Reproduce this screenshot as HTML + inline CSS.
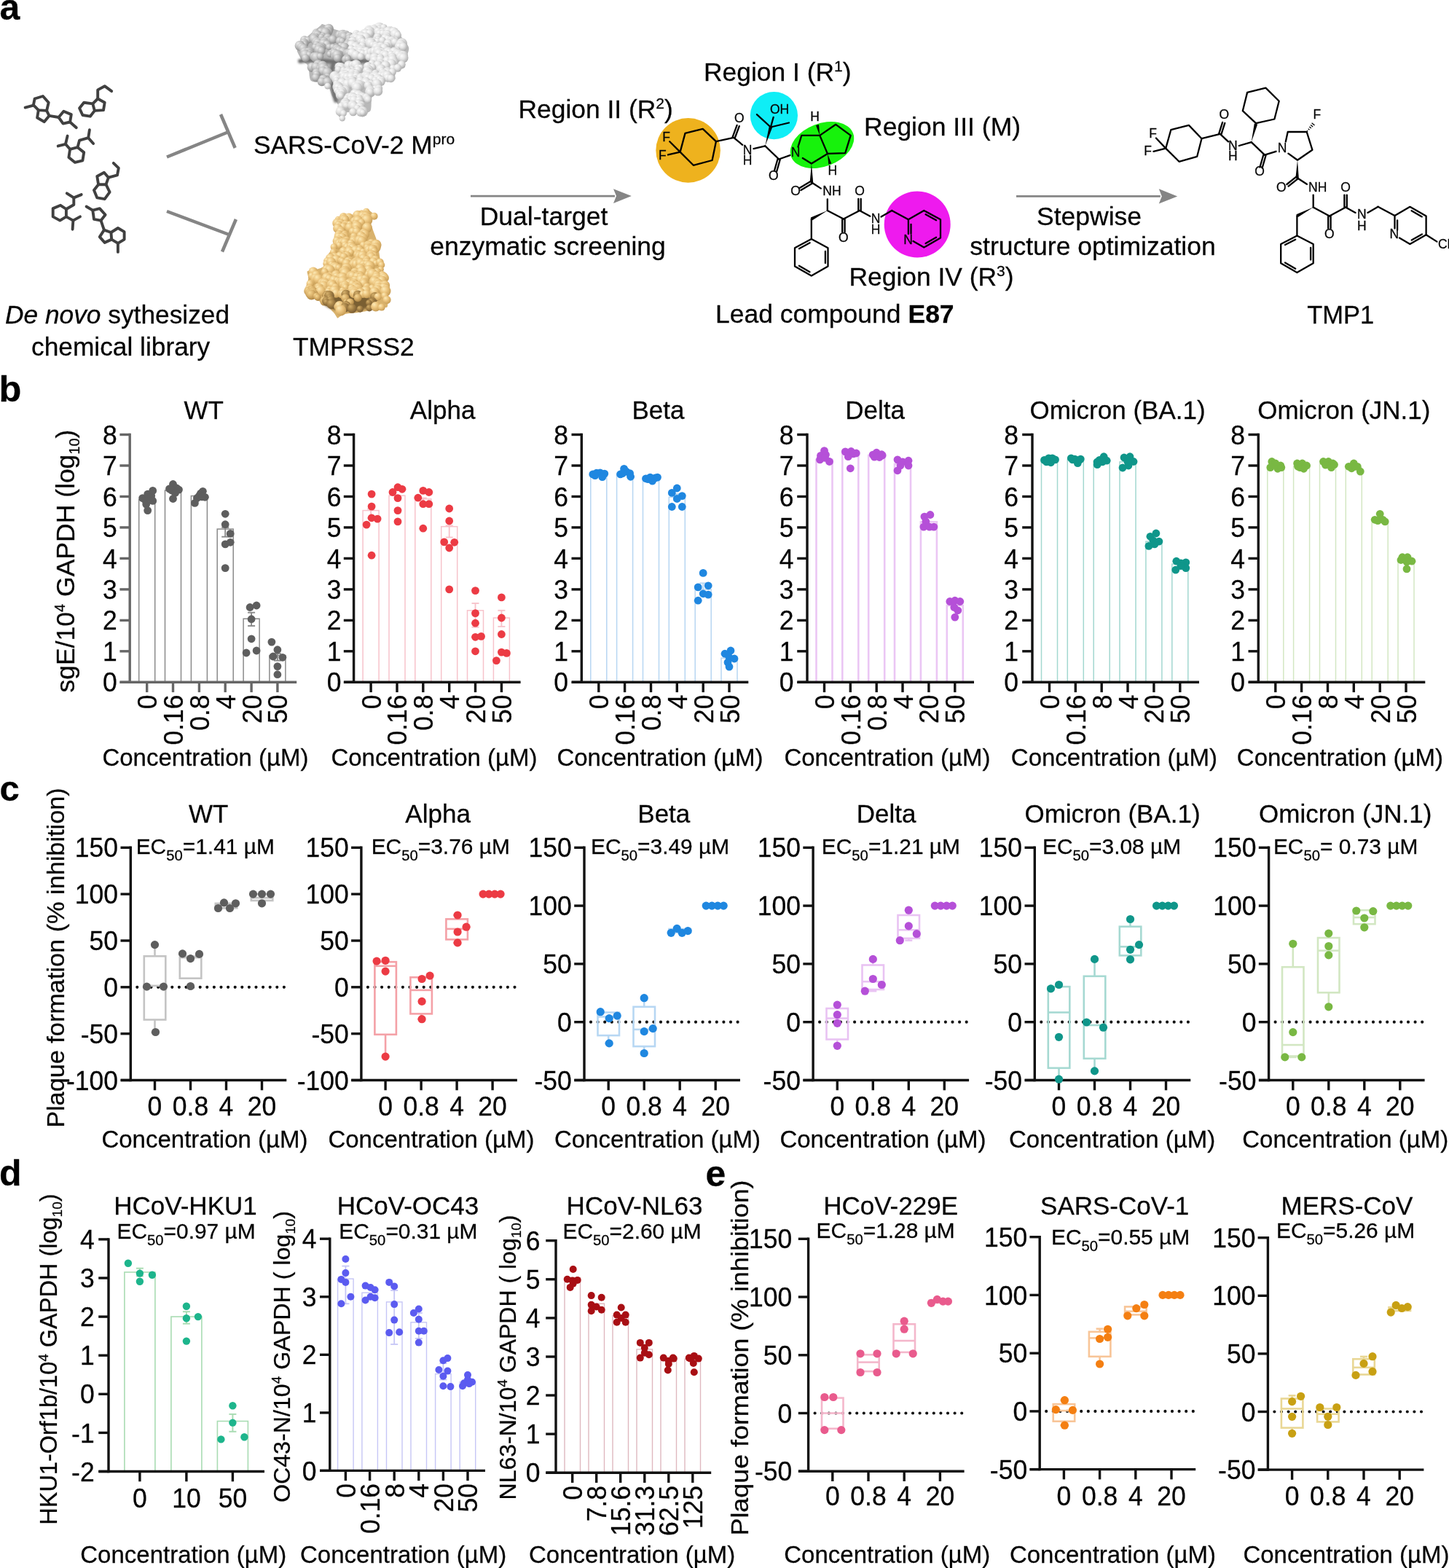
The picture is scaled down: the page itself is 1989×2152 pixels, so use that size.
<!DOCTYPE html>
<html><head><meta charset="utf-8"><title>Figure</title>
<style>html,body{margin:0;padding:0;background:#fff;}svg{display:block;}text{font-family:'Liberation Sans', Arial, Helvetica, sans-serif;stroke:#1a1a1a;stroke-width:0.3px;}</style>
</head><body>
<svg width="1989" height="2152" viewBox="0 0 1989 2152">
<rect width="1989" height="2152" fill="#fff"/>
<rect x="190.7" y="685.7" width="22.0" height="250.6" fill="none" stroke="#8a8a8a" stroke-width="1.5"/>
<rect x="226.5" y="673.0" width="22.0" height="263.3" fill="none" stroke="#8a8a8a" stroke-width="1.5"/>
<rect x="262.4" y="680.6" width="22.0" height="255.7" fill="none" stroke="#8a8a8a" stroke-width="1.5"/>
<rect x="298.2" y="726.1" width="22.0" height="210.2" fill="none" stroke="#8a8a8a" stroke-width="1.5"/>
<rect x="334.1" y="849.2" width="22.0" height="87.1" fill="none" stroke="#8a8a8a" stroke-width="1.5"/>
<rect x="369.9" y="899.8" width="22.0" height="36.5" fill="none" stroke="#8a8a8a" stroke-width="1.5"/>
<line x1="201.7" y1="690.8" x2="201.7" y2="680.6" stroke="#8a8a8a" stroke-width="1.9" stroke-linecap="butt"/>
<line x1="196.7" y1="690.8" x2="206.7" y2="690.8" stroke="#8a8a8a" stroke-width="1.9" stroke-linecap="butt"/>
<line x1="196.7" y1="680.6" x2="206.7" y2="680.6" stroke="#8a8a8a" stroke-width="1.9" stroke-linecap="butt"/>
<line x1="309.2" y1="736.7" x2="309.2" y2="723.9" stroke="#8a8a8a" stroke-width="1.9" stroke-linecap="butt"/>
<line x1="304.2" y1="736.7" x2="314.2" y2="736.7" stroke="#8a8a8a" stroke-width="1.9" stroke-linecap="butt"/>
<line x1="304.2" y1="723.9" x2="314.2" y2="723.9" stroke="#8a8a8a" stroke-width="1.9" stroke-linecap="butt"/>
<line x1="345.1" y1="859.0" x2="345.1" y2="840.7" stroke="#8a8a8a" stroke-width="1.9" stroke-linecap="butt"/>
<line x1="340.1" y1="859.0" x2="350.1" y2="859.0" stroke="#8a8a8a" stroke-width="1.9" stroke-linecap="butt"/>
<line x1="340.1" y1="840.7" x2="350.1" y2="840.7" stroke="#8a8a8a" stroke-width="1.9" stroke-linecap="butt"/>
<line x1="380.9" y1="906.6" x2="380.9" y2="897.2" stroke="#8a8a8a" stroke-width="1.9" stroke-linecap="butt"/>
<line x1="375.9" y1="906.6" x2="385.9" y2="906.6" stroke="#8a8a8a" stroke-width="1.9" stroke-linecap="butt"/>
<line x1="375.9" y1="897.2" x2="385.9" y2="897.2" stroke="#8a8a8a" stroke-width="1.9" stroke-linecap="butt"/>
<line x1="178.2" y1="594.8" x2="178.2" y2="938.0" stroke="#666666" stroke-width="3.4" stroke-linecap="butt"/>
<line x1="164.4" y1="936.3" x2="178.2" y2="936.3" stroke="#666666" stroke-width="3.4" stroke-linecap="butt"/>
<text x="160.8" y="949.5" font-size="35.5" text-anchor="end" transform="matrix(1 0 0 1.06 0 -56.97)">0</text>
<line x1="164.4" y1="893.8" x2="178.2" y2="893.8" stroke="#666666" stroke-width="3.4" stroke-linecap="butt"/>
<text x="160.8" y="907.0" font-size="35.5" text-anchor="end" transform="matrix(1 0 0 1.06 0 -54.42)">1</text>
<line x1="164.4" y1="851.4" x2="178.2" y2="851.4" stroke="#666666" stroke-width="3.4" stroke-linecap="butt"/>
<text x="160.8" y="864.5" font-size="35.5" text-anchor="end" transform="matrix(1 0 0 1.06 0 -51.87)">2</text>
<line x1="164.4" y1="808.9" x2="178.2" y2="808.9" stroke="#666666" stroke-width="3.4" stroke-linecap="butt"/>
<text x="160.8" y="822.1" font-size="35.5" text-anchor="end" transform="matrix(1 0 0 1.06 0 -49.32)">3</text>
<line x1="164.4" y1="766.4" x2="178.2" y2="766.4" stroke="#666666" stroke-width="3.4" stroke-linecap="butt"/>
<text x="160.8" y="779.6" font-size="35.5" text-anchor="end" transform="matrix(1 0 0 1.06 0 -46.78)">4</text>
<line x1="164.4" y1="723.9" x2="178.2" y2="723.9" stroke="#666666" stroke-width="3.4" stroke-linecap="butt"/>
<text x="160.8" y="737.1" font-size="35.5" text-anchor="end" transform="matrix(1 0 0 1.06 0 -44.23)">5</text>
<line x1="164.4" y1="681.5" x2="178.2" y2="681.5" stroke="#666666" stroke-width="3.4" stroke-linecap="butt"/>
<text x="160.8" y="694.7" font-size="35.5" text-anchor="end" transform="matrix(1 0 0 1.06 0 -41.68)">6</text>
<line x1="164.4" y1="639.0" x2="178.2" y2="639.0" stroke="#666666" stroke-width="3.4" stroke-linecap="butt"/>
<text x="160.8" y="652.2" font-size="35.5" text-anchor="end" transform="matrix(1 0 0 1.06 0 -39.13)">7</text>
<line x1="164.4" y1="596.5" x2="178.2" y2="596.5" stroke="#666666" stroke-width="3.4" stroke-linecap="butt"/>
<text x="160.8" y="609.7" font-size="35.5" text-anchor="end" transform="matrix(1 0 0 1.06 0 -36.58)">8</text>
<line x1="164.7" y1="936.3" x2="407.2" y2="936.3" stroke="#666666" stroke-width="3.4" stroke-linecap="butt"/>
<line x1="201.7" y1="936.3" x2="201.7" y2="950.1" stroke="#666666" stroke-width="3.4" stroke-linecap="butt"/>
<line x1="237.5" y1="936.3" x2="237.5" y2="950.1" stroke="#666666" stroke-width="3.4" stroke-linecap="butt"/>
<line x1="273.4" y1="936.3" x2="273.4" y2="950.1" stroke="#666666" stroke-width="3.4" stroke-linecap="butt"/>
<line x1="309.2" y1="936.3" x2="309.2" y2="950.1" stroke="#666666" stroke-width="3.4" stroke-linecap="butt"/>
<line x1="345.1" y1="936.3" x2="345.1" y2="950.1" stroke="#666666" stroke-width="3.4" stroke-linecap="butt"/>
<line x1="380.9" y1="936.3" x2="380.9" y2="950.1" stroke="#666666" stroke-width="3.4" stroke-linecap="butt"/>
<text x="215.2" y="953.5" font-size="35.5" text-anchor="end" transform="matrix(1.06 0 0 1 -12.91 0) rotate(-90 215.2 953.5)">0</text>
<text x="251.1" y="953.5" font-size="35.5" text-anchor="end" transform="matrix(1.06 0 0 1 -15.07 0) rotate(-90 251.1 953.5)">0.16</text>
<text x="286.9" y="953.5" font-size="35.5" text-anchor="end" transform="matrix(1.06 0 0 1 -17.22 0) rotate(-90 286.9 953.5)">0.8</text>
<text x="322.8" y="953.5" font-size="35.5" text-anchor="end" transform="matrix(1.06 0 0 1 -19.37 0) rotate(-90 322.8 953.5)">4</text>
<text x="358.6" y="953.5" font-size="35.5" text-anchor="end" transform="matrix(1.06 0 0 1 -21.52 0) rotate(-90 358.6 953.5)">20</text>
<text x="394.5" y="953.5" font-size="35.5" text-anchor="end" transform="matrix(1.06 0 0 1 -23.67 0) rotate(-90 394.5 953.5)">50</text>
<text x="279.6" y="575.0" font-size="35" text-anchor="middle">WT</text>
<text x="282.0" y="1051.0" font-size="33" text-anchor="middle">Concentration (µM)</text>
<rect x="498.1" y="700.6" width="22.0" height="235.7" fill="none" stroke="#f7c3cb" stroke-width="1.5"/>
<rect x="534.0" y="680.2" width="22.0" height="256.1" fill="none" stroke="#f7c3cb" stroke-width="1.5"/>
<rect x="569.8" y="684.9" width="22.0" height="251.4" fill="none" stroke="#f7c3cb" stroke-width="1.5"/>
<rect x="605.7" y="722.7" width="22.0" height="213.6" fill="none" stroke="#f7c3cb" stroke-width="1.5"/>
<rect x="641.5" y="837.8" width="22.0" height="98.5" fill="none" stroke="#f7c3cb" stroke-width="1.5"/>
<rect x="677.4" y="848.0" width="22.0" height="88.3" fill="none" stroke="#f7c3cb" stroke-width="1.5"/>
<line x1="509.1" y1="711.2" x2="509.1" y2="698.5" stroke="#f7c3cb" stroke-width="1.9" stroke-linecap="butt"/>
<line x1="504.1" y1="711.2" x2="514.1" y2="711.2" stroke="#f7c3cb" stroke-width="1.9" stroke-linecap="butt"/>
<line x1="504.1" y1="698.5" x2="514.1" y2="698.5" stroke="#f7c3cb" stroke-width="1.9" stroke-linecap="butt"/>
<line x1="580.8" y1="690.8" x2="580.8" y2="683.6" stroke="#f7c3cb" stroke-width="1.9" stroke-linecap="butt"/>
<line x1="575.8" y1="690.8" x2="585.8" y2="690.8" stroke="#f7c3cb" stroke-width="1.9" stroke-linecap="butt"/>
<line x1="575.8" y1="683.6" x2="585.8" y2="683.6" stroke="#f7c3cb" stroke-width="1.9" stroke-linecap="butt"/>
<line x1="616.7" y1="737.5" x2="616.7" y2="721.4" stroke="#f7c3cb" stroke-width="1.9" stroke-linecap="butt"/>
<line x1="611.7" y1="737.5" x2="621.7" y2="737.5" stroke="#f7c3cb" stroke-width="1.9" stroke-linecap="butt"/>
<line x1="611.7" y1="721.4" x2="621.7" y2="721.4" stroke="#f7c3cb" stroke-width="1.9" stroke-linecap="butt"/>
<line x1="652.5" y1="860.7" x2="652.5" y2="828.0" stroke="#f7c3cb" stroke-width="1.9" stroke-linecap="butt"/>
<line x1="647.5" y1="860.7" x2="657.5" y2="860.7" stroke="#f7c3cb" stroke-width="1.9" stroke-linecap="butt"/>
<line x1="647.5" y1="828.0" x2="657.5" y2="828.0" stroke="#f7c3cb" stroke-width="1.9" stroke-linecap="butt"/>
<line x1="688.4" y1="859.9" x2="688.4" y2="837.8" stroke="#f7c3cb" stroke-width="1.9" stroke-linecap="butt"/>
<line x1="683.4" y1="859.9" x2="693.4" y2="859.9" stroke="#f7c3cb" stroke-width="1.9" stroke-linecap="butt"/>
<line x1="683.4" y1="837.8" x2="693.4" y2="837.8" stroke="#f7c3cb" stroke-width="1.9" stroke-linecap="butt"/>
<line x1="485.6" y1="594.8" x2="485.6" y2="938.0" stroke="#111" stroke-width="3.4" stroke-linecap="butt"/>
<line x1="471.8" y1="936.3" x2="485.6" y2="936.3" stroke="#111" stroke-width="3.4" stroke-linecap="butt"/>
<text x="468.6" y="949.5" font-size="35.5" text-anchor="end" transform="matrix(1 0 0 1.06 0 -56.97)">0</text>
<line x1="471.8" y1="893.8" x2="485.6" y2="893.8" stroke="#111" stroke-width="3.4" stroke-linecap="butt"/>
<text x="468.6" y="907.0" font-size="35.5" text-anchor="end" transform="matrix(1 0 0 1.06 0 -54.42)">1</text>
<line x1="471.8" y1="851.4" x2="485.6" y2="851.4" stroke="#111" stroke-width="3.4" stroke-linecap="butt"/>
<text x="468.6" y="864.5" font-size="35.5" text-anchor="end" transform="matrix(1 0 0 1.06 0 -51.87)">2</text>
<line x1="471.8" y1="808.9" x2="485.6" y2="808.9" stroke="#111" stroke-width="3.4" stroke-linecap="butt"/>
<text x="468.6" y="822.1" font-size="35.5" text-anchor="end" transform="matrix(1 0 0 1.06 0 -49.32)">3</text>
<line x1="471.8" y1="766.4" x2="485.6" y2="766.4" stroke="#111" stroke-width="3.4" stroke-linecap="butt"/>
<text x="468.6" y="779.6" font-size="35.5" text-anchor="end" transform="matrix(1 0 0 1.06 0 -46.78)">4</text>
<line x1="471.8" y1="723.9" x2="485.6" y2="723.9" stroke="#111" stroke-width="3.4" stroke-linecap="butt"/>
<text x="468.6" y="737.1" font-size="35.5" text-anchor="end" transform="matrix(1 0 0 1.06 0 -44.23)">5</text>
<line x1="471.8" y1="681.5" x2="485.6" y2="681.5" stroke="#111" stroke-width="3.4" stroke-linecap="butt"/>
<text x="468.6" y="694.7" font-size="35.5" text-anchor="end" transform="matrix(1 0 0 1.06 0 -41.68)">6</text>
<line x1="471.8" y1="639.0" x2="485.6" y2="639.0" stroke="#111" stroke-width="3.4" stroke-linecap="butt"/>
<text x="468.6" y="652.2" font-size="35.5" text-anchor="end" transform="matrix(1 0 0 1.06 0 -39.13)">7</text>
<line x1="471.8" y1="596.5" x2="485.6" y2="596.5" stroke="#111" stroke-width="3.4" stroke-linecap="butt"/>
<text x="468.6" y="609.7" font-size="35.5" text-anchor="end" transform="matrix(1 0 0 1.06 0 -36.58)">8</text>
<line x1="472.1" y1="936.3" x2="714.6" y2="936.3" stroke="#111" stroke-width="3.4" stroke-linecap="butt"/>
<line x1="509.1" y1="936.3" x2="509.1" y2="950.1" stroke="#111" stroke-width="3.4" stroke-linecap="butt"/>
<line x1="545.0" y1="936.3" x2="545.0" y2="950.1" stroke="#111" stroke-width="3.4" stroke-linecap="butt"/>
<line x1="580.8" y1="936.3" x2="580.8" y2="950.1" stroke="#111" stroke-width="3.4" stroke-linecap="butt"/>
<line x1="616.7" y1="936.3" x2="616.7" y2="950.1" stroke="#111" stroke-width="3.4" stroke-linecap="butt"/>
<line x1="652.5" y1="936.3" x2="652.5" y2="950.1" stroke="#111" stroke-width="3.4" stroke-linecap="butt"/>
<line x1="688.4" y1="936.3" x2="688.4" y2="950.1" stroke="#111" stroke-width="3.4" stroke-linecap="butt"/>
<text x="522.6" y="953.5" font-size="35.5" text-anchor="end" transform="matrix(1.06 0 0 1 -31.36 0) rotate(-90 522.6 953.5)">0</text>
<text x="558.5" y="953.5" font-size="35.5" text-anchor="end" transform="matrix(1.06 0 0 1 -33.51 0) rotate(-90 558.5 953.5)">0.16</text>
<text x="594.3" y="953.5" font-size="35.5" text-anchor="end" transform="matrix(1.06 0 0 1 -35.66 0) rotate(-90 594.3 953.5)">0.8</text>
<text x="630.2" y="953.5" font-size="35.5" text-anchor="end" transform="matrix(1.06 0 0 1 -37.81 0) rotate(-90 630.2 953.5)">4</text>
<text x="666.0" y="953.5" font-size="35.5" text-anchor="end" transform="matrix(1.06 0 0 1 -39.96 0) rotate(-90 666.0 953.5)">20</text>
<text x="701.9" y="953.5" font-size="35.5" text-anchor="end" transform="matrix(1.06 0 0 1 -42.11 0) rotate(-90 701.9 953.5)">50</text>
<text x="607.6" y="575.0" font-size="35" text-anchor="middle">Alpha</text>
<text x="596.0" y="1051.0" font-size="33" text-anchor="middle">Concentration (µM)</text>
<rect x="810.8" y="652.6" width="22.0" height="283.7" fill="none" stroke="#b7d6f2" stroke-width="1.5"/>
<rect x="846.6" y="650.1" width="22.0" height="286.2" fill="none" stroke="#b7d6f2" stroke-width="1.5"/>
<rect x="882.5" y="657.3" width="22.0" height="279.0" fill="none" stroke="#b7d6f2" stroke-width="1.5"/>
<rect x="918.3" y="682.3" width="22.0" height="254.0" fill="none" stroke="#b7d6f2" stroke-width="1.5"/>
<rect x="954.2" y="808.9" width="22.0" height="127.4" fill="none" stroke="#b7d6f2" stroke-width="1.5"/>
<rect x="990.0" y="903.2" width="22.0" height="33.1" fill="none" stroke="#b7d6f2" stroke-width="1.5"/>
<line x1="929.3" y1="686.6" x2="929.3" y2="678.1" stroke="#b7d6f2" stroke-width="1.9" stroke-linecap="butt"/>
<line x1="924.3" y1="686.6" x2="934.3" y2="686.6" stroke="#b7d6f2" stroke-width="1.9" stroke-linecap="butt"/>
<line x1="924.3" y1="678.1" x2="934.3" y2="678.1" stroke="#b7d6f2" stroke-width="1.9" stroke-linecap="butt"/>
<line x1="965.2" y1="815.3" x2="965.2" y2="800.4" stroke="#b7d6f2" stroke-width="1.9" stroke-linecap="butt"/>
<line x1="960.2" y1="815.3" x2="970.2" y2="815.3" stroke="#b7d6f2" stroke-width="1.9" stroke-linecap="butt"/>
<line x1="960.2" y1="800.4" x2="970.2" y2="800.4" stroke="#b7d6f2" stroke-width="1.9" stroke-linecap="butt"/>
<line x1="1001.0" y1="905.7" x2="1001.0" y2="900.6" stroke="#b7d6f2" stroke-width="1.9" stroke-linecap="butt"/>
<line x1="996.0" y1="905.7" x2="1006.0" y2="905.7" stroke="#b7d6f2" stroke-width="1.9" stroke-linecap="butt"/>
<line x1="996.0" y1="900.6" x2="1006.0" y2="900.6" stroke="#b7d6f2" stroke-width="1.9" stroke-linecap="butt"/>
<line x1="798.3" y1="594.8" x2="798.3" y2="938.0" stroke="#111" stroke-width="3.4" stroke-linecap="butt"/>
<line x1="784.5" y1="936.3" x2="798.3" y2="936.3" stroke="#111" stroke-width="3.4" stroke-linecap="butt"/>
<text x="779.9" y="949.5" font-size="35.5" text-anchor="end" transform="matrix(1 0 0 1.06 0 -56.97)">0</text>
<line x1="784.5" y1="893.8" x2="798.3" y2="893.8" stroke="#111" stroke-width="3.4" stroke-linecap="butt"/>
<text x="779.9" y="907.0" font-size="35.5" text-anchor="end" transform="matrix(1 0 0 1.06 0 -54.42)">1</text>
<line x1="784.5" y1="851.4" x2="798.3" y2="851.4" stroke="#111" stroke-width="3.4" stroke-linecap="butt"/>
<text x="779.9" y="864.5" font-size="35.5" text-anchor="end" transform="matrix(1 0 0 1.06 0 -51.87)">2</text>
<line x1="784.5" y1="808.9" x2="798.3" y2="808.9" stroke="#111" stroke-width="3.4" stroke-linecap="butt"/>
<text x="779.9" y="822.1" font-size="35.5" text-anchor="end" transform="matrix(1 0 0 1.06 0 -49.32)">3</text>
<line x1="784.5" y1="766.4" x2="798.3" y2="766.4" stroke="#111" stroke-width="3.4" stroke-linecap="butt"/>
<text x="779.9" y="779.6" font-size="35.5" text-anchor="end" transform="matrix(1 0 0 1.06 0 -46.78)">4</text>
<line x1="784.5" y1="723.9" x2="798.3" y2="723.9" stroke="#111" stroke-width="3.4" stroke-linecap="butt"/>
<text x="779.9" y="737.1" font-size="35.5" text-anchor="end" transform="matrix(1 0 0 1.06 0 -44.23)">5</text>
<line x1="784.5" y1="681.5" x2="798.3" y2="681.5" stroke="#111" stroke-width="3.4" stroke-linecap="butt"/>
<text x="779.9" y="694.7" font-size="35.5" text-anchor="end" transform="matrix(1 0 0 1.06 0 -41.68)">6</text>
<line x1="784.5" y1="639.0" x2="798.3" y2="639.0" stroke="#111" stroke-width="3.4" stroke-linecap="butt"/>
<text x="779.9" y="652.2" font-size="35.5" text-anchor="end" transform="matrix(1 0 0 1.06 0 -39.13)">7</text>
<line x1="784.5" y1="596.5" x2="798.3" y2="596.5" stroke="#111" stroke-width="3.4" stroke-linecap="butt"/>
<text x="779.9" y="609.7" font-size="35.5" text-anchor="end" transform="matrix(1 0 0 1.06 0 -36.58)">8</text>
<line x1="784.8" y1="936.3" x2="1027.3" y2="936.3" stroke="#111" stroke-width="3.4" stroke-linecap="butt"/>
<line x1="821.8" y1="936.3" x2="821.8" y2="950.1" stroke="#111" stroke-width="3.4" stroke-linecap="butt"/>
<line x1="857.6" y1="936.3" x2="857.6" y2="950.1" stroke="#111" stroke-width="3.4" stroke-linecap="butt"/>
<line x1="893.5" y1="936.3" x2="893.5" y2="950.1" stroke="#111" stroke-width="3.4" stroke-linecap="butt"/>
<line x1="929.3" y1="936.3" x2="929.3" y2="950.1" stroke="#111" stroke-width="3.4" stroke-linecap="butt"/>
<line x1="965.2" y1="936.3" x2="965.2" y2="950.1" stroke="#111" stroke-width="3.4" stroke-linecap="butt"/>
<line x1="1001.0" y1="936.3" x2="1001.0" y2="950.1" stroke="#111" stroke-width="3.4" stroke-linecap="butt"/>
<text x="835.3" y="953.5" font-size="35.5" text-anchor="end" transform="matrix(1.06 0 0 1 -50.12 0) rotate(-90 835.3 953.5)">0</text>
<text x="871.2" y="953.5" font-size="35.5" text-anchor="end" transform="matrix(1.06 0 0 1 -52.27 0) rotate(-90 871.2 953.5)">0.16</text>
<text x="907.0" y="953.5" font-size="35.5" text-anchor="end" transform="matrix(1.06 0 0 1 -54.42 0) rotate(-90 907.0 953.5)">0.8</text>
<text x="942.9" y="953.5" font-size="35.5" text-anchor="end" transform="matrix(1.06 0 0 1 -56.57 0) rotate(-90 942.9 953.5)">4</text>
<text x="978.7" y="953.5" font-size="35.5" text-anchor="end" transform="matrix(1.06 0 0 1 -58.72 0) rotate(-90 978.7 953.5)">20</text>
<text x="1014.6" y="953.5" font-size="35.5" text-anchor="end" transform="matrix(1.06 0 0 1 -60.88 0) rotate(-90 1014.6 953.5)">50</text>
<text x="903.4" y="575.0" font-size="35" text-anchor="middle">Beta</text>
<text x="906.0" y="1051.0" font-size="33" text-anchor="middle">Concentration (µM)</text>
<rect x="1120.5" y="630.9" width="22.0" height="305.4" fill="none" stroke="#ebc6f4" stroke-width="2.6"/>
<rect x="1156.3" y="622.9" width="22.0" height="313.4" fill="none" stroke="#ebc6f4" stroke-width="2.6"/>
<rect x="1192.2" y="625.0" width="22.0" height="311.3" fill="none" stroke="#ebc6f4" stroke-width="2.6"/>
<rect x="1228.0" y="636.9" width="22.0" height="299.4" fill="none" stroke="#ebc6f4" stroke-width="2.6"/>
<rect x="1263.9" y="716.3" width="22.0" height="220.0" fill="none" stroke="#ebc6f4" stroke-width="2.6"/>
<rect x="1299.8" y="831.0" width="22.0" height="105.3" fill="none" stroke="#ebc6f4" stroke-width="2.6"/>
<line x1="1108.0" y1="594.8" x2="1108.0" y2="938.0" stroke="#111" stroke-width="3.4" stroke-linecap="butt"/>
<line x1="1094.2" y1="936.3" x2="1108.0" y2="936.3" stroke="#111" stroke-width="3.4" stroke-linecap="butt"/>
<text x="1089.6" y="949.5" font-size="35.5" text-anchor="end" transform="matrix(1 0 0 1.06 0 -56.97)">0</text>
<line x1="1094.2" y1="893.8" x2="1108.0" y2="893.8" stroke="#111" stroke-width="3.4" stroke-linecap="butt"/>
<text x="1089.6" y="907.0" font-size="35.5" text-anchor="end" transform="matrix(1 0 0 1.06 0 -54.42)">1</text>
<line x1="1094.2" y1="851.4" x2="1108.0" y2="851.4" stroke="#111" stroke-width="3.4" stroke-linecap="butt"/>
<text x="1089.6" y="864.5" font-size="35.5" text-anchor="end" transform="matrix(1 0 0 1.06 0 -51.87)">2</text>
<line x1="1094.2" y1="808.9" x2="1108.0" y2="808.9" stroke="#111" stroke-width="3.4" stroke-linecap="butt"/>
<text x="1089.6" y="822.1" font-size="35.5" text-anchor="end" transform="matrix(1 0 0 1.06 0 -49.32)">3</text>
<line x1="1094.2" y1="766.4" x2="1108.0" y2="766.4" stroke="#111" stroke-width="3.4" stroke-linecap="butt"/>
<text x="1089.6" y="779.6" font-size="35.5" text-anchor="end" transform="matrix(1 0 0 1.06 0 -46.78)">4</text>
<line x1="1094.2" y1="723.9" x2="1108.0" y2="723.9" stroke="#111" stroke-width="3.4" stroke-linecap="butt"/>
<text x="1089.6" y="737.1" font-size="35.5" text-anchor="end" transform="matrix(1 0 0 1.06 0 -44.23)">5</text>
<line x1="1094.2" y1="681.5" x2="1108.0" y2="681.5" stroke="#111" stroke-width="3.4" stroke-linecap="butt"/>
<text x="1089.6" y="694.7" font-size="35.5" text-anchor="end" transform="matrix(1 0 0 1.06 0 -41.68)">6</text>
<line x1="1094.2" y1="639.0" x2="1108.0" y2="639.0" stroke="#111" stroke-width="3.4" stroke-linecap="butt"/>
<text x="1089.6" y="652.2" font-size="35.5" text-anchor="end" transform="matrix(1 0 0 1.06 0 -39.13)">7</text>
<line x1="1094.2" y1="596.5" x2="1108.0" y2="596.5" stroke="#111" stroke-width="3.4" stroke-linecap="butt"/>
<text x="1089.6" y="609.7" font-size="35.5" text-anchor="end" transform="matrix(1 0 0 1.06 0 -36.58)">8</text>
<line x1="1094.5" y1="936.3" x2="1337.0" y2="936.3" stroke="#111" stroke-width="3.4" stroke-linecap="butt"/>
<line x1="1131.5" y1="936.3" x2="1131.5" y2="950.1" stroke="#111" stroke-width="3.4" stroke-linecap="butt"/>
<line x1="1167.3" y1="936.3" x2="1167.3" y2="950.1" stroke="#111" stroke-width="3.4" stroke-linecap="butt"/>
<line x1="1203.2" y1="936.3" x2="1203.2" y2="950.1" stroke="#111" stroke-width="3.4" stroke-linecap="butt"/>
<line x1="1239.0" y1="936.3" x2="1239.0" y2="950.1" stroke="#111" stroke-width="3.4" stroke-linecap="butt"/>
<line x1="1274.9" y1="936.3" x2="1274.9" y2="950.1" stroke="#111" stroke-width="3.4" stroke-linecap="butt"/>
<line x1="1310.8" y1="936.3" x2="1310.8" y2="950.1" stroke="#111" stroke-width="3.4" stroke-linecap="butt"/>
<text x="1145.0" y="953.5" font-size="35.5" text-anchor="end" transform="matrix(1.06 0 0 1 -68.70 0) rotate(-90 1145.0 953.5)">0</text>
<text x="1180.9" y="953.5" font-size="35.5" text-anchor="end" transform="matrix(1.06 0 0 1 -70.85 0) rotate(-90 1180.9 953.5)">0.16</text>
<text x="1216.7" y="953.5" font-size="35.5" text-anchor="end" transform="matrix(1.06 0 0 1 -73.00 0) rotate(-90 1216.7 953.5)">0.8</text>
<text x="1252.6" y="953.5" font-size="35.5" text-anchor="end" transform="matrix(1.06 0 0 1 -75.16 0) rotate(-90 1252.6 953.5)">4</text>
<text x="1288.4" y="953.5" font-size="35.5" text-anchor="end" transform="matrix(1.06 0 0 1 -77.31 0) rotate(-90 1288.4 953.5)">20</text>
<text x="1324.3" y="953.5" font-size="35.5" text-anchor="end" transform="matrix(1.06 0 0 1 -79.46 0) rotate(-90 1324.3 953.5)">50</text>
<text x="1201.0" y="575.0" font-size="35" text-anchor="middle">Delta</text>
<text x="1218.0" y="1051.0" font-size="33" text-anchor="middle">Concentration (µM)</text>
<rect x="1429.5" y="632.6" width="22.0" height="303.7" fill="none" stroke="#a3d8d0" stroke-width="1.5"/>
<rect x="1465.3" y="630.5" width="22.0" height="305.8" fill="none" stroke="#a3d8d0" stroke-width="1.5"/>
<rect x="1501.2" y="632.6" width="22.0" height="303.7" fill="none" stroke="#a3d8d0" stroke-width="1.5"/>
<rect x="1537.0" y="633.9" width="22.0" height="302.4" fill="none" stroke="#a3d8d0" stroke-width="1.5"/>
<rect x="1572.9" y="743.1" width="22.0" height="193.2" fill="none" stroke="#a3d8d0" stroke-width="1.5"/>
<rect x="1608.8" y="774.1" width="22.0" height="162.2" fill="none" stroke="#a3d8d0" stroke-width="1.5"/>
<line x1="1417.0" y1="594.8" x2="1417.0" y2="938.0" stroke="#111" stroke-width="3.4" stroke-linecap="butt"/>
<line x1="1403.2" y1="936.3" x2="1417.0" y2="936.3" stroke="#111" stroke-width="3.4" stroke-linecap="butt"/>
<text x="1398.0" y="949.5" font-size="35.5" text-anchor="end" transform="matrix(1 0 0 1.06 0 -56.97)">0</text>
<line x1="1403.2" y1="893.8" x2="1417.0" y2="893.8" stroke="#111" stroke-width="3.4" stroke-linecap="butt"/>
<text x="1398.0" y="907.0" font-size="35.5" text-anchor="end" transform="matrix(1 0 0 1.06 0 -54.42)">1</text>
<line x1="1403.2" y1="851.4" x2="1417.0" y2="851.4" stroke="#111" stroke-width="3.4" stroke-linecap="butt"/>
<text x="1398.0" y="864.5" font-size="35.5" text-anchor="end" transform="matrix(1 0 0 1.06 0 -51.87)">2</text>
<line x1="1403.2" y1="808.9" x2="1417.0" y2="808.9" stroke="#111" stroke-width="3.4" stroke-linecap="butt"/>
<text x="1398.0" y="822.1" font-size="35.5" text-anchor="end" transform="matrix(1 0 0 1.06 0 -49.32)">3</text>
<line x1="1403.2" y1="766.4" x2="1417.0" y2="766.4" stroke="#111" stroke-width="3.4" stroke-linecap="butt"/>
<text x="1398.0" y="779.6" font-size="35.5" text-anchor="end" transform="matrix(1 0 0 1.06 0 -46.78)">4</text>
<line x1="1403.2" y1="723.9" x2="1417.0" y2="723.9" stroke="#111" stroke-width="3.4" stroke-linecap="butt"/>
<text x="1398.0" y="737.1" font-size="35.5" text-anchor="end" transform="matrix(1 0 0 1.06 0 -44.23)">5</text>
<line x1="1403.2" y1="681.5" x2="1417.0" y2="681.5" stroke="#111" stroke-width="3.4" stroke-linecap="butt"/>
<text x="1398.0" y="694.7" font-size="35.5" text-anchor="end" transform="matrix(1 0 0 1.06 0 -41.68)">6</text>
<line x1="1403.2" y1="639.0" x2="1417.0" y2="639.0" stroke="#111" stroke-width="3.4" stroke-linecap="butt"/>
<text x="1398.0" y="652.2" font-size="35.5" text-anchor="end" transform="matrix(1 0 0 1.06 0 -39.13)">7</text>
<line x1="1403.2" y1="596.5" x2="1417.0" y2="596.5" stroke="#111" stroke-width="3.4" stroke-linecap="butt"/>
<text x="1398.0" y="609.7" font-size="35.5" text-anchor="end" transform="matrix(1 0 0 1.06 0 -36.58)">8</text>
<line x1="1403.5" y1="936.3" x2="1646.0" y2="936.3" stroke="#111" stroke-width="3.4" stroke-linecap="butt"/>
<line x1="1440.5" y1="936.3" x2="1440.5" y2="950.1" stroke="#111" stroke-width="3.4" stroke-linecap="butt"/>
<line x1="1476.3" y1="936.3" x2="1476.3" y2="950.1" stroke="#111" stroke-width="3.4" stroke-linecap="butt"/>
<line x1="1512.2" y1="936.3" x2="1512.2" y2="950.1" stroke="#111" stroke-width="3.4" stroke-linecap="butt"/>
<line x1="1548.0" y1="936.3" x2="1548.0" y2="950.1" stroke="#111" stroke-width="3.4" stroke-linecap="butt"/>
<line x1="1583.9" y1="936.3" x2="1583.9" y2="950.1" stroke="#111" stroke-width="3.4" stroke-linecap="butt"/>
<line x1="1619.8" y1="936.3" x2="1619.8" y2="950.1" stroke="#111" stroke-width="3.4" stroke-linecap="butt"/>
<text x="1454.0" y="953.5" font-size="35.5" text-anchor="end" transform="matrix(1.06 0 0 1 -87.24 0) rotate(-90 1454.0 953.5)">0</text>
<text x="1489.9" y="953.5" font-size="35.5" text-anchor="end" transform="matrix(1.06 0 0 1 -89.39 0) rotate(-90 1489.9 953.5)">0.16</text>
<text x="1525.7" y="953.5" font-size="35.5" text-anchor="end" transform="matrix(1.06 0 0 1 -91.54 0) rotate(-90 1525.7 953.5)">8</text>
<text x="1561.6" y="953.5" font-size="35.5" text-anchor="end" transform="matrix(1.06 0 0 1 -93.70 0) rotate(-90 1561.6 953.5)">4</text>
<text x="1597.4" y="953.5" font-size="35.5" text-anchor="end" transform="matrix(1.06 0 0 1 -95.85 0) rotate(-90 1597.4 953.5)">20</text>
<text x="1633.3" y="953.5" font-size="35.5" text-anchor="end" transform="matrix(1.06 0 0 1 -98.00 0) rotate(-90 1633.3 953.5)">50</text>
<text x="1534.0" y="575.0" font-size="35" text-anchor="middle">Omicron (BA.1)</text>
<text x="1529.4" y="1051.0" font-size="33" text-anchor="middle">Concentration (µM)</text>
<rect x="1739.8" y="639.0" width="22.0" height="297.3" fill="none" stroke="#d3e7c3" stroke-width="1.5"/>
<rect x="1775.6" y="639.9" width="22.0" height="296.4" fill="none" stroke="#d3e7c3" stroke-width="1.5"/>
<rect x="1811.5" y="636.9" width="22.0" height="299.4" fill="none" stroke="#d3e7c3" stroke-width="1.5"/>
<rect x="1847.3" y="642.0" width="22.0" height="294.3" fill="none" stroke="#d3e7c3" stroke-width="1.5"/>
<rect x="1883.2" y="714.6" width="22.0" height="221.7" fill="none" stroke="#d3e7c3" stroke-width="1.5"/>
<rect x="1919.0" y="769.8" width="22.0" height="166.5" fill="none" stroke="#d3e7c3" stroke-width="1.5"/>
<line x1="1727.3" y1="594.8" x2="1727.3" y2="938.0" stroke="#111" stroke-width="3.4" stroke-linecap="butt"/>
<line x1="1713.5" y1="936.3" x2="1727.3" y2="936.3" stroke="#111" stroke-width="3.4" stroke-linecap="butt"/>
<text x="1708.9" y="949.5" font-size="35.5" text-anchor="end" transform="matrix(1 0 0 1.06 0 -56.97)">0</text>
<line x1="1713.5" y1="893.8" x2="1727.3" y2="893.8" stroke="#111" stroke-width="3.4" stroke-linecap="butt"/>
<text x="1708.9" y="907.0" font-size="35.5" text-anchor="end" transform="matrix(1 0 0 1.06 0 -54.42)">1</text>
<line x1="1713.5" y1="851.4" x2="1727.3" y2="851.4" stroke="#111" stroke-width="3.4" stroke-linecap="butt"/>
<text x="1708.9" y="864.5" font-size="35.5" text-anchor="end" transform="matrix(1 0 0 1.06 0 -51.87)">2</text>
<line x1="1713.5" y1="808.9" x2="1727.3" y2="808.9" stroke="#111" stroke-width="3.4" stroke-linecap="butt"/>
<text x="1708.9" y="822.1" font-size="35.5" text-anchor="end" transform="matrix(1 0 0 1.06 0 -49.32)">3</text>
<line x1="1713.5" y1="766.4" x2="1727.3" y2="766.4" stroke="#111" stroke-width="3.4" stroke-linecap="butt"/>
<text x="1708.9" y="779.6" font-size="35.5" text-anchor="end" transform="matrix(1 0 0 1.06 0 -46.78)">4</text>
<line x1="1713.5" y1="723.9" x2="1727.3" y2="723.9" stroke="#111" stroke-width="3.4" stroke-linecap="butt"/>
<text x="1708.9" y="737.1" font-size="35.5" text-anchor="end" transform="matrix(1 0 0 1.06 0 -44.23)">5</text>
<line x1="1713.5" y1="681.5" x2="1727.3" y2="681.5" stroke="#111" stroke-width="3.4" stroke-linecap="butt"/>
<text x="1708.9" y="694.7" font-size="35.5" text-anchor="end" transform="matrix(1 0 0 1.06 0 -41.68)">6</text>
<line x1="1713.5" y1="639.0" x2="1727.3" y2="639.0" stroke="#111" stroke-width="3.4" stroke-linecap="butt"/>
<text x="1708.9" y="652.2" font-size="35.5" text-anchor="end" transform="matrix(1 0 0 1.06 0 -39.13)">7</text>
<line x1="1713.5" y1="596.5" x2="1727.3" y2="596.5" stroke="#111" stroke-width="3.4" stroke-linecap="butt"/>
<text x="1708.9" y="609.7" font-size="35.5" text-anchor="end" transform="matrix(1 0 0 1.06 0 -36.58)">8</text>
<line x1="1713.8" y1="936.3" x2="1956.3" y2="936.3" stroke="#111" stroke-width="3.4" stroke-linecap="butt"/>
<line x1="1750.8" y1="936.3" x2="1750.8" y2="950.1" stroke="#111" stroke-width="3.4" stroke-linecap="butt"/>
<line x1="1786.6" y1="936.3" x2="1786.6" y2="950.1" stroke="#111" stroke-width="3.4" stroke-linecap="butt"/>
<line x1="1822.5" y1="936.3" x2="1822.5" y2="950.1" stroke="#111" stroke-width="3.4" stroke-linecap="butt"/>
<line x1="1858.3" y1="936.3" x2="1858.3" y2="950.1" stroke="#111" stroke-width="3.4" stroke-linecap="butt"/>
<line x1="1894.2" y1="936.3" x2="1894.2" y2="950.1" stroke="#111" stroke-width="3.4" stroke-linecap="butt"/>
<line x1="1930.0" y1="936.3" x2="1930.0" y2="950.1" stroke="#111" stroke-width="3.4" stroke-linecap="butt"/>
<text x="1764.3" y="953.5" font-size="35.5" text-anchor="end" transform="matrix(1.06 0 0 1 -105.86 0) rotate(-90 1764.3 953.5)">0</text>
<text x="1800.2" y="953.5" font-size="35.5" text-anchor="end" transform="matrix(1.06 0 0 1 -108.01 0) rotate(-90 1800.2 953.5)">0.16</text>
<text x="1836.0" y="953.5" font-size="35.5" text-anchor="end" transform="matrix(1.06 0 0 1 -110.16 0) rotate(-90 1836.0 953.5)">8</text>
<text x="1871.9" y="953.5" font-size="35.5" text-anchor="end" transform="matrix(1.06 0 0 1 -112.31 0) rotate(-90 1871.9 953.5)">4</text>
<text x="1907.7" y="953.5" font-size="35.5" text-anchor="end" transform="matrix(1.06 0 0 1 -114.46 0) rotate(-90 1907.7 953.5)">20</text>
<text x="1943.6" y="953.5" font-size="35.5" text-anchor="end" transform="matrix(1.06 0 0 1 -116.62 0) rotate(-90 1943.6 953.5)">50</text>
<text x="1844.8" y="575.0" font-size="35" text-anchor="middle">Omicron (JN.1)</text>
<text x="1839.4" y="1051.0" font-size="33" text-anchor="middle">Concentration (µM)</text>
<text transform="translate(102 770) rotate(-90)" font-size="35.5" text-anchor="middle">sgE/10<tspan font-size="20" dy="-13">4</tspan><tspan dy="13"> GAPDH (log</tspan><tspan font-size="20" dy="7">10</tspan><tspan dy="-7">)</tspan></text>
<line x1="188.3" y1="1354.8" x2="391.3" y2="1354.8" stroke="#111" stroke-width="4.2" stroke-dasharray="0 9.6" stroke-linecap="round"/>
<line x1="212.5" y1="1312.3" x2="212.5" y2="1296.6" stroke="#c4c4c4" stroke-width="2.6" stroke-linecap="butt"/>
<line x1="207.5" y1="1296.6" x2="217.5" y2="1296.6" stroke="#c4c4c4" stroke-width="2.6" stroke-linecap="butt"/>
<line x1="212.5" y1="1399.5" x2="212.5" y2="1417.1" stroke="#c4c4c4" stroke-width="2.6" stroke-linecap="butt"/>
<line x1="207.5" y1="1417.1" x2="217.5" y2="1417.1" stroke="#c4c4c4" stroke-width="2.6" stroke-linecap="butt"/>
<rect x="197.8" y="1312.3" width="29.5" height="87.2" fill="none" stroke="#c4c4c4" stroke-width="2.6"/>
<line x1="197.8" y1="1352.9" x2="227.2" y2="1352.9" stroke="#c4c4c4" stroke-width="2.6" stroke-linecap="butt"/>
<rect x="246.8" y="1314.2" width="29.5" height="28.5" fill="none" stroke="#c4c4c4" stroke-width="2.6"/>
<line x1="246.8" y1="1312.7" x2="276.2" y2="1312.7" stroke="#c4c4c4" stroke-width="2.6" stroke-linecap="butt"/>
<rect x="295.8" y="1239.9" width="29.5" height="6.4" fill="none" stroke="#c4c4c4" stroke-width="2.6"/>
<line x1="295.8" y1="1242.5" x2="325.2" y2="1242.5" stroke="#c4c4c4" stroke-width="2.6" stroke-linecap="butt"/>
<rect x="344.8" y="1227.1" width="29.5" height="8.9" fill="none" stroke="#c4c4c4" stroke-width="2.6"/>
<line x1="344.8" y1="1232.2" x2="374.2" y2="1232.2" stroke="#c4c4c4" stroke-width="2.6" stroke-linecap="butt"/>
<line x1="179.3" y1="1161.6" x2="179.3" y2="1484.2" stroke="#111" stroke-width="3.4" stroke-linecap="butt"/>
<line x1="165.5" y1="1482.5" x2="179.3" y2="1482.5" stroke="#111" stroke-width="3.4" stroke-linecap="butt"/>
<text x="162.1" y="1495.7" font-size="35.5" text-anchor="end" transform="matrix(1 0 0 1.06 0 -89.74)">-100</text>
<line x1="165.5" y1="1418.7" x2="179.3" y2="1418.7" stroke="#111" stroke-width="3.4" stroke-linecap="butt"/>
<text x="162.1" y="1431.8" font-size="35.5" text-anchor="end" transform="matrix(1 0 0 1.06 0 -85.91)">-50</text>
<line x1="165.5" y1="1354.8" x2="179.3" y2="1354.8" stroke="#111" stroke-width="3.4" stroke-linecap="butt"/>
<text x="162.1" y="1368.0" font-size="35.5" text-anchor="end" transform="matrix(1 0 0 1.06 0 -82.08)">0</text>
<line x1="165.5" y1="1291.0" x2="179.3" y2="1291.0" stroke="#111" stroke-width="3.4" stroke-linecap="butt"/>
<text x="162.1" y="1304.2" font-size="35.5" text-anchor="end" transform="matrix(1 0 0 1.06 0 -78.25)">50</text>
<line x1="165.5" y1="1227.1" x2="179.3" y2="1227.1" stroke="#111" stroke-width="3.4" stroke-linecap="butt"/>
<text x="162.1" y="1240.3" font-size="35.5" text-anchor="end" transform="matrix(1 0 0 1.06 0 -74.42)">100</text>
<line x1="165.5" y1="1163.3" x2="179.3" y2="1163.3" stroke="#111" stroke-width="3.4" stroke-linecap="butt"/>
<text x="162.1" y="1176.5" font-size="35.5" text-anchor="end" transform="matrix(1 0 0 1.06 0 -70.59)">150</text>
<line x1="165.8" y1="1482.5" x2="393.3" y2="1482.5" stroke="#111" stroke-width="3.4" stroke-linecap="butt"/>
<line x1="212.5" y1="1482.5" x2="212.5" y2="1496.3" stroke="#111" stroke-width="3.4" stroke-linecap="butt"/>
<line x1="261.5" y1="1482.5" x2="261.5" y2="1496.3" stroke="#111" stroke-width="3.4" stroke-linecap="butt"/>
<line x1="310.5" y1="1482.5" x2="310.5" y2="1496.3" stroke="#111" stroke-width="3.4" stroke-linecap="butt"/>
<line x1="359.5" y1="1482.5" x2="359.5" y2="1496.3" stroke="#111" stroke-width="3.4" stroke-linecap="butt"/>
<text x="212.5" y="1531.5" font-size="35.5" text-anchor="middle" transform="matrix(1 0 0 1.06 0 -91.89)">0</text>
<text x="261.5" y="1531.5" font-size="35.5" text-anchor="middle" transform="matrix(1 0 0 1.06 0 -91.89)">0.8</text>
<text x="310.5" y="1531.5" font-size="35.5" text-anchor="middle" transform="matrix(1 0 0 1.06 0 -91.89)">4</text>
<text x="359.5" y="1531.5" font-size="35.5" text-anchor="middle" transform="matrix(1 0 0 1.06 0 -91.89)">20</text>
<text x="286.3" y="1129.0" font-size="35" text-anchor="middle">WT</text>
<text x="186.7" y="1172.3" font-size="29.9">EC<tspan font-size="20.3" dy="9.0">50</tspan><tspan dy="-9.0">=1.41 µM</tspan></text>
<text x="281.0" y="1574.5" font-size="33" text-anchor="middle">Concentration (µM)</text>
<line x1="504.9" y1="1354.8" x2="707.9" y2="1354.8" stroke="#111" stroke-width="4.2" stroke-dasharray="0 9.6" stroke-linecap="round"/>
<line x1="529.1" y1="1419.8" x2="529.1" y2="1450.1" stroke="#f4a1a7" stroke-width="2.6" stroke-linecap="butt"/>
<line x1="524.1" y1="1450.1" x2="534.1" y2="1450.1" stroke="#f4a1a7" stroke-width="2.6" stroke-linecap="butt"/>
<rect x="514.4" y="1320.2" width="29.5" height="99.6" fill="none" stroke="#f4a1a7" stroke-width="2.6"/>
<line x1="514.4" y1="1325.8" x2="543.9" y2="1325.8" stroke="#f4a1a7" stroke-width="2.6" stroke-linecap="butt"/>
<line x1="578.1" y1="1391.3" x2="578.1" y2="1398.7" stroke="#f4a1a7" stroke-width="2.6" stroke-linecap="butt"/>
<line x1="573.1" y1="1398.7" x2="583.1" y2="1398.7" stroke="#f4a1a7" stroke-width="2.6" stroke-linecap="butt"/>
<rect x="563.4" y="1341.3" width="29.5" height="50.1" fill="none" stroke="#f4a1a7" stroke-width="2.6"/>
<line x1="563.4" y1="1358.9" x2="592.9" y2="1358.9" stroke="#f4a1a7" stroke-width="2.6" stroke-linecap="butt"/>
<line x1="627.1" y1="1261.4" x2="627.1" y2="1256.0" stroke="#f4a1a7" stroke-width="2.6" stroke-linecap="butt"/>
<line x1="622.1" y1="1256.0" x2="632.1" y2="1256.0" stroke="#f4a1a7" stroke-width="2.6" stroke-linecap="butt"/>
<line x1="627.1" y1="1289.3" x2="627.1" y2="1293.9" stroke="#f4a1a7" stroke-width="2.6" stroke-linecap="butt"/>
<line x1="622.1" y1="1293.9" x2="632.1" y2="1293.9" stroke="#f4a1a7" stroke-width="2.6" stroke-linecap="butt"/>
<rect x="612.4" y="1261.4" width="29.5" height="28.0" fill="none" stroke="#f4a1a7" stroke-width="2.6"/>
<line x1="612.4" y1="1274.9" x2="641.9" y2="1274.9" stroke="#f4a1a7" stroke-width="2.6" stroke-linecap="butt"/>
<rect x="661.4" y="1227.1" width="29.5" height="0.0" fill="none" stroke="#f4a1a7" stroke-width="2.6"/>
<line x1="661.4" y1="1227.1" x2="690.9" y2="1227.1" stroke="#f4a1a7" stroke-width="2.6" stroke-linecap="butt"/>
<line x1="495.9" y1="1161.6" x2="495.9" y2="1484.2" stroke="#111" stroke-width="3.4" stroke-linecap="butt"/>
<line x1="482.1" y1="1482.5" x2="495.9" y2="1482.5" stroke="#111" stroke-width="3.4" stroke-linecap="butt"/>
<text x="478.7" y="1495.7" font-size="35.5" text-anchor="end" transform="matrix(1 0 0 1.06 0 -89.74)">-100</text>
<line x1="482.1" y1="1418.7" x2="495.9" y2="1418.7" stroke="#111" stroke-width="3.4" stroke-linecap="butt"/>
<text x="478.7" y="1431.8" font-size="35.5" text-anchor="end" transform="matrix(1 0 0 1.06 0 -85.91)">-50</text>
<line x1="482.1" y1="1354.8" x2="495.9" y2="1354.8" stroke="#111" stroke-width="3.4" stroke-linecap="butt"/>
<text x="478.7" y="1368.0" font-size="35.5" text-anchor="end" transform="matrix(1 0 0 1.06 0 -82.08)">0</text>
<line x1="482.1" y1="1291.0" x2="495.9" y2="1291.0" stroke="#111" stroke-width="3.4" stroke-linecap="butt"/>
<text x="478.7" y="1304.2" font-size="35.5" text-anchor="end" transform="matrix(1 0 0 1.06 0 -78.25)">50</text>
<line x1="482.1" y1="1227.1" x2="495.9" y2="1227.1" stroke="#111" stroke-width="3.4" stroke-linecap="butt"/>
<text x="478.7" y="1240.3" font-size="35.5" text-anchor="end" transform="matrix(1 0 0 1.06 0 -74.42)">100</text>
<line x1="482.1" y1="1163.3" x2="495.9" y2="1163.3" stroke="#111" stroke-width="3.4" stroke-linecap="butt"/>
<text x="478.7" y="1176.5" font-size="35.5" text-anchor="end" transform="matrix(1 0 0 1.06 0 -70.59)">150</text>
<line x1="482.4" y1="1482.5" x2="709.9" y2="1482.5" stroke="#111" stroke-width="3.4" stroke-linecap="butt"/>
<line x1="529.1" y1="1482.5" x2="529.1" y2="1496.3" stroke="#111" stroke-width="3.4" stroke-linecap="butt"/>
<line x1="578.1" y1="1482.5" x2="578.1" y2="1496.3" stroke="#111" stroke-width="3.4" stroke-linecap="butt"/>
<line x1="627.1" y1="1482.5" x2="627.1" y2="1496.3" stroke="#111" stroke-width="3.4" stroke-linecap="butt"/>
<line x1="676.1" y1="1482.5" x2="676.1" y2="1496.3" stroke="#111" stroke-width="3.4" stroke-linecap="butt"/>
<text x="529.1" y="1531.5" font-size="35.5" text-anchor="middle" transform="matrix(1 0 0 1.06 0 -91.89)">0</text>
<text x="578.1" y="1531.5" font-size="35.5" text-anchor="middle" transform="matrix(1 0 0 1.06 0 -91.89)">0.8</text>
<text x="627.1" y="1531.5" font-size="35.5" text-anchor="middle" transform="matrix(1 0 0 1.06 0 -91.89)">4</text>
<text x="676.1" y="1531.5" font-size="35.5" text-anchor="middle" transform="matrix(1 0 0 1.06 0 -91.89)">20</text>
<text x="601.1" y="1129.0" font-size="35" text-anchor="middle">Alpha</text>
<text x="509.7" y="1172.3" font-size="29.9">EC<tspan font-size="20.3" dy="9.0">50</tspan><tspan dy="-9.0">=3.76 µM</tspan></text>
<text x="592.0" y="1574.5" font-size="33" text-anchor="middle">Concentration (µM)</text>
<line x1="811.0" y1="1402.7" x2="1014.0" y2="1402.7" stroke="#111" stroke-width="4.2" stroke-dasharray="0 9.6" stroke-linecap="round"/>
<line x1="835.2" y1="1421.1" x2="835.2" y2="1431.9" stroke="#b7d7f3" stroke-width="2.6" stroke-linecap="butt"/>
<line x1="830.2" y1="1431.9" x2="840.2" y2="1431.9" stroke="#b7d7f3" stroke-width="2.6" stroke-linecap="butt"/>
<rect x="820.5" y="1389.5" width="29.5" height="31.6" fill="none" stroke="#b7d7f3" stroke-width="2.6"/>
<line x1="820.5" y1="1395.4" x2="850.0" y2="1395.4" stroke="#b7d7f3" stroke-width="2.6" stroke-linecap="butt"/>
<line x1="884.2" y1="1381.8" x2="884.2" y2="1369.7" stroke="#b7d7f3" stroke-width="2.6" stroke-linecap="butt"/>
<line x1="879.2" y1="1369.7" x2="889.2" y2="1369.7" stroke="#b7d7f3" stroke-width="2.6" stroke-linecap="butt"/>
<line x1="884.2" y1="1436.1" x2="884.2" y2="1445.5" stroke="#b7d7f3" stroke-width="2.6" stroke-linecap="butt"/>
<line x1="879.2" y1="1445.5" x2="889.2" y2="1445.5" stroke="#b7d7f3" stroke-width="2.6" stroke-linecap="butt"/>
<rect x="869.5" y="1381.8" width="29.5" height="54.3" fill="none" stroke="#b7d7f3" stroke-width="2.6"/>
<line x1="869.5" y1="1412.9" x2="899.0" y2="1412.9" stroke="#b7d7f3" stroke-width="2.6" stroke-linecap="butt"/>
<rect x="918.5" y="1275.0" width="29.5" height="4.8" fill="none" stroke="#b7d7f3" stroke-width="2.6"/>
<line x1="918.5" y1="1278.2" x2="948.0" y2="1278.2" stroke="#b7d7f3" stroke-width="2.6" stroke-linecap="butt"/>
<rect x="967.5" y="1243.1" width="29.5" height="0.0" fill="none" stroke="#b7d7f3" stroke-width="2.6"/>
<line x1="967.5" y1="1243.1" x2="997.0" y2="1243.1" stroke="#b7d7f3" stroke-width="2.6" stroke-linecap="butt"/>
<line x1="802.0" y1="1161.6" x2="802.0" y2="1484.2" stroke="#111" stroke-width="3.4" stroke-linecap="butt"/>
<line x1="788.2" y1="1482.5" x2="802.0" y2="1482.5" stroke="#111" stroke-width="3.4" stroke-linecap="butt"/>
<text x="784.8" y="1495.7" font-size="35.5" text-anchor="end" transform="matrix(1 0 0 1.06 0 -89.74)">-50</text>
<line x1="788.2" y1="1402.7" x2="802.0" y2="1402.7" stroke="#111" stroke-width="3.4" stroke-linecap="butt"/>
<text x="784.8" y="1415.9" font-size="35.5" text-anchor="end" transform="matrix(1 0 0 1.06 0 -84.95)">0</text>
<line x1="788.2" y1="1322.9" x2="802.0" y2="1322.9" stroke="#111" stroke-width="3.4" stroke-linecap="butt"/>
<text x="784.8" y="1336.1" font-size="35.5" text-anchor="end" transform="matrix(1 0 0 1.06 0 -80.16)">50</text>
<line x1="788.2" y1="1243.1" x2="802.0" y2="1243.1" stroke="#111" stroke-width="3.4" stroke-linecap="butt"/>
<text x="784.8" y="1256.3" font-size="35.5" text-anchor="end" transform="matrix(1 0 0 1.06 0 -75.38)">100</text>
<line x1="788.2" y1="1163.3" x2="802.0" y2="1163.3" stroke="#111" stroke-width="3.4" stroke-linecap="butt"/>
<text x="784.8" y="1176.5" font-size="35.5" text-anchor="end" transform="matrix(1 0 0 1.06 0 -70.59)">150</text>
<line x1="788.5" y1="1482.5" x2="1016.0" y2="1482.5" stroke="#111" stroke-width="3.4" stroke-linecap="butt"/>
<line x1="835.2" y1="1482.5" x2="835.2" y2="1496.3" stroke="#111" stroke-width="3.4" stroke-linecap="butt"/>
<line x1="884.2" y1="1482.5" x2="884.2" y2="1496.3" stroke="#111" stroke-width="3.4" stroke-linecap="butt"/>
<line x1="933.2" y1="1482.5" x2="933.2" y2="1496.3" stroke="#111" stroke-width="3.4" stroke-linecap="butt"/>
<line x1="982.2" y1="1482.5" x2="982.2" y2="1496.3" stroke="#111" stroke-width="3.4" stroke-linecap="butt"/>
<text x="835.2" y="1531.5" font-size="35.5" text-anchor="middle" transform="matrix(1 0 0 1.06 0 -91.89)">0</text>
<text x="884.2" y="1531.5" font-size="35.5" text-anchor="middle" transform="matrix(1 0 0 1.06 0 -91.89)">0.8</text>
<text x="933.2" y="1531.5" font-size="35.5" text-anchor="middle" transform="matrix(1 0 0 1.06 0 -91.89)">4</text>
<text x="982.2" y="1531.5" font-size="35.5" text-anchor="middle" transform="matrix(1 0 0 1.06 0 -91.89)">20</text>
<text x="911.3" y="1129.0" font-size="35" text-anchor="middle">Beta</text>
<text x="811.0" y="1172.3" font-size="29.9">EC<tspan font-size="20.3" dy="9.0">50</tspan><tspan dy="-9.0">=3.49 µM</tspan></text>
<text x="902.5" y="1574.5" font-size="33" text-anchor="middle">Concentration (µM)</text>
<line x1="1125.1" y1="1402.7" x2="1328.1" y2="1402.7" stroke="#111" stroke-width="4.2" stroke-dasharray="0 9.6" stroke-linecap="round"/>
<line x1="1149.3" y1="1384.0" x2="1149.3" y2="1379.1" stroke="#e9c3f3" stroke-width="2.6" stroke-linecap="butt"/>
<line x1="1144.3" y1="1379.1" x2="1154.3" y2="1379.1" stroke="#e9c3f3" stroke-width="2.6" stroke-linecap="butt"/>
<line x1="1149.3" y1="1426.5" x2="1149.3" y2="1435.3" stroke="#e9c3f3" stroke-width="2.6" stroke-linecap="butt"/>
<line x1="1144.3" y1="1435.3" x2="1154.3" y2="1435.3" stroke="#e9c3f3" stroke-width="2.6" stroke-linecap="butt"/>
<rect x="1134.5" y="1384.0" width="29.5" height="42.5" fill="none" stroke="#e9c3f3" stroke-width="2.6"/>
<line x1="1134.5" y1="1397.6" x2="1164.0" y2="1397.6" stroke="#e9c3f3" stroke-width="2.6" stroke-linecap="butt"/>
<line x1="1198.3" y1="1324.5" x2="1198.3" y2="1315.6" stroke="#e9c3f3" stroke-width="2.6" stroke-linecap="butt"/>
<line x1="1193.3" y1="1315.6" x2="1203.3" y2="1315.6" stroke="#e9c3f3" stroke-width="2.6" stroke-linecap="butt"/>
<line x1="1198.3" y1="1358.0" x2="1198.3" y2="1360.2" stroke="#e9c3f3" stroke-width="2.6" stroke-linecap="butt"/>
<line x1="1193.3" y1="1360.2" x2="1203.3" y2="1360.2" stroke="#e9c3f3" stroke-width="2.6" stroke-linecap="butt"/>
<rect x="1183.5" y="1324.5" width="29.5" height="33.5" fill="none" stroke="#e9c3f3" stroke-width="2.6"/>
<line x1="1183.5" y1="1347.2" x2="1213.0" y2="1347.2" stroke="#e9c3f3" stroke-width="2.6" stroke-linecap="butt"/>
<line x1="1247.3" y1="1256.0" x2="1247.3" y2="1249.2" stroke="#e9c3f3" stroke-width="2.6" stroke-linecap="butt"/>
<line x1="1242.3" y1="1249.2" x2="1252.3" y2="1249.2" stroke="#e9c3f3" stroke-width="2.6" stroke-linecap="butt"/>
<line x1="1247.3" y1="1287.8" x2="1247.3" y2="1290.7" stroke="#e9c3f3" stroke-width="2.6" stroke-linecap="butt"/>
<line x1="1242.3" y1="1290.7" x2="1252.3" y2="1290.7" stroke="#e9c3f3" stroke-width="2.6" stroke-linecap="butt"/>
<rect x="1232.5" y="1256.0" width="29.5" height="31.8" fill="none" stroke="#e9c3f3" stroke-width="2.6"/>
<line x1="1232.5" y1="1276.3" x2="1262.0" y2="1276.3" stroke="#e9c3f3" stroke-width="2.6" stroke-linecap="butt"/>
<rect x="1281.5" y="1243.1" width="29.5" height="0.0" fill="none" stroke="#e9c3f3" stroke-width="2.6"/>
<line x1="1281.5" y1="1243.1" x2="1311.0" y2="1243.1" stroke="#e9c3f3" stroke-width="2.6" stroke-linecap="butt"/>
<line x1="1116.1" y1="1161.6" x2="1116.1" y2="1484.2" stroke="#111" stroke-width="3.4" stroke-linecap="butt"/>
<line x1="1102.3" y1="1482.5" x2="1116.1" y2="1482.5" stroke="#111" stroke-width="3.4" stroke-linecap="butt"/>
<text x="1098.9" y="1495.7" font-size="35.5" text-anchor="end" transform="matrix(1 0 0 1.06 0 -89.74)">-50</text>
<line x1="1102.3" y1="1402.7" x2="1116.1" y2="1402.7" stroke="#111" stroke-width="3.4" stroke-linecap="butt"/>
<text x="1098.9" y="1415.9" font-size="35.5" text-anchor="end" transform="matrix(1 0 0 1.06 0 -84.95)">0</text>
<line x1="1102.3" y1="1322.9" x2="1116.1" y2="1322.9" stroke="#111" stroke-width="3.4" stroke-linecap="butt"/>
<text x="1098.9" y="1336.1" font-size="35.5" text-anchor="end" transform="matrix(1 0 0 1.06 0 -80.16)">50</text>
<line x1="1102.3" y1="1243.1" x2="1116.1" y2="1243.1" stroke="#111" stroke-width="3.4" stroke-linecap="butt"/>
<text x="1098.9" y="1256.3" font-size="35.5" text-anchor="end" transform="matrix(1 0 0 1.06 0 -75.38)">100</text>
<line x1="1102.3" y1="1163.3" x2="1116.1" y2="1163.3" stroke="#111" stroke-width="3.4" stroke-linecap="butt"/>
<text x="1098.9" y="1176.5" font-size="35.5" text-anchor="end" transform="matrix(1 0 0 1.06 0 -70.59)">150</text>
<line x1="1102.6" y1="1482.5" x2="1330.1" y2="1482.5" stroke="#111" stroke-width="3.4" stroke-linecap="butt"/>
<line x1="1149.3" y1="1482.5" x2="1149.3" y2="1496.3" stroke="#111" stroke-width="3.4" stroke-linecap="butt"/>
<line x1="1198.3" y1="1482.5" x2="1198.3" y2="1496.3" stroke="#111" stroke-width="3.4" stroke-linecap="butt"/>
<line x1="1247.3" y1="1482.5" x2="1247.3" y2="1496.3" stroke="#111" stroke-width="3.4" stroke-linecap="butt"/>
<line x1="1296.3" y1="1482.5" x2="1296.3" y2="1496.3" stroke="#111" stroke-width="3.4" stroke-linecap="butt"/>
<text x="1149.3" y="1531.5" font-size="35.5" text-anchor="middle" transform="matrix(1 0 0 1.06 0 -91.89)">0</text>
<text x="1198.3" y="1531.5" font-size="35.5" text-anchor="middle" transform="matrix(1 0 0 1.06 0 -91.89)">0.8</text>
<text x="1247.3" y="1531.5" font-size="35.5" text-anchor="middle" transform="matrix(1 0 0 1.06 0 -91.89)">4</text>
<text x="1296.3" y="1531.5" font-size="35.5" text-anchor="middle" transform="matrix(1 0 0 1.06 0 -91.89)">20</text>
<text x="1216.6" y="1129.0" font-size="35" text-anchor="middle">Delta</text>
<text x="1127.8" y="1172.3" font-size="29.9">EC<tspan font-size="20.3" dy="9.0">50</tspan><tspan dy="-9.0">=1.21 µM</tspan></text>
<text x="1212.0" y="1574.5" font-size="33" text-anchor="middle">Concentration (µM)</text>
<line x1="1429.3" y1="1402.7" x2="1632.3" y2="1402.7" stroke="#111" stroke-width="4.2" stroke-dasharray="0 9.6" stroke-linecap="round"/>
<line x1="1453.5" y1="1465.7" x2="1453.5" y2="1480.7" stroke="#a6d9d2" stroke-width="2.6" stroke-linecap="butt"/>
<line x1="1448.5" y1="1480.7" x2="1458.5" y2="1480.7" stroke="#a6d9d2" stroke-width="2.6" stroke-linecap="butt"/>
<rect x="1438.8" y="1354.2" width="29.5" height="111.6" fill="none" stroke="#a6d9d2" stroke-width="2.6"/>
<line x1="1438.8" y1="1389.5" x2="1468.2" y2="1389.5" stroke="#a6d9d2" stroke-width="2.6" stroke-linecap="butt"/>
<line x1="1502.5" y1="1339.8" x2="1502.5" y2="1316.4" stroke="#a6d9d2" stroke-width="2.6" stroke-linecap="butt"/>
<line x1="1497.5" y1="1316.4" x2="1507.5" y2="1316.4" stroke="#a6d9d2" stroke-width="2.6" stroke-linecap="butt"/>
<line x1="1502.5" y1="1452.8" x2="1502.5" y2="1469.9" stroke="#a6d9d2" stroke-width="2.6" stroke-linecap="butt"/>
<line x1="1497.5" y1="1469.9" x2="1507.5" y2="1469.9" stroke="#a6d9d2" stroke-width="2.6" stroke-linecap="butt"/>
<rect x="1487.8" y="1339.8" width="29.5" height="113.0" fill="none" stroke="#a6d9d2" stroke-width="2.6"/>
<line x1="1487.8" y1="1407.0" x2="1517.2" y2="1407.0" stroke="#a6d9d2" stroke-width="2.6" stroke-linecap="butt"/>
<line x1="1551.5" y1="1271.7" x2="1551.5" y2="1261.5" stroke="#a6d9d2" stroke-width="2.6" stroke-linecap="butt"/>
<line x1="1546.5" y1="1261.5" x2="1556.5" y2="1261.5" stroke="#a6d9d2" stroke-width="2.6" stroke-linecap="butt"/>
<line x1="1551.5" y1="1311.4" x2="1551.5" y2="1316.8" stroke="#a6d9d2" stroke-width="2.6" stroke-linecap="butt"/>
<line x1="1546.5" y1="1316.8" x2="1556.5" y2="1316.8" stroke="#a6d9d2" stroke-width="2.6" stroke-linecap="butt"/>
<rect x="1536.8" y="1271.7" width="29.5" height="39.7" fill="none" stroke="#a6d9d2" stroke-width="2.6"/>
<line x1="1536.8" y1="1299.3" x2="1566.2" y2="1299.3" stroke="#a6d9d2" stroke-width="2.6" stroke-linecap="butt"/>
<rect x="1585.8" y="1243.1" width="29.5" height="0.0" fill="none" stroke="#a6d9d2" stroke-width="2.6"/>
<line x1="1585.8" y1="1243.1" x2="1615.2" y2="1243.1" stroke="#a6d9d2" stroke-width="2.6" stroke-linecap="butt"/>
<line x1="1420.3" y1="1161.6" x2="1420.3" y2="1484.2" stroke="#111" stroke-width="3.4" stroke-linecap="butt"/>
<line x1="1406.5" y1="1482.5" x2="1420.3" y2="1482.5" stroke="#111" stroke-width="3.4" stroke-linecap="butt"/>
<text x="1403.1" y="1495.7" font-size="35.5" text-anchor="end" transform="matrix(1 0 0 1.06 0 -89.74)">-50</text>
<line x1="1406.5" y1="1402.7" x2="1420.3" y2="1402.7" stroke="#111" stroke-width="3.4" stroke-linecap="butt"/>
<text x="1403.1" y="1415.9" font-size="35.5" text-anchor="end" transform="matrix(1 0 0 1.06 0 -84.95)">0</text>
<line x1="1406.5" y1="1322.9" x2="1420.3" y2="1322.9" stroke="#111" stroke-width="3.4" stroke-linecap="butt"/>
<text x="1403.1" y="1336.1" font-size="35.5" text-anchor="end" transform="matrix(1 0 0 1.06 0 -80.16)">50</text>
<line x1="1406.5" y1="1243.1" x2="1420.3" y2="1243.1" stroke="#111" stroke-width="3.4" stroke-linecap="butt"/>
<text x="1403.1" y="1256.3" font-size="35.5" text-anchor="end" transform="matrix(1 0 0 1.06 0 -75.38)">100</text>
<line x1="1406.5" y1="1163.3" x2="1420.3" y2="1163.3" stroke="#111" stroke-width="3.4" stroke-linecap="butt"/>
<text x="1403.1" y="1176.5" font-size="35.5" text-anchor="end" transform="matrix(1 0 0 1.06 0 -70.59)">150</text>
<line x1="1406.8" y1="1482.5" x2="1634.3" y2="1482.5" stroke="#111" stroke-width="3.4" stroke-linecap="butt"/>
<line x1="1453.5" y1="1482.5" x2="1453.5" y2="1496.3" stroke="#111" stroke-width="3.4" stroke-linecap="butt"/>
<line x1="1502.5" y1="1482.5" x2="1502.5" y2="1496.3" stroke="#111" stroke-width="3.4" stroke-linecap="butt"/>
<line x1="1551.5" y1="1482.5" x2="1551.5" y2="1496.3" stroke="#111" stroke-width="3.4" stroke-linecap="butt"/>
<line x1="1600.5" y1="1482.5" x2="1600.5" y2="1496.3" stroke="#111" stroke-width="3.4" stroke-linecap="butt"/>
<text x="1453.5" y="1531.5" font-size="35.5" text-anchor="middle" transform="matrix(1 0 0 1.06 0 -91.89)">0</text>
<text x="1502.5" y="1531.5" font-size="35.5" text-anchor="middle" transform="matrix(1 0 0 1.06 0 -91.89)">0.8</text>
<text x="1551.5" y="1531.5" font-size="35.5" text-anchor="middle" transform="matrix(1 0 0 1.06 0 -91.89)">4</text>
<text x="1600.5" y="1531.5" font-size="35.5" text-anchor="middle" transform="matrix(1 0 0 1.06 0 -91.89)">20</text>
<text x="1527.0" y="1129.0" font-size="35" text-anchor="middle">Omicron (BA.1)</text>
<text x="1431.0" y="1172.3" font-size="29.9">EC<tspan font-size="20.3" dy="9.0">50</tspan><tspan dy="-9.0">=3.08 µM</tspan></text>
<text x="1526.6" y="1574.5" font-size="33" text-anchor="middle">Concentration (µM)</text>
<line x1="1750.6" y1="1402.7" x2="1953.6" y2="1402.7" stroke="#111" stroke-width="4.2" stroke-dasharray="0 9.6" stroke-linecap="round"/>
<line x1="1774.8" y1="1327.2" x2="1774.8" y2="1295.3" stroke="#d2e7c2" stroke-width="2.6" stroke-linecap="butt"/>
<line x1="1769.8" y1="1295.3" x2="1779.8" y2="1295.3" stroke="#d2e7c2" stroke-width="2.6" stroke-linecap="butt"/>
<line x1="1774.8" y1="1449.5" x2="1774.8" y2="1450.9" stroke="#d2e7c2" stroke-width="2.6" stroke-linecap="butt"/>
<line x1="1769.8" y1="1450.9" x2="1779.8" y2="1450.9" stroke="#d2e7c2" stroke-width="2.6" stroke-linecap="butt"/>
<rect x="1760.0" y="1327.2" width="29.5" height="122.3" fill="none" stroke="#d2e7c2" stroke-width="2.6"/>
<line x1="1760.0" y1="1434.1" x2="1789.5" y2="1434.1" stroke="#d2e7c2" stroke-width="2.6" stroke-linecap="butt"/>
<line x1="1823.8" y1="1287.1" x2="1823.8" y2="1281.1" stroke="#d2e7c2" stroke-width="2.6" stroke-linecap="butt"/>
<line x1="1818.8" y1="1281.1" x2="1828.8" y2="1281.1" stroke="#d2e7c2" stroke-width="2.6" stroke-linecap="butt"/>
<line x1="1823.8" y1="1362.3" x2="1823.8" y2="1381.8" stroke="#d2e7c2" stroke-width="2.6" stroke-linecap="butt"/>
<line x1="1818.8" y1="1381.8" x2="1828.8" y2="1381.8" stroke="#d2e7c2" stroke-width="2.6" stroke-linecap="butt"/>
<rect x="1809.0" y="1287.1" width="29.5" height="75.2" fill="none" stroke="#d2e7c2" stroke-width="2.6"/>
<line x1="1809.0" y1="1304.7" x2="1838.5" y2="1304.7" stroke="#d2e7c2" stroke-width="2.6" stroke-linecap="butt"/>
<line x1="1872.8" y1="1268.2" x2="1872.8" y2="1272.8" stroke="#d2e7c2" stroke-width="2.6" stroke-linecap="butt"/>
<line x1="1867.8" y1="1272.8" x2="1877.8" y2="1272.8" stroke="#d2e7c2" stroke-width="2.6" stroke-linecap="butt"/>
<rect x="1858.0" y="1249.2" width="29.5" height="19.0" fill="none" stroke="#d2e7c2" stroke-width="2.6"/>
<line x1="1858.0" y1="1259.1" x2="1887.5" y2="1259.1" stroke="#d2e7c2" stroke-width="2.6" stroke-linecap="butt"/>
<rect x="1907.0" y="1243.1" width="29.5" height="0.0" fill="none" stroke="#d2e7c2" stroke-width="2.6"/>
<line x1="1907.0" y1="1243.1" x2="1936.5" y2="1243.1" stroke="#d2e7c2" stroke-width="2.6" stroke-linecap="butt"/>
<line x1="1741.6" y1="1161.6" x2="1741.6" y2="1484.2" stroke="#111" stroke-width="3.4" stroke-linecap="butt"/>
<line x1="1727.8" y1="1482.5" x2="1741.6" y2="1482.5" stroke="#111" stroke-width="3.4" stroke-linecap="butt"/>
<text x="1724.4" y="1495.7" font-size="35.5" text-anchor="end" transform="matrix(1 0 0 1.06 0 -89.74)">-50</text>
<line x1="1727.8" y1="1402.7" x2="1741.6" y2="1402.7" stroke="#111" stroke-width="3.4" stroke-linecap="butt"/>
<text x="1724.4" y="1415.9" font-size="35.5" text-anchor="end" transform="matrix(1 0 0 1.06 0 -84.95)">0</text>
<line x1="1727.8" y1="1322.9" x2="1741.6" y2="1322.9" stroke="#111" stroke-width="3.4" stroke-linecap="butt"/>
<text x="1724.4" y="1336.1" font-size="35.5" text-anchor="end" transform="matrix(1 0 0 1.06 0 -80.16)">50</text>
<line x1="1727.8" y1="1243.1" x2="1741.6" y2="1243.1" stroke="#111" stroke-width="3.4" stroke-linecap="butt"/>
<text x="1724.4" y="1256.3" font-size="35.5" text-anchor="end" transform="matrix(1 0 0 1.06 0 -75.38)">100</text>
<line x1="1727.8" y1="1163.3" x2="1741.6" y2="1163.3" stroke="#111" stroke-width="3.4" stroke-linecap="butt"/>
<text x="1724.4" y="1176.5" font-size="35.5" text-anchor="end" transform="matrix(1 0 0 1.06 0 -70.59)">150</text>
<line x1="1728.1" y1="1482.5" x2="1955.6" y2="1482.5" stroke="#111" stroke-width="3.4" stroke-linecap="butt"/>
<line x1="1774.8" y1="1482.5" x2="1774.8" y2="1496.3" stroke="#111" stroke-width="3.4" stroke-linecap="butt"/>
<line x1="1823.8" y1="1482.5" x2="1823.8" y2="1496.3" stroke="#111" stroke-width="3.4" stroke-linecap="butt"/>
<line x1="1872.8" y1="1482.5" x2="1872.8" y2="1496.3" stroke="#111" stroke-width="3.4" stroke-linecap="butt"/>
<line x1="1921.8" y1="1482.5" x2="1921.8" y2="1496.3" stroke="#111" stroke-width="3.4" stroke-linecap="butt"/>
<text x="1774.8" y="1531.5" font-size="35.5" text-anchor="middle" transform="matrix(1 0 0 1.06 0 -91.89)">0</text>
<text x="1823.8" y="1531.5" font-size="35.5" text-anchor="middle" transform="matrix(1 0 0 1.06 0 -91.89)">0.8</text>
<text x="1872.8" y="1531.5" font-size="35.5" text-anchor="middle" transform="matrix(1 0 0 1.06 0 -91.89)">4</text>
<text x="1921.8" y="1531.5" font-size="35.5" text-anchor="middle" transform="matrix(1 0 0 1.06 0 -91.89)">20</text>
<text x="1846.7" y="1129.0" font-size="35" text-anchor="middle">Omicron (JN.1)</text>
<text x="1747.9" y="1172.3" font-size="29.9">EC<tspan font-size="20.3" dy="9.0">50</tspan><tspan dy="-9.0">= 0.73 µM</tspan></text>
<text x="1846.8" y="1574.5" font-size="33" text-anchor="middle">Concentration (µM)</text>
<text transform="translate(87.5 1314.6) rotate(-90)" font-size="33.5" text-anchor="middle" textLength="466.5" lengthAdjust="spacingAndGlyphs">Plaque formation (% inhibition)</text>
<rect x="170.9" y="1746.0" width="42.0" height="273.5" fill="none" stroke="#a9dcb3" stroke-width="1.6"/>
<rect x="234.9" y="1807.1" width="42.0" height="212.4" fill="none" stroke="#a9dcb3" stroke-width="1.6"/>
<rect x="298.4" y="1950.5" width="42.0" height="69.0" fill="none" stroke="#a9dcb3" stroke-width="1.6"/>
<line x1="191.9" y1="1751.3" x2="191.9" y2="1740.7" stroke="#a9dcb3" stroke-width="2.0" stroke-linecap="butt"/>
<line x1="186.9" y1="1751.3" x2="196.9" y2="1751.3" stroke="#a9dcb3" stroke-width="2.0" stroke-linecap="butt"/>
<line x1="186.9" y1="1740.7" x2="196.9" y2="1740.7" stroke="#a9dcb3" stroke-width="2.0" stroke-linecap="butt"/>
<line x1="255.9" y1="1816.7" x2="255.9" y2="1800.2" stroke="#a9dcb3" stroke-width="2.0" stroke-linecap="butt"/>
<line x1="250.9" y1="1816.7" x2="260.9" y2="1816.7" stroke="#a9dcb3" stroke-width="2.0" stroke-linecap="butt"/>
<line x1="250.9" y1="1800.2" x2="260.9" y2="1800.2" stroke="#a9dcb3" stroke-width="2.0" stroke-linecap="butt"/>
<line x1="319.4" y1="1964.8" x2="319.4" y2="1940.9" stroke="#a9dcb3" stroke-width="2.0" stroke-linecap="butt"/>
<line x1="314.4" y1="1964.8" x2="324.4" y2="1964.8" stroke="#a9dcb3" stroke-width="2.0" stroke-linecap="butt"/>
<line x1="314.4" y1="1940.9" x2="324.4" y2="1940.9" stroke="#a9dcb3" stroke-width="2.0" stroke-linecap="butt"/>
<line x1="149.0" y1="1699.2" x2="149.0" y2="2021.2" stroke="#111" stroke-width="3.4" stroke-linecap="butt"/>
<line x1="135.2" y1="2019.5" x2="149.0" y2="2019.5" stroke="#111" stroke-width="3.4" stroke-linecap="butt"/>
<text x="129.7" y="2032.7" font-size="35.5" text-anchor="end" transform="matrix(1 0 0 1.06 0 -121.96)">-2</text>
<line x1="135.2" y1="1966.4" x2="149.0" y2="1966.4" stroke="#111" stroke-width="3.4" stroke-linecap="butt"/>
<text x="129.7" y="1979.6" font-size="35.5" text-anchor="end" transform="matrix(1 0 0 1.06 0 -118.77)">-1</text>
<line x1="135.2" y1="1913.3" x2="149.0" y2="1913.3" stroke="#111" stroke-width="3.4" stroke-linecap="butt"/>
<text x="129.7" y="1926.5" font-size="35.5" text-anchor="end" transform="matrix(1 0 0 1.06 0 -115.59)">0</text>
<line x1="135.2" y1="1860.2" x2="149.0" y2="1860.2" stroke="#111" stroke-width="3.4" stroke-linecap="butt"/>
<text x="129.7" y="1873.4" font-size="35.5" text-anchor="end" transform="matrix(1 0 0 1.06 0 -112.40)">1</text>
<line x1="135.2" y1="1807.1" x2="149.0" y2="1807.1" stroke="#111" stroke-width="3.4" stroke-linecap="butt"/>
<text x="129.7" y="1820.3" font-size="35.5" text-anchor="end" transform="matrix(1 0 0 1.06 0 -109.22)">2</text>
<line x1="135.2" y1="1754.0" x2="149.0" y2="1754.0" stroke="#111" stroke-width="3.4" stroke-linecap="butt"/>
<text x="129.7" y="1767.2" font-size="35.5" text-anchor="end" transform="matrix(1 0 0 1.06 0 -106.03)">3</text>
<line x1="135.2" y1="1700.9" x2="149.0" y2="1700.9" stroke="#111" stroke-width="3.4" stroke-linecap="butt"/>
<text x="129.7" y="1714.1" font-size="35.5" text-anchor="end" transform="matrix(1 0 0 1.06 0 -102.84)">4</text>
<line x1="135.5" y1="2019.5" x2="363.0" y2="2019.5" stroke="#111" stroke-width="3.4" stroke-linecap="butt"/>
<line x1="191.9" y1="2019.5" x2="191.9" y2="2033.3" stroke="#111" stroke-width="3.4" stroke-linecap="butt"/>
<line x1="255.9" y1="2019.5" x2="255.9" y2="2033.3" stroke="#111" stroke-width="3.4" stroke-linecap="butt"/>
<line x1="319.4" y1="2019.5" x2="319.4" y2="2033.3" stroke="#111" stroke-width="3.4" stroke-linecap="butt"/>
<text x="191.9" y="2069.0" font-size="35.5" text-anchor="middle" transform="matrix(1 0 0 1.06 0 -124.14)">0</text>
<text x="255.9" y="2069.0" font-size="35.5" text-anchor="middle" transform="matrix(1 0 0 1.06 0 -124.14)">10</text>
<text x="319.4" y="2069.0" font-size="35.5" text-anchor="middle" transform="matrix(1 0 0 1.06 0 -124.14)">50</text>
<text x="254.5" y="1667.0" font-size="35" text-anchor="middle">HCoV-HKU1</text>
<text x="160.5" y="1699.5" font-size="29.9">EC<tspan font-size="20.3" dy="9.0">50</tspan><tspan dy="-9.0">=0.97 µM</tspan></text>
<text x="251.8" y="2145.3" font-size="33" text-anchor="middle">Concentration (µM)</text>
<text transform="translate(77.5 1865.6) rotate(-90)" font-size="32.5" text-anchor="middle">HKU1-Orf1b/10<tspan font-size="19" dy="-12">4</tspan><tspan dy="12"> GAPDH (log</tspan><tspan font-size="19" dy="7">10</tspan><tspan dy="-7">)</tspan></text>
<rect x="463.6" y="1755.1" width="21.5" height="263.3" fill="none" stroke="#c6c6f6" stroke-width="1.4"/>
<rect x="496.9" y="1774.2" width="21.5" height="244.2" fill="none" stroke="#c6c6f6" stroke-width="1.4"/>
<rect x="530.5" y="1786.9" width="21.5" height="231.5" fill="none" stroke="#c6c6f6" stroke-width="1.4"/>
<rect x="564.0" y="1814.8" width="21.5" height="203.6" fill="none" stroke="#c6c6f6" stroke-width="1.4"/>
<rect x="597.6" y="1885.6" width="21.5" height="132.8" fill="none" stroke="#c6c6f6" stroke-width="1.4"/>
<rect x="631.2" y="1896.7" width="21.5" height="121.7" fill="none" stroke="#c6c6f6" stroke-width="1.4"/>
<line x1="474.4" y1="1789.3" x2="474.4" y2="1737.6" stroke="#c6c6f6" stroke-width="1.7999999999999998" stroke-linecap="butt"/>
<line x1="469.4" y1="1789.3" x2="479.4" y2="1789.3" stroke="#c6c6f6" stroke-width="1.7999999999999998" stroke-linecap="butt"/>
<line x1="469.4" y1="1737.6" x2="479.4" y2="1737.6" stroke="#c6c6f6" stroke-width="1.7999999999999998" stroke-linecap="butt"/>
<line x1="541.2" y1="1845.0" x2="541.2" y2="1771.0" stroke="#c6c6f6" stroke-width="1.7999999999999998" stroke-linecap="butt"/>
<line x1="536.2" y1="1845.0" x2="546.2" y2="1845.0" stroke="#c6c6f6" stroke-width="1.7999999999999998" stroke-linecap="butt"/>
<line x1="536.2" y1="1771.0" x2="546.2" y2="1771.0" stroke="#c6c6f6" stroke-width="1.7999999999999998" stroke-linecap="butt"/>
<line x1="574.8" y1="1837.0" x2="574.8" y2="1802.0" stroke="#c6c6f6" stroke-width="1.7999999999999998" stroke-linecap="butt"/>
<line x1="569.8" y1="1837.0" x2="579.8" y2="1837.0" stroke="#c6c6f6" stroke-width="1.7999999999999998" stroke-linecap="butt"/>
<line x1="569.8" y1="1802.0" x2="579.8" y2="1802.0" stroke="#c6c6f6" stroke-width="1.7999999999999998" stroke-linecap="butt"/>
<line x1="608.4" y1="1893.5" x2="608.4" y2="1871.2" stroke="#c6c6f6" stroke-width="1.7999999999999998" stroke-linecap="butt"/>
<line x1="603.4" y1="1893.5" x2="613.4" y2="1893.5" stroke="#c6c6f6" stroke-width="1.7999999999999998" stroke-linecap="butt"/>
<line x1="603.4" y1="1871.2" x2="613.4" y2="1871.2" stroke="#c6c6f6" stroke-width="1.7999999999999998" stroke-linecap="butt"/>
<line x1="452.8" y1="1698.5" x2="452.8" y2="2020.1" stroke="#111" stroke-width="3.4" stroke-linecap="butt"/>
<line x1="439.0" y1="2018.4" x2="452.8" y2="2018.4" stroke="#111" stroke-width="3.4" stroke-linecap="butt"/>
<text x="434.6" y="2031.6" font-size="35.5" text-anchor="end" transform="matrix(1 0 0 1.06 0 -121.89)">0</text>
<line x1="439.0" y1="1938.9" x2="452.8" y2="1938.9" stroke="#111" stroke-width="3.4" stroke-linecap="butt"/>
<text x="434.6" y="1952.0" font-size="35.5" text-anchor="end" transform="matrix(1 0 0 1.06 0 -117.12)">1</text>
<line x1="439.0" y1="1859.3" x2="452.8" y2="1859.3" stroke="#111" stroke-width="3.4" stroke-linecap="butt"/>
<text x="434.6" y="1872.5" font-size="35.5" text-anchor="end" transform="matrix(1 0 0 1.06 0 -112.35)">2</text>
<line x1="439.0" y1="1779.8" x2="452.8" y2="1779.8" stroke="#111" stroke-width="3.4" stroke-linecap="butt"/>
<text x="434.6" y="1792.9" font-size="35.5" text-anchor="end" transform="matrix(1 0 0 1.06 0 -107.58)">3</text>
<line x1="439.0" y1="1700.2" x2="452.8" y2="1700.2" stroke="#111" stroke-width="3.4" stroke-linecap="butt"/>
<text x="434.6" y="1713.4" font-size="35.5" text-anchor="end" transform="matrix(1 0 0 1.06 0 -102.80)">4</text>
<line x1="439.3" y1="2018.4" x2="666.0" y2="2018.4" stroke="#111" stroke-width="3.4" stroke-linecap="butt"/>
<line x1="474.4" y1="2018.4" x2="474.4" y2="2032.2" stroke="#111" stroke-width="3.4" stroke-linecap="butt"/>
<line x1="507.6" y1="2018.4" x2="507.6" y2="2032.2" stroke="#111" stroke-width="3.4" stroke-linecap="butt"/>
<line x1="541.2" y1="2018.4" x2="541.2" y2="2032.2" stroke="#111" stroke-width="3.4" stroke-linecap="butt"/>
<line x1="574.8" y1="2018.4" x2="574.8" y2="2032.2" stroke="#111" stroke-width="3.4" stroke-linecap="butt"/>
<line x1="608.4" y1="2018.4" x2="608.4" y2="2032.2" stroke="#111" stroke-width="3.4" stroke-linecap="butt"/>
<line x1="642.0" y1="2018.4" x2="642.0" y2="2032.2" stroke="#111" stroke-width="3.4" stroke-linecap="butt"/>
<text x="487.9" y="2036.0" font-size="35.5" text-anchor="end" transform="matrix(1.06 0 0 1 -29.28 0) rotate(-90 487.9 2036.0)">0</text>
<text x="521.1" y="2036.0" font-size="35.5" text-anchor="end" transform="matrix(1.06 0 0 1 -31.27 0) rotate(-90 521.1 2036.0)">0.16</text>
<text x="554.7" y="2036.0" font-size="35.5" text-anchor="end" transform="matrix(1.06 0 0 1 -33.28 0) rotate(-90 554.7 2036.0)">8</text>
<text x="588.3" y="2036.0" font-size="35.5" text-anchor="end" transform="matrix(1.06 0 0 1 -35.30 0) rotate(-90 588.3 2036.0)">4</text>
<text x="621.9" y="2036.0" font-size="35.5" text-anchor="end" transform="matrix(1.06 0 0 1 -37.32 0) rotate(-90 621.9 2036.0)">20</text>
<text x="655.5" y="2036.0" font-size="35.5" text-anchor="end" transform="matrix(1.06 0 0 1 -39.33 0) rotate(-90 655.5 2036.0)">50</text>
<text x="560.0" y="1667.0" font-size="35" text-anchor="middle">HCoV-OC43</text>
<text x="465.3" y="1699.5" font-size="29.9">EC<tspan font-size="20.3" dy="9.0">50</tspan><tspan dy="-9.0">=0.31 µM</tspan></text>
<text x="553.6" y="2145.3" font-size="33" text-anchor="middle">Concentration (µM)</text>
<text transform="translate(397.5 1862) rotate(-90)" font-size="32.2" text-anchor="middle">OC43-N/10<tspan font-size="19" dy="-12">4</tspan><tspan dy="12"> GAPDH ( log</tspan><tspan font-size="19" dy="7">10</tspan><tspan dy="-7">)</tspan></text>
<rect x="775.0" y="1759.0" width="21.5" height="262.2" fill="none" stroke="#dfb8bf" stroke-width="1.4"/>
<rect x="808.0" y="1789.2" width="21.5" height="232.0" fill="none" stroke="#dfb8bf" stroke-width="1.4"/>
<rect x="841.0" y="1805.7" width="21.5" height="215.5" fill="none" stroke="#dfb8bf" stroke-width="1.4"/>
<rect x="874.0" y="1851.9" width="21.5" height="169.3" fill="none" stroke="#dfb8bf" stroke-width="1.4"/>
<rect x="907.0" y="1864.6" width="21.5" height="156.6" fill="none" stroke="#dfb8bf" stroke-width="1.4"/>
<rect x="940.0" y="1865.1" width="21.5" height="156.1" fill="none" stroke="#dfb8bf" stroke-width="1.4"/>
<line x1="763.0" y1="1701.0" x2="763.0" y2="2022.9" stroke="#111" stroke-width="3.4" stroke-linecap="butt"/>
<line x1="749.2" y1="2021.2" x2="763.0" y2="2021.2" stroke="#111" stroke-width="3.4" stroke-linecap="butt"/>
<text x="741.5" y="2034.4" font-size="35.5" text-anchor="end" transform="matrix(1 0 0 1.06 0 -122.06)">0</text>
<line x1="749.2" y1="1968.1" x2="763.0" y2="1968.1" stroke="#111" stroke-width="3.4" stroke-linecap="butt"/>
<text x="741.5" y="1981.3" font-size="35.5" text-anchor="end" transform="matrix(1 0 0 1.06 0 -118.88)">1</text>
<line x1="749.2" y1="1915.0" x2="763.0" y2="1915.0" stroke="#111" stroke-width="3.4" stroke-linecap="butt"/>
<text x="741.5" y="1928.2" font-size="35.5" text-anchor="end" transform="matrix(1 0 0 1.06 0 -115.69)">2</text>
<line x1="749.2" y1="1862.0" x2="763.0" y2="1862.0" stroke="#111" stroke-width="3.4" stroke-linecap="butt"/>
<text x="741.5" y="1875.1" font-size="35.5" text-anchor="end" transform="matrix(1 0 0 1.06 0 -112.51)">3</text>
<line x1="749.2" y1="1808.9" x2="763.0" y2="1808.9" stroke="#111" stroke-width="3.4" stroke-linecap="butt"/>
<text x="741.5" y="1822.1" font-size="35.5" text-anchor="end" transform="matrix(1 0 0 1.06 0 -109.32)">4</text>
<line x1="749.2" y1="1755.8" x2="763.0" y2="1755.8" stroke="#111" stroke-width="3.4" stroke-linecap="butt"/>
<text x="741.5" y="1769.0" font-size="35.5" text-anchor="end" transform="matrix(1 0 0 1.06 0 -106.14)">5</text>
<line x1="749.2" y1="1702.7" x2="763.0" y2="1702.7" stroke="#111" stroke-width="3.4" stroke-linecap="butt"/>
<text x="741.5" y="1715.9" font-size="35.5" text-anchor="end" transform="matrix(1 0 0 1.06 0 -102.95)">6</text>
<line x1="749.5" y1="2021.2" x2="976.2" y2="2021.2" stroke="#111" stroke-width="3.4" stroke-linecap="butt"/>
<line x1="785.7" y1="2021.2" x2="785.7" y2="2035.0" stroke="#111" stroke-width="3.4" stroke-linecap="butt"/>
<line x1="818.7" y1="2021.2" x2="818.7" y2="2035.0" stroke="#111" stroke-width="3.4" stroke-linecap="butt"/>
<line x1="851.7" y1="2021.2" x2="851.7" y2="2035.0" stroke="#111" stroke-width="3.4" stroke-linecap="butt"/>
<line x1="884.8" y1="2021.2" x2="884.8" y2="2035.0" stroke="#111" stroke-width="3.4" stroke-linecap="butt"/>
<line x1="917.8" y1="2021.2" x2="917.8" y2="2035.0" stroke="#111" stroke-width="3.4" stroke-linecap="butt"/>
<line x1="950.8" y1="2021.2" x2="950.8" y2="2035.0" stroke="#111" stroke-width="3.4" stroke-linecap="butt"/>
<text x="799.2" y="2039.0" font-size="35.5" text-anchor="end" transform="matrix(1.06 0 0 1 -47.95 0) rotate(-90 799.2 2039.0)">0</text>
<text x="832.2" y="2039.0" font-size="35.5" text-anchor="end" transform="matrix(1.06 0 0 1 -49.93 0) rotate(-90 832.2 2039.0)">7.8</text>
<text x="865.2" y="2039.0" font-size="35.5" text-anchor="end" transform="matrix(1.06 0 0 1 -51.91 0) rotate(-90 865.2 2039.0)">15.6</text>
<text x="898.3" y="2039.0" font-size="35.5" text-anchor="end" transform="matrix(1.06 0 0 1 -53.90 0) rotate(-90 898.3 2039.0)">31.3</text>
<text x="931.3" y="2039.0" font-size="35.5" text-anchor="end" transform="matrix(1.06 0 0 1 -55.88 0) rotate(-90 931.3 2039.0)">62.5</text>
<text x="964.3" y="2039.0" font-size="35.5" text-anchor="end" transform="matrix(1.06 0 0 1 -57.86 0) rotate(-90 964.3 2039.0)">125</text>
<text x="871.0" y="1667.0" font-size="35" text-anchor="middle">HCoV-NL63</text>
<text x="772.5" y="1699.5" font-size="29.9">EC<tspan font-size="20.3" dy="9.0">50</tspan><tspan dy="-9.0">=2.60 µM</tspan></text>
<text x="867.6" y="2145.3" font-size="33" text-anchor="middle">Concentration (µM)</text>
<text transform="translate(707.5 1863) rotate(-90)" font-size="32" text-anchor="middle">NL63-N/10<tspan font-size="19" dy="-12">4</tspan><tspan dy="12"> GAPDH ( log</tspan><tspan font-size="19" dy="7">10</tspan><tspan dy="-7">)</tspan></text>
<line x1="1118.6" y1="1939.5" x2="1321.6" y2="1939.5" stroke="#111" stroke-width="4.2" stroke-dasharray="0 9.6" stroke-linecap="round"/>
<rect x="1128.0" y="1918.6" width="29.5" height="42.1" fill="none" stroke="#f4b7cb" stroke-width="2.6"/>
<line x1="1128.0" y1="1939.5" x2="1157.5" y2="1939.5" stroke="#f4b7cb" stroke-width="2.6" stroke-linecap="butt"/>
<rect x="1177.2" y="1859.3" width="29.5" height="22.8" fill="none" stroke="#f4b7cb" stroke-width="2.6"/>
<line x1="1177.2" y1="1869.6" x2="1206.8" y2="1869.6" stroke="#f4b7cb" stroke-width="2.6" stroke-linecap="butt"/>
<line x1="1241.2" y1="1817.3" x2="1241.2" y2="1813.2" stroke="#f4b7cb" stroke-width="2.6" stroke-linecap="butt"/>
<line x1="1236.2" y1="1813.2" x2="1246.2" y2="1813.2" stroke="#f4b7cb" stroke-width="2.6" stroke-linecap="butt"/>
<rect x="1226.5" y="1817.3" width="29.5" height="38.6" fill="none" stroke="#f4b7cb" stroke-width="2.6"/>
<line x1="1226.5" y1="1840.1" x2="1256.0" y2="1840.1" stroke="#f4b7cb" stroke-width="2.6" stroke-linecap="butt"/>
<rect x="1275.7" y="1784.8" width="29.5" height="3.2" fill="none" stroke="#f4b7cb" stroke-width="2.6"/>
<line x1="1275.7" y1="1786.4" x2="1305.2" y2="1786.4" stroke="#f4b7cb" stroke-width="2.6" stroke-linecap="butt"/>
<line x1="1109.6" y1="1698.6" x2="1109.6" y2="2020.9" stroke="#111" stroke-width="3.4" stroke-linecap="butt"/>
<line x1="1095.8" y1="2019.2" x2="1109.6" y2="2019.2" stroke="#111" stroke-width="3.4" stroke-linecap="butt"/>
<text x="1087.3" y="2032.4" font-size="35.5" text-anchor="end" transform="matrix(1 0 0 1.06 0 -121.94)">-50</text>
<line x1="1095.8" y1="1939.5" x2="1109.6" y2="1939.5" stroke="#111" stroke-width="3.4" stroke-linecap="butt"/>
<text x="1087.3" y="1952.6" font-size="35.5" text-anchor="end" transform="matrix(1 0 0 1.06 0 -117.16)">0</text>
<line x1="1095.8" y1="1859.8" x2="1109.6" y2="1859.8" stroke="#111" stroke-width="3.4" stroke-linecap="butt"/>
<text x="1087.3" y="1872.9" font-size="35.5" text-anchor="end" transform="matrix(1 0 0 1.06 0 -112.38)">50</text>
<line x1="1095.8" y1="1780.0" x2="1109.6" y2="1780.0" stroke="#111" stroke-width="3.4" stroke-linecap="butt"/>
<text x="1087.3" y="1793.2" font-size="35.5" text-anchor="end" transform="matrix(1 0 0 1.06 0 -107.59)">100</text>
<line x1="1095.8" y1="1700.3" x2="1109.6" y2="1700.3" stroke="#111" stroke-width="3.4" stroke-linecap="butt"/>
<text x="1087.3" y="1713.5" font-size="35.5" text-anchor="end" transform="matrix(1 0 0 1.06 0 -102.81)">150</text>
<line x1="1096.1" y1="2019.2" x2="1323.6" y2="2019.2" stroke="#111" stroke-width="3.4" stroke-linecap="butt"/>
<line x1="1142.8" y1="2019.2" x2="1142.8" y2="2033.0" stroke="#111" stroke-width="3.4" stroke-linecap="butt"/>
<line x1="1192.0" y1="2019.2" x2="1192.0" y2="2033.0" stroke="#111" stroke-width="3.4" stroke-linecap="butt"/>
<line x1="1241.2" y1="2019.2" x2="1241.2" y2="2033.0" stroke="#111" stroke-width="3.4" stroke-linecap="butt"/>
<line x1="1290.4" y1="2019.2" x2="1290.4" y2="2033.0" stroke="#111" stroke-width="3.4" stroke-linecap="butt"/>
<text x="1142.8" y="2066.0" font-size="35.5" text-anchor="middle" transform="matrix(1 0 0 1.06 0 -123.96)">0</text>
<text x="1192.0" y="2066.0" font-size="35.5" text-anchor="middle" transform="matrix(1 0 0 1.06 0 -123.96)">0.8</text>
<text x="1241.2" y="2066.0" font-size="35.5" text-anchor="middle" transform="matrix(1 0 0 1.06 0 -123.96)">4</text>
<text x="1290.4" y="2066.0" font-size="35.5" text-anchor="middle" transform="matrix(1 0 0 1.06 0 -123.96)">20</text>
<text x="1222.6" y="1667.0" font-size="35" text-anchor="middle">HCoV-229E</text>
<text x="1120.6" y="1699.0" font-size="29.9">EC<tspan font-size="20.3" dy="9.0">50</tspan><tspan dy="-9.0">=1.28 µM</tspan></text>
<text x="1217.8" y="2145.3" font-size="33" text-anchor="middle">Concentration (µM)</text>
<line x1="1436.2" y1="1936.9" x2="1639.2" y2="1936.9" stroke="#111" stroke-width="4.2" stroke-dasharray="0 9.6" stroke-linecap="round"/>
<line x1="1460.4" y1="1927.1" x2="1460.4" y2="1921.7" stroke="#f8c598" stroke-width="2.6" stroke-linecap="butt"/>
<line x1="1455.4" y1="1921.7" x2="1465.4" y2="1921.7" stroke="#f8c598" stroke-width="2.6" stroke-linecap="butt"/>
<line x1="1460.4" y1="1950.7" x2="1460.4" y2="1956.2" stroke="#f8c598" stroke-width="2.6" stroke-linecap="butt"/>
<line x1="1455.4" y1="1956.2" x2="1465.4" y2="1956.2" stroke="#f8c598" stroke-width="2.6" stroke-linecap="butt"/>
<rect x="1445.7" y="1927.1" width="29.5" height="23.6" fill="none" stroke="#f8c598" stroke-width="2.6"/>
<line x1="1445.7" y1="1936.1" x2="1475.2" y2="1936.1" stroke="#f8c598" stroke-width="2.6" stroke-linecap="butt"/>
<line x1="1509.6" y1="1827.8" x2="1509.6" y2="1823.7" stroke="#f8c598" stroke-width="2.6" stroke-linecap="butt"/>
<line x1="1504.6" y1="1823.7" x2="1514.6" y2="1823.7" stroke="#f8c598" stroke-width="2.6" stroke-linecap="butt"/>
<line x1="1509.6" y1="1861.8" x2="1509.6" y2="1872.0" stroke="#f8c598" stroke-width="2.6" stroke-linecap="butt"/>
<line x1="1504.6" y1="1872.0" x2="1514.6" y2="1872.0" stroke="#f8c598" stroke-width="2.6" stroke-linecap="butt"/>
<rect x="1494.9" y="1827.8" width="29.5" height="34.0" fill="none" stroke="#f8c598" stroke-width="2.6"/>
<line x1="1494.9" y1="1836.4" x2="1524.4" y2="1836.4" stroke="#f8c598" stroke-width="2.6" stroke-linecap="butt"/>
<rect x="1544.1" y="1793.4" width="29.5" height="11.0" fill="none" stroke="#f8c598" stroke-width="2.6"/>
<line x1="1544.1" y1="1799.7" x2="1573.6" y2="1799.7" stroke="#f8c598" stroke-width="2.6" stroke-linecap="butt"/>
<rect x="1593.2" y="1777.4" width="29.5" height="0.0" fill="none" stroke="#f8c598" stroke-width="2.6"/>
<line x1="1593.2" y1="1777.4" x2="1622.8" y2="1777.4" stroke="#f8c598" stroke-width="2.6" stroke-linecap="butt"/>
<line x1="1427.2" y1="1696.0" x2="1427.2" y2="2018.3" stroke="#111" stroke-width="3.4" stroke-linecap="butt"/>
<line x1="1413.4" y1="2016.6" x2="1427.2" y2="2016.6" stroke="#111" stroke-width="3.4" stroke-linecap="butt"/>
<text x="1410.2" y="2029.8" font-size="35.5" text-anchor="end" transform="matrix(1 0 0 1.06 0 -121.79)">-50</text>
<line x1="1413.4" y1="1936.9" x2="1427.2" y2="1936.9" stroke="#111" stroke-width="3.4" stroke-linecap="butt"/>
<text x="1410.2" y="1950.0" font-size="35.5" text-anchor="end" transform="matrix(1 0 0 1.06 0 -117.00)">0</text>
<line x1="1413.4" y1="1857.2" x2="1427.2" y2="1857.2" stroke="#111" stroke-width="3.4" stroke-linecap="butt"/>
<text x="1410.2" y="1870.3" font-size="35.5" text-anchor="end" transform="matrix(1 0 0 1.06 0 -112.22)">50</text>
<line x1="1413.4" y1="1777.4" x2="1427.2" y2="1777.4" stroke="#111" stroke-width="3.4" stroke-linecap="butt"/>
<text x="1410.2" y="1790.6" font-size="35.5" text-anchor="end" transform="matrix(1 0 0 1.06 0 -107.44)">100</text>
<line x1="1413.4" y1="1697.7" x2="1427.2" y2="1697.7" stroke="#111" stroke-width="3.4" stroke-linecap="butt"/>
<text x="1410.2" y="1710.9" font-size="35.5" text-anchor="end" transform="matrix(1 0 0 1.06 0 -102.65)">150</text>
<line x1="1413.7" y1="2016.6" x2="1641.2" y2="2016.6" stroke="#111" stroke-width="3.4" stroke-linecap="butt"/>
<line x1="1460.4" y1="2016.6" x2="1460.4" y2="2030.4" stroke="#111" stroke-width="3.4" stroke-linecap="butt"/>
<line x1="1509.6" y1="2016.6" x2="1509.6" y2="2030.4" stroke="#111" stroke-width="3.4" stroke-linecap="butt"/>
<line x1="1558.8" y1="2016.6" x2="1558.8" y2="2030.4" stroke="#111" stroke-width="3.4" stroke-linecap="butt"/>
<line x1="1608.0" y1="2016.6" x2="1608.0" y2="2030.4" stroke="#111" stroke-width="3.4" stroke-linecap="butt"/>
<text x="1460.4" y="2066.0" font-size="35.5" text-anchor="middle" transform="matrix(1 0 0 1.06 0 -123.96)">0</text>
<text x="1509.6" y="2066.0" font-size="35.5" text-anchor="middle" transform="matrix(1 0 0 1.06 0 -123.96)">0.8</text>
<text x="1558.8" y="2066.0" font-size="35.5" text-anchor="middle" transform="matrix(1 0 0 1.06 0 -123.96)">4</text>
<text x="1608.0" y="2066.0" font-size="35.5" text-anchor="middle" transform="matrix(1 0 0 1.06 0 -123.96)">20</text>
<text x="1530.2" y="1667.0" font-size="35" text-anchor="middle">SARS-CoV-1</text>
<text x="1443.0" y="1707.7" font-size="29.9">EC<tspan font-size="20.3" dy="9.0">50</tspan><tspan dy="-9.0">=0.55 µM</tspan></text>
<text x="1527.5" y="2145.3" font-size="33" text-anchor="middle">Concentration (µM)</text>
<line x1="1749.4" y1="1937.5" x2="1952.4" y2="1937.5" stroke="#111" stroke-width="4.2" stroke-dasharray="0 9.6" stroke-linecap="round"/>
<line x1="1773.6" y1="1919.5" x2="1773.6" y2="1915.4" stroke="#e9d795" stroke-width="2.6" stroke-linecap="butt"/>
<line x1="1768.6" y1="1915.4" x2="1778.6" y2="1915.4" stroke="#e9d795" stroke-width="2.6" stroke-linecap="butt"/>
<line x1="1773.6" y1="1959.6" x2="1773.6" y2="1966.5" stroke="#e9d795" stroke-width="2.6" stroke-linecap="butt"/>
<line x1="1768.6" y1="1966.5" x2="1778.6" y2="1966.5" stroke="#e9d795" stroke-width="2.6" stroke-linecap="butt"/>
<rect x="1758.9" y="1919.5" width="29.5" height="40.1" fill="none" stroke="#e9d795" stroke-width="2.6"/>
<line x1="1758.9" y1="1933.4" x2="1788.4" y2="1933.4" stroke="#e9d795" stroke-width="2.6" stroke-linecap="butt"/>
<rect x="1808.1" y="1933.4" width="29.5" height="18.0" fill="none" stroke="#e9d795" stroke-width="2.6"/>
<line x1="1808.1" y1="1940.7" x2="1837.6" y2="1940.7" stroke="#e9d795" stroke-width="2.6" stroke-linecap="butt"/>
<line x1="1872.0" y1="1865.2" x2="1872.0" y2="1861.9" stroke="#e9d795" stroke-width="2.6" stroke-linecap="butt"/>
<line x1="1867.0" y1="1861.9" x2="1877.0" y2="1861.9" stroke="#e9d795" stroke-width="2.6" stroke-linecap="butt"/>
<rect x="1857.3" y="1865.2" width="29.5" height="21.3" fill="none" stroke="#e9d795" stroke-width="2.6"/>
<line x1="1857.3" y1="1876.8" x2="1886.8" y2="1876.8" stroke="#e9d795" stroke-width="2.6" stroke-linecap="butt"/>
<rect x="1906.5" y="1794.2" width="29.5" height="4.8" fill="none" stroke="#e9d795" stroke-width="2.6"/>
<line x1="1906.5" y1="1795.8" x2="1936.0" y2="1795.8" stroke="#e9d795" stroke-width="2.6" stroke-linecap="butt"/>
<line x1="1740.4" y1="1697.0" x2="1740.4" y2="2018.8" stroke="#111" stroke-width="3.4" stroke-linecap="butt"/>
<line x1="1726.6" y1="2017.1" x2="1740.4" y2="2017.1" stroke="#111" stroke-width="3.4" stroke-linecap="butt"/>
<text x="1723.4" y="2030.3" font-size="35.5" text-anchor="end" transform="matrix(1 0 0 1.06 0 -121.82)">-50</text>
<line x1="1726.6" y1="1937.5" x2="1740.4" y2="1937.5" stroke="#111" stroke-width="3.4" stroke-linecap="butt"/>
<text x="1723.4" y="1950.7" font-size="35.5" text-anchor="end" transform="matrix(1 0 0 1.06 0 -117.04)">0</text>
<line x1="1726.6" y1="1857.9" x2="1740.4" y2="1857.9" stroke="#111" stroke-width="3.4" stroke-linecap="butt"/>
<text x="1723.4" y="1871.1" font-size="35.5" text-anchor="end" transform="matrix(1 0 0 1.06 0 -112.26)">50</text>
<line x1="1726.6" y1="1778.3" x2="1740.4" y2="1778.3" stroke="#111" stroke-width="3.4" stroke-linecap="butt"/>
<text x="1723.4" y="1791.5" font-size="35.5" text-anchor="end" transform="matrix(1 0 0 1.06 0 -107.49)">100</text>
<line x1="1726.6" y1="1698.7" x2="1740.4" y2="1698.7" stroke="#111" stroke-width="3.4" stroke-linecap="butt"/>
<text x="1723.4" y="1711.9" font-size="35.5" text-anchor="end" transform="matrix(1 0 0 1.06 0 -102.71)">150</text>
<line x1="1726.9" y1="2017.1" x2="1954.4" y2="2017.1" stroke="#111" stroke-width="3.4" stroke-linecap="butt"/>
<line x1="1773.6" y1="2017.1" x2="1773.6" y2="2030.9" stroke="#111" stroke-width="3.4" stroke-linecap="butt"/>
<line x1="1822.8" y1="2017.1" x2="1822.8" y2="2030.9" stroke="#111" stroke-width="3.4" stroke-linecap="butt"/>
<line x1="1872.0" y1="2017.1" x2="1872.0" y2="2030.9" stroke="#111" stroke-width="3.4" stroke-linecap="butt"/>
<line x1="1921.2" y1="2017.1" x2="1921.2" y2="2030.9" stroke="#111" stroke-width="3.4" stroke-linecap="butt"/>
<text x="1773.6" y="2066.0" font-size="35.5" text-anchor="middle" transform="matrix(1 0 0 1.06 0 -123.96)">0</text>
<text x="1822.8" y="2066.0" font-size="35.5" text-anchor="middle" transform="matrix(1 0 0 1.06 0 -123.96)">0.8</text>
<text x="1872.0" y="2066.0" font-size="35.5" text-anchor="middle" transform="matrix(1 0 0 1.06 0 -123.96)">4</text>
<text x="1921.2" y="2066.0" font-size="35.5" text-anchor="middle" transform="matrix(1 0 0 1.06 0 -123.96)">20</text>
<text x="1849.0" y="1667.0" font-size="35" text-anchor="middle">MERS-CoV</text>
<text x="1752.0" y="1699.0" font-size="29.9">EC<tspan font-size="20.3" dy="9.0">50</tspan><tspan dy="-9.0">=5.26 µM</tspan></text>
<text x="1848.0" y="2145.3" font-size="33" text-anchor="middle">Concentration (µM)</text>
<text transform="translate(1027.3 1863.5) rotate(-90)" font-size="33.5" text-anchor="middle" textLength="488" lengthAdjust="spacingAndGlyphs">Plaque formation (% inhibition)</text>
<text x="-1.5" y="551.0" font-size="50.5" font-weight="bold" fill="#000">b</text>
<text x="-0.5" y="1099.3" font-size="49" font-weight="bold" fill="#000">c</text>
<text x="-1.0" y="1627.2" font-size="50" font-weight="bold" fill="#000">d</text>
<text x="968.5" y="1627.5" font-size="50" font-weight="bold" fill="#000">e</text>
<circle cx="195.7" cy="683.6" r="5.4" fill="#5e5e5e"/>
<circle cx="199.7" cy="686.6" r="5.4" fill="#5e5e5e"/>
<circle cx="202.7" cy="678.1" r="5.4" fill="#5e5e5e"/>
<circle cx="207.7" cy="680.6" r="5.4" fill="#5e5e5e"/>
<circle cx="209.7" cy="673.4" r="5.4" fill="#5e5e5e"/>
<circle cx="200.7" cy="692.1" r="5.4" fill="#5e5e5e"/>
<circle cx="202.7" cy="700.6" r="5.4" fill="#5e5e5e"/>
<circle cx="209.7" cy="687.4" r="5.4" fill="#5e5e5e"/>
<circle cx="232.5" cy="670.9" r="5.4" fill="#5e5e5e"/>
<circle cx="237.5" cy="664.5" r="5.4" fill="#5e5e5e"/>
<circle cx="242.5" cy="670.0" r="5.4" fill="#5e5e5e"/>
<circle cx="245.5" cy="672.1" r="5.4" fill="#5e5e5e"/>
<circle cx="235.5" cy="673.0" r="5.4" fill="#5e5e5e"/>
<circle cx="240.5" cy="676.4" r="5.4" fill="#5e5e5e"/>
<circle cx="237.5" cy="684.5" r="5.4" fill="#5e5e5e"/>
<circle cx="267.4" cy="690.4" r="5.4" fill="#5e5e5e"/>
<circle cx="270.4" cy="683.6" r="5.4" fill="#5e5e5e"/>
<circle cx="275.4" cy="677.2" r="5.4" fill="#5e5e5e"/>
<circle cx="278.4" cy="674.3" r="5.4" fill="#5e5e5e"/>
<circle cx="281.4" cy="682.3" r="5.4" fill="#5e5e5e"/>
<circle cx="273.4" cy="680.6" r="5.4" fill="#5e5e5e"/>
<circle cx="277.4" cy="681.9" r="5.4" fill="#5e5e5e"/>
<circle cx="309.2" cy="705.3" r="5.4" fill="#5e5e5e"/>
<circle cx="309.2" cy="719.7" r="5.4" fill="#5e5e5e"/>
<circle cx="316.2" cy="732.4" r="5.4" fill="#5e5e5e"/>
<circle cx="309.2" cy="746.9" r="5.4" fill="#5e5e5e"/>
<circle cx="316.2" cy="744.3" r="5.4" fill="#5e5e5e"/>
<circle cx="309.2" cy="779.6" r="5.4" fill="#5e5e5e"/>
<circle cx="343.1" cy="833.5" r="5.4" fill="#5e5e5e"/>
<circle cx="352.1" cy="831.0" r="5.4" fill="#5e5e5e"/>
<circle cx="345.1" cy="849.7" r="5.4" fill="#5e5e5e"/>
<circle cx="345.1" cy="876.8" r="5.4" fill="#5e5e5e"/>
<circle cx="338.1" cy="896.0" r="5.4" fill="#5e5e5e"/>
<circle cx="352.1" cy="893.0" r="5.4" fill="#5e5e5e"/>
<circle cx="372.9" cy="881.1" r="5.4" fill="#5e5e5e"/>
<circle cx="380.9" cy="891.7" r="5.4" fill="#5e5e5e"/>
<circle cx="374.9" cy="901.0" r="5.4" fill="#5e5e5e"/>
<circle cx="387.9" cy="902.3" r="5.4" fill="#5e5e5e"/>
<circle cx="380.9" cy="914.6" r="5.4" fill="#5e5e5e"/>
<circle cx="380.9" cy="925.7" r="5.4" fill="#5e5e5e"/>
<circle cx="510.1" cy="678.1" r="5.4" fill="#ec3b44"/>
<circle cx="510.1" cy="695.1" r="5.4" fill="#ec3b44"/>
<circle cx="510.1" cy="710.8" r="5.4" fill="#ec3b44"/>
<circle cx="518.1" cy="712.1" r="5.4" fill="#ec3b44"/>
<circle cx="503.1" cy="720.1" r="5.4" fill="#ec3b44"/>
<circle cx="510.1" cy="762.2" r="5.4" fill="#ec3b44"/>
<circle cx="539.0" cy="675.5" r="5.4" fill="#ec3b44"/>
<circle cx="546.0" cy="668.7" r="5.4" fill="#ec3b44"/>
<circle cx="552.0" cy="671.3" r="5.4" fill="#ec3b44"/>
<circle cx="546.0" cy="683.6" r="5.4" fill="#ec3b44"/>
<circle cx="546.0" cy="700.6" r="5.4" fill="#ec3b44"/>
<circle cx="546.0" cy="715.9" r="5.4" fill="#ec3b44"/>
<circle cx="580.8" cy="673.4" r="5.4" fill="#ec3b44"/>
<circle cx="588.8" cy="675.5" r="5.4" fill="#ec3b44"/>
<circle cx="573.8" cy="683.2" r="5.4" fill="#ec3b44"/>
<circle cx="580.8" cy="691.7" r="5.4" fill="#ec3b44"/>
<circle cx="588.8" cy="691.7" r="5.4" fill="#ec3b44"/>
<circle cx="580.8" cy="725.2" r="5.4" fill="#ec3b44"/>
<circle cx="616.7" cy="698.0" r="5.4" fill="#ec3b44"/>
<circle cx="616.7" cy="715.0" r="5.4" fill="#ec3b44"/>
<circle cx="609.7" cy="743.9" r="5.4" fill="#ec3b44"/>
<circle cx="623.7" cy="744.3" r="5.4" fill="#ec3b44"/>
<circle cx="616.7" cy="752.0" r="5.4" fill="#ec3b44"/>
<circle cx="616.7" cy="808.9" r="5.4" fill="#ec3b44"/>
<circle cx="652.5" cy="810.6" r="5.4" fill="#ec3b44"/>
<circle cx="652.5" cy="841.6" r="5.4" fill="#ec3b44"/>
<circle cx="652.5" cy="855.2" r="5.4" fill="#ec3b44"/>
<circle cx="652.5" cy="874.3" r="5.4" fill="#ec3b44"/>
<circle cx="660.5" cy="873.4" r="5.4" fill="#ec3b44"/>
<circle cx="652.5" cy="893.8" r="5.4" fill="#ec3b44"/>
<circle cx="688.4" cy="819.9" r="5.4" fill="#ec3b44"/>
<circle cx="688.4" cy="848.0" r="5.4" fill="#ec3b44"/>
<circle cx="688.4" cy="870.5" r="5.4" fill="#ec3b44"/>
<circle cx="688.4" cy="895.1" r="5.4" fill="#ec3b44"/>
<circle cx="695.4" cy="896.4" r="5.4" fill="#ec3b44"/>
<circle cx="681.4" cy="906.6" r="5.4" fill="#ec3b44"/>
<circle cx="813.8" cy="650.9" r="5.4" fill="#1f87e0"/>
<circle cx="818.8" cy="649.2" r="5.4" fill="#1f87e0"/>
<circle cx="823.8" cy="648.8" r="5.4" fill="#1f87e0"/>
<circle cx="829.8" cy="650.1" r="5.4" fill="#1f87e0"/>
<circle cx="826.8" cy="654.7" r="5.4" fill="#1f87e0"/>
<circle cx="816.8" cy="652.6" r="5.4" fill="#1f87e0"/>
<circle cx="851.6" cy="650.9" r="5.4" fill="#1f87e0"/>
<circle cx="856.6" cy="643.3" r="5.4" fill="#1f87e0"/>
<circle cx="859.6" cy="647.1" r="5.4" fill="#1f87e0"/>
<circle cx="864.6" cy="649.6" r="5.4" fill="#1f87e0"/>
<circle cx="865.6" cy="654.3" r="5.4" fill="#1f87e0"/>
<circle cx="854.6" cy="649.6" r="5.4" fill="#1f87e0"/>
<circle cx="886.5" cy="656.8" r="5.4" fill="#1f87e0"/>
<circle cx="892.5" cy="655.1" r="5.4" fill="#1f87e0"/>
<circle cx="899.5" cy="656.0" r="5.4" fill="#1f87e0"/>
<circle cx="895.5" cy="660.2" r="5.4" fill="#1f87e0"/>
<circle cx="889.5" cy="657.7" r="5.4" fill="#1f87e0"/>
<circle cx="902.5" cy="655.1" r="5.4" fill="#1f87e0"/>
<circle cx="929.3" cy="670.0" r="5.4" fill="#1f87e0"/>
<circle cx="922.3" cy="676.4" r="5.4" fill="#1f87e0"/>
<circle cx="936.3" cy="680.6" r="5.4" fill="#1f87e0"/>
<circle cx="929.3" cy="684.5" r="5.4" fill="#1f87e0"/>
<circle cx="922.3" cy="695.5" r="5.4" fill="#1f87e0"/>
<circle cx="936.3" cy="695.5" r="5.4" fill="#1f87e0"/>
<circle cx="965.2" cy="786.4" r="5.4" fill="#1f87e0"/>
<circle cx="958.2" cy="805.9" r="5.4" fill="#1f87e0"/>
<circle cx="972.2" cy="803.8" r="5.4" fill="#1f87e0"/>
<circle cx="965.2" cy="814.8" r="5.4" fill="#1f87e0"/>
<circle cx="972.2" cy="816.1" r="5.4" fill="#1f87e0"/>
<circle cx="958.2" cy="824.2" r="5.4" fill="#1f87e0"/>
<circle cx="1003.0" cy="893.0" r="5.4" fill="#1f87e0"/>
<circle cx="995.0" cy="897.2" r="5.4" fill="#1f87e0"/>
<circle cx="1001.0" cy="902.3" r="5.4" fill="#1f87e0"/>
<circle cx="1008.0" cy="904.0" r="5.4" fill="#1f87e0"/>
<circle cx="999.0" cy="909.1" r="5.4" fill="#1f87e0"/>
<circle cx="1001.0" cy="915.1" r="5.4" fill="#1f87e0"/>
<circle cx="1131.5" cy="618.6" r="5.4" fill="#b550d8"/>
<circle cx="1126.5" cy="625.4" r="5.4" fill="#b550d8"/>
<circle cx="1133.5" cy="624.1" r="5.4" fill="#b550d8"/>
<circle cx="1125.5" cy="630.9" r="5.4" fill="#b550d8"/>
<circle cx="1138.5" cy="633.5" r="5.4" fill="#b550d8"/>
<circle cx="1132.5" cy="628.4" r="5.4" fill="#b550d8"/>
<circle cx="1160.3" cy="619.9" r="5.4" fill="#b550d8"/>
<circle cx="1168.3" cy="619.5" r="5.4" fill="#b550d8"/>
<circle cx="1175.3" cy="622.0" r="5.4" fill="#b550d8"/>
<circle cx="1164.3" cy="626.7" r="5.4" fill="#b550d8"/>
<circle cx="1171.3" cy="622.9" r="5.4" fill="#b550d8"/>
<circle cx="1167.3" cy="642.8" r="5.4" fill="#b550d8"/>
<circle cx="1198.2" cy="624.1" r="5.4" fill="#b550d8"/>
<circle cx="1203.2" cy="621.2" r="5.4" fill="#b550d8"/>
<circle cx="1210.2" cy="623.7" r="5.4" fill="#b550d8"/>
<circle cx="1207.2" cy="627.5" r="5.4" fill="#b550d8"/>
<circle cx="1200.2" cy="627.1" r="5.4" fill="#b550d8"/>
<circle cx="1211.2" cy="625.0" r="5.4" fill="#b550d8"/>
<circle cx="1232.0" cy="630.9" r="5.4" fill="#b550d8"/>
<circle cx="1239.0" cy="633.9" r="5.4" fill="#b550d8"/>
<circle cx="1247.0" cy="632.2" r="5.4" fill="#b550d8"/>
<circle cx="1236.0" cy="639.0" r="5.4" fill="#b550d8"/>
<circle cx="1247.0" cy="639.0" r="5.4" fill="#b550d8"/>
<circle cx="1232.0" cy="645.8" r="5.4" fill="#b550d8"/>
<circle cx="1268.9" cy="709.1" r="5.4" fill="#b550d8"/>
<circle cx="1276.9" cy="706.5" r="5.4" fill="#b550d8"/>
<circle cx="1270.9" cy="715.9" r="5.4" fill="#b550d8"/>
<circle cx="1267.9" cy="723.1" r="5.4" fill="#b550d8"/>
<circle cx="1275.9" cy="723.1" r="5.4" fill="#b550d8"/>
<circle cx="1281.9" cy="723.1" r="5.4" fill="#b550d8"/>
<circle cx="1303.8" cy="825.5" r="5.4" fill="#b550d8"/>
<circle cx="1310.8" cy="824.2" r="5.4" fill="#b550d8"/>
<circle cx="1317.8" cy="825.5" r="5.4" fill="#b550d8"/>
<circle cx="1309.8" cy="833.5" r="5.4" fill="#b550d8"/>
<circle cx="1314.8" cy="837.8" r="5.4" fill="#b550d8"/>
<circle cx="1310.8" cy="847.1" r="5.4" fill="#b550d8"/>
<circle cx="1433.5" cy="631.4" r="5.4" fill="#0f968a"/>
<circle cx="1439.5" cy="628.8" r="5.4" fill="#0f968a"/>
<circle cx="1444.5" cy="628.8" r="5.4" fill="#0f968a"/>
<circle cx="1448.5" cy="630.9" r="5.4" fill="#0f968a"/>
<circle cx="1442.5" cy="634.8" r="5.4" fill="#0f968a"/>
<circle cx="1436.5" cy="633.9" r="5.4" fill="#0f968a"/>
<circle cx="1470.3" cy="628.8" r="5.4" fill="#0f968a"/>
<circle cx="1475.3" cy="630.1" r="5.4" fill="#0f968a"/>
<circle cx="1481.3" cy="631.4" r="5.4" fill="#0f968a"/>
<circle cx="1483.3" cy="630.1" r="5.4" fill="#0f968a"/>
<circle cx="1479.3" cy="635.6" r="5.4" fill="#0f968a"/>
<circle cx="1472.3" cy="630.9" r="5.4" fill="#0f968a"/>
<circle cx="1506.2" cy="637.7" r="5.4" fill="#0f968a"/>
<circle cx="1509.2" cy="631.4" r="5.4" fill="#0f968a"/>
<circle cx="1515.2" cy="626.7" r="5.4" fill="#0f968a"/>
<circle cx="1519.2" cy="632.2" r="5.4" fill="#0f968a"/>
<circle cx="1513.2" cy="633.9" r="5.4" fill="#0f968a"/>
<circle cx="1506.2" cy="633.9" r="5.4" fill="#0f968a"/>
<circle cx="1543.0" cy="628.0" r="5.4" fill="#0f968a"/>
<circle cx="1551.0" cy="626.7" r="5.4" fill="#0f968a"/>
<circle cx="1556.0" cy="633.5" r="5.4" fill="#0f968a"/>
<circle cx="1549.0" cy="639.0" r="5.4" fill="#0f968a"/>
<circle cx="1541.0" cy="642.0" r="5.4" fill="#0f968a"/>
<circle cx="1548.0" cy="633.5" r="5.4" fill="#0f968a"/>
<circle cx="1578.9" cy="736.3" r="5.4" fill="#0f968a"/>
<circle cx="1586.9" cy="732.0" r="5.4" fill="#0f968a"/>
<circle cx="1582.9" cy="741.8" r="5.4" fill="#0f968a"/>
<circle cx="1590.9" cy="743.1" r="5.4" fill="#0f968a"/>
<circle cx="1576.9" cy="749.4" r="5.4" fill="#0f968a"/>
<circle cx="1584.9" cy="746.9" r="5.4" fill="#0f968a"/>
<circle cx="1614.8" cy="770.2" r="5.4" fill="#0f968a"/>
<circle cx="1620.8" cy="772.8" r="5.4" fill="#0f968a"/>
<circle cx="1627.8" cy="771.9" r="5.4" fill="#0f968a"/>
<circle cx="1627.8" cy="779.6" r="5.4" fill="#0f968a"/>
<circle cx="1620.8" cy="776.6" r="5.4" fill="#0f968a"/>
<circle cx="1613.8" cy="782.1" r="5.4" fill="#0f968a"/>
<circle cx="1745.8" cy="633.5" r="5.4" fill="#79b843"/>
<circle cx="1750.8" cy="636.0" r="5.4" fill="#79b843"/>
<circle cx="1757.8" cy="639.0" r="5.4" fill="#79b843"/>
<circle cx="1743.8" cy="641.6" r="5.4" fill="#79b843"/>
<circle cx="1753.8" cy="643.3" r="5.4" fill="#79b843"/>
<circle cx="1758.8" cy="641.6" r="5.4" fill="#79b843"/>
<circle cx="1780.6" cy="636.0" r="5.4" fill="#79b843"/>
<circle cx="1787.6" cy="636.0" r="5.4" fill="#79b843"/>
<circle cx="1793.6" cy="639.0" r="5.4" fill="#79b843"/>
<circle cx="1784.6" cy="641.6" r="5.4" fill="#79b843"/>
<circle cx="1789.6" cy="643.3" r="5.4" fill="#79b843"/>
<circle cx="1781.6" cy="640.3" r="5.4" fill="#79b843"/>
<circle cx="1816.5" cy="633.5" r="5.4" fill="#79b843"/>
<circle cx="1823.5" cy="633.5" r="5.4" fill="#79b843"/>
<circle cx="1829.5" cy="636.0" r="5.4" fill="#79b843"/>
<circle cx="1819.5" cy="638.2" r="5.4" fill="#79b843"/>
<circle cx="1827.5" cy="641.6" r="5.4" fill="#79b843"/>
<circle cx="1831.5" cy="637.7" r="5.4" fill="#79b843"/>
<circle cx="1851.3" cy="640.3" r="5.4" fill="#79b843"/>
<circle cx="1858.3" cy="636.0" r="5.4" fill="#79b843"/>
<circle cx="1863.3" cy="640.3" r="5.4" fill="#79b843"/>
<circle cx="1867.3" cy="647.1" r="5.4" fill="#79b843"/>
<circle cx="1855.3" cy="642.8" r="5.4" fill="#79b843"/>
<circle cx="1860.3" cy="640.3" r="5.4" fill="#79b843"/>
<circle cx="1894.2" cy="705.3" r="5.4" fill="#79b843"/>
<circle cx="1887.2" cy="713.3" r="5.4" fill="#79b843"/>
<circle cx="1895.2" cy="712.1" r="5.4" fill="#79b843"/>
<circle cx="1901.2" cy="715.9" r="5.4" fill="#79b843"/>
<circle cx="1891.2" cy="714.6" r="5.4" fill="#79b843"/>
<circle cx="1898.2" cy="713.3" r="5.4" fill="#79b843"/>
<circle cx="1925.0" cy="764.7" r="5.4" fill="#79b843"/>
<circle cx="1932.0" cy="764.7" r="5.4" fill="#79b843"/>
<circle cx="1938.0" cy="770.2" r="5.4" fill="#79b843"/>
<circle cx="1923.0" cy="768.5" r="5.4" fill="#79b843"/>
<circle cx="1931.0" cy="771.1" r="5.4" fill="#79b843"/>
<circle cx="1931.0" cy="780.9" r="5.4" fill="#79b843"/>
<circle cx="212.5" cy="1296.6" r="5.6" fill="#5e5e5e"/>
<circle cx="201.5" cy="1354.1" r="5.6" fill="#5e5e5e"/>
<circle cx="224.5" cy="1354.1" r="5.6" fill="#5e5e5e"/>
<circle cx="213.5" cy="1416.5" r="5.6" fill="#5e5e5e"/>
<circle cx="250.5" cy="1308.9" r="5.6" fill="#5e5e5e"/>
<circle cx="273.5" cy="1309.4" r="5.6" fill="#5e5e5e"/>
<circle cx="261.5" cy="1315.6" r="5.6" fill="#5e5e5e"/>
<circle cx="261.5" cy="1353.5" r="5.6" fill="#5e5e5e"/>
<circle cx="299.5" cy="1246.5" r="5.6" fill="#5e5e5e"/>
<circle cx="307.5" cy="1238.9" r="5.6" fill="#5e5e5e"/>
<circle cx="315.5" cy="1246.5" r="5.6" fill="#5e5e5e"/>
<circle cx="323.5" cy="1239.8" r="5.6" fill="#5e5e5e"/>
<circle cx="347.5" cy="1227.1" r="5.6" fill="#5e5e5e"/>
<circle cx="359.5" cy="1227.1" r="5.6" fill="#5e5e5e"/>
<circle cx="371.5" cy="1227.1" r="5.6" fill="#5e5e5e"/>
<circle cx="359.5" cy="1239.8" r="5.6" fill="#5e5e5e"/>
<circle cx="517.1" cy="1319.1" r="5.6" fill="#ec3b44"/>
<circle cx="529.1" cy="1318.3" r="5.6" fill="#ec3b44"/>
<circle cx="529.1" cy="1333.1" r="5.6" fill="#ec3b44"/>
<circle cx="529.1" cy="1450.1" r="5.6" fill="#ec3b44"/>
<circle cx="579.1" cy="1343.5" r="5.6" fill="#ec3b44"/>
<circle cx="590.1" cy="1339.1" r="5.6" fill="#ec3b44"/>
<circle cx="579.1" cy="1374.4" r="5.6" fill="#ec3b44"/>
<circle cx="579.1" cy="1398.7" r="5.6" fill="#ec3b44"/>
<circle cx="628.1" cy="1256.0" r="5.6" fill="#ec3b44"/>
<circle cx="640.1" cy="1272.2" r="5.6" fill="#ec3b44"/>
<circle cx="628.1" cy="1279.0" r="5.6" fill="#ec3b44"/>
<circle cx="628.1" cy="1293.9" r="5.6" fill="#ec3b44"/>
<circle cx="663.1" cy="1227.1" r="5.6" fill="#ec3b44"/>
<circle cx="671.1" cy="1227.1" r="5.6" fill="#ec3b44"/>
<circle cx="679.1" cy="1227.1" r="5.6" fill="#ec3b44"/>
<circle cx="687.1" cy="1227.1" r="5.6" fill="#ec3b44"/>
<circle cx="824.2" cy="1388.7" r="5.6" fill="#1f87e0"/>
<circle cx="836.2" cy="1397.6" r="5.6" fill="#1f87e0"/>
<circle cx="847.2" cy="1394.1" r="5.6" fill="#1f87e0"/>
<circle cx="836.2" cy="1431.9" r="5.6" fill="#1f87e0"/>
<circle cx="884.2" cy="1369.7" r="5.6" fill="#1f87e0"/>
<circle cx="884.2" cy="1415.6" r="5.6" fill="#1f87e0"/>
<circle cx="896.2" cy="1411.6" r="5.6" fill="#1f87e0"/>
<circle cx="884.2" cy="1445.5" r="5.6" fill="#1f87e0"/>
<circle cx="921.2" cy="1280.3" r="5.6" fill="#1f87e0"/>
<circle cx="929.2" cy="1274.4" r="5.6" fill="#1f87e0"/>
<circle cx="936.2" cy="1280.3" r="5.6" fill="#1f87e0"/>
<circle cx="944.2" cy="1277.6" r="5.6" fill="#1f87e0"/>
<circle cx="969.2" cy="1243.1" r="5.6" fill="#1f87e0"/>
<circle cx="977.2" cy="1243.1" r="5.6" fill="#1f87e0"/>
<circle cx="985.2" cy="1243.1" r="5.6" fill="#1f87e0"/>
<circle cx="993.2" cy="1243.1" r="5.6" fill="#1f87e0"/>
<circle cx="1149.3" cy="1379.1" r="5.6" fill="#b550d8"/>
<circle cx="1149.3" cy="1392.6" r="5.6" fill="#b550d8"/>
<circle cx="1149.3" cy="1404.3" r="5.6" fill="#b550d8"/>
<circle cx="1149.3" cy="1435.3" r="5.6" fill="#b550d8"/>
<circle cx="1198.3" cy="1316.4" r="5.6" fill="#b550d8"/>
<circle cx="1198.3" cy="1343.5" r="5.6" fill="#b550d8"/>
<circle cx="1210.3" cy="1351.5" r="5.6" fill="#b550d8"/>
<circle cx="1187.3" cy="1360.2" r="5.6" fill="#b550d8"/>
<circle cx="1247.3" cy="1249.2" r="5.6" fill="#b550d8"/>
<circle cx="1247.3" cy="1270.9" r="5.6" fill="#b550d8"/>
<circle cx="1258.3" cy="1281.7" r="5.6" fill="#b550d8"/>
<circle cx="1235.3" cy="1290.7" r="5.6" fill="#b550d8"/>
<circle cx="1283.3" cy="1243.1" r="5.6" fill="#b550d8"/>
<circle cx="1291.3" cy="1243.1" r="5.6" fill="#b550d8"/>
<circle cx="1299.3" cy="1243.1" r="5.6" fill="#b550d8"/>
<circle cx="1307.3" cy="1243.1" r="5.6" fill="#b550d8"/>
<circle cx="1442.5" cy="1356.9" r="5.6" fill="#0f968a"/>
<circle cx="1453.5" cy="1351.5" r="5.6" fill="#0f968a"/>
<circle cx="1453.5" cy="1423.3" r="5.6" fill="#0f968a"/>
<circle cx="1453.5" cy="1481.2" r="5.6" fill="#0f968a"/>
<circle cx="1502.5" cy="1316.4" r="5.6" fill="#0f968a"/>
<circle cx="1491.5" cy="1403.0" r="5.6" fill="#0f968a"/>
<circle cx="1514.5" cy="1410.2" r="5.6" fill="#0f968a"/>
<circle cx="1502.5" cy="1469.9" r="5.6" fill="#0f968a"/>
<circle cx="1551.5" cy="1261.5" r="5.6" fill="#0f968a"/>
<circle cx="1563.5" cy="1296.6" r="5.6" fill="#0f968a"/>
<circle cx="1551.5" cy="1303.3" r="5.6" fill="#0f968a"/>
<circle cx="1551.5" cy="1316.8" r="5.6" fill="#0f968a"/>
<circle cx="1587.5" cy="1243.1" r="5.6" fill="#0f968a"/>
<circle cx="1595.5" cy="1243.1" r="5.6" fill="#0f968a"/>
<circle cx="1603.5" cy="1243.1" r="5.6" fill="#0f968a"/>
<circle cx="1611.5" cy="1243.1" r="5.6" fill="#0f968a"/>
<circle cx="1774.8" cy="1295.3" r="5.6" fill="#79b843"/>
<circle cx="1774.8" cy="1416.6" r="5.6" fill="#79b843"/>
<circle cx="1763.8" cy="1450.9" r="5.6" fill="#79b843"/>
<circle cx="1786.8" cy="1450.9" r="5.6" fill="#79b843"/>
<circle cx="1823.8" cy="1281.1" r="5.6" fill="#79b843"/>
<circle cx="1823.8" cy="1298.5" r="5.6" fill="#79b843"/>
<circle cx="1823.8" cy="1310.9" r="5.6" fill="#79b843"/>
<circle cx="1823.8" cy="1381.8" r="5.6" fill="#79b843"/>
<circle cx="1861.8" cy="1250.0" r="5.6" fill="#79b843"/>
<circle cx="1884.8" cy="1250.6" r="5.6" fill="#79b843"/>
<circle cx="1872.8" cy="1260.0" r="5.6" fill="#79b843"/>
<circle cx="1872.8" cy="1272.8" r="5.6" fill="#79b843"/>
<circle cx="1908.8" cy="1243.1" r="5.6" fill="#79b843"/>
<circle cx="1916.8" cy="1243.1" r="5.6" fill="#79b843"/>
<circle cx="1924.8" cy="1243.1" r="5.6" fill="#79b843"/>
<circle cx="1932.8" cy="1243.1" r="5.6" fill="#79b843"/>
<circle cx="175.9" cy="1733.8" r="5.2" fill="#1db58c"/>
<circle cx="191.9" cy="1747.6" r="5.2" fill="#1db58c"/>
<circle cx="208.9" cy="1749.8" r="5.2" fill="#1db58c"/>
<circle cx="191.9" cy="1758.8" r="5.2" fill="#1db58c"/>
<circle cx="255.9" cy="1792.8" r="5.2" fill="#1db58c"/>
<circle cx="255.9" cy="1809.2" r="5.2" fill="#1db58c"/>
<circle cx="271.9" cy="1807.1" r="5.2" fill="#1db58c"/>
<circle cx="255.9" cy="1840.6" r="5.2" fill="#1db58c"/>
<circle cx="319.4" cy="1929.2" r="5.2" fill="#1db58c"/>
<circle cx="319.4" cy="1952.6" r="5.2" fill="#1db58c"/>
<circle cx="303.4" cy="1975.4" r="5.2" fill="#1db58c"/>
<circle cx="335.4" cy="1972.2" r="5.2" fill="#1db58c"/>
<circle cx="474.4" cy="1728.0" r="5.0" fill="#5b5bf0"/>
<circle cx="474.4" cy="1747.1" r="5.0" fill="#5b5bf0"/>
<circle cx="468.4" cy="1755.9" r="5.0" fill="#5b5bf0"/>
<circle cx="474.4" cy="1759.9" r="5.0" fill="#5b5bf0"/>
<circle cx="481.4" cy="1779.8" r="5.0" fill="#5b5bf0"/>
<circle cx="468.4" cy="1789.3" r="5.0" fill="#5b5bf0"/>
<circle cx="501.6" cy="1764.6" r="5.0" fill="#5b5bf0"/>
<circle cx="508.6" cy="1767.0" r="5.0" fill="#5b5bf0"/>
<circle cx="514.6" cy="1770.2" r="5.0" fill="#5b5bf0"/>
<circle cx="501.6" cy="1784.5" r="5.0" fill="#5b5bf0"/>
<circle cx="508.6" cy="1779.8" r="5.0" fill="#5b5bf0"/>
<circle cx="514.6" cy="1781.3" r="5.0" fill="#5b5bf0"/>
<circle cx="534.2" cy="1759.9" r="5.0" fill="#5b5bf0"/>
<circle cx="541.2" cy="1765.4" r="5.0" fill="#5b5bf0"/>
<circle cx="541.2" cy="1790.1" r="5.0" fill="#5b5bf0"/>
<circle cx="541.2" cy="1811.6" r="5.0" fill="#5b5bf0"/>
<circle cx="534.2" cy="1829.1" r="5.0" fill="#5b5bf0"/>
<circle cx="548.2" cy="1828.3" r="5.0" fill="#5b5bf0"/>
<circle cx="567.8" cy="1802.0" r="5.0" fill="#5b5bf0"/>
<circle cx="574.8" cy="1796.5" r="5.0" fill="#5b5bf0"/>
<circle cx="574.8" cy="1810.8" r="5.0" fill="#5b5bf0"/>
<circle cx="574.8" cy="1826.7" r="5.0" fill="#5b5bf0"/>
<circle cx="581.8" cy="1826.7" r="5.0" fill="#5b5bf0"/>
<circle cx="574.8" cy="1842.6" r="5.0" fill="#5b5bf0"/>
<circle cx="602.4" cy="1880.0" r="5.0" fill="#5b5bf0"/>
<circle cx="608.4" cy="1867.3" r="5.0" fill="#5b5bf0"/>
<circle cx="614.4" cy="1864.1" r="5.0" fill="#5b5bf0"/>
<circle cx="608.4" cy="1888.7" r="5.0" fill="#5b5bf0"/>
<circle cx="614.4" cy="1881.6" r="5.0" fill="#5b5bf0"/>
<circle cx="608.4" cy="1902.3" r="5.0" fill="#5b5bf0"/>
<circle cx="618.4" cy="1903.1" r="5.0" fill="#5b5bf0"/>
<circle cx="635.0" cy="1902.3" r="5.0" fill="#5b5bf0"/>
<circle cx="642.0" cy="1887.1" r="5.0" fill="#5b5bf0"/>
<circle cx="642.0" cy="1893.5" r="5.0" fill="#5b5bf0"/>
<circle cx="648.0" cy="1896.7" r="5.0" fill="#5b5bf0"/>
<circle cx="637.0" cy="1898.3" r="5.0" fill="#5b5bf0"/>
<circle cx="644.0" cy="1899.1" r="5.0" fill="#5b5bf0"/>
<circle cx="786.7" cy="1742.0" r="5.0" fill="#a80f14"/>
<circle cx="778.7" cy="1755.8" r="5.0" fill="#a80f14"/>
<circle cx="785.7" cy="1757.4" r="5.0" fill="#a80f14"/>
<circle cx="792.7" cy="1756.9" r="5.0" fill="#a80f14"/>
<circle cx="782.7" cy="1766.9" r="5.0" fill="#a80f14"/>
<circle cx="786.7" cy="1761.6" r="5.0" fill="#a80f14"/>
<circle cx="811.7" cy="1778.1" r="5.0" fill="#a80f14"/>
<circle cx="825.7" cy="1780.7" r="5.0" fill="#a80f14"/>
<circle cx="811.7" cy="1790.8" r="5.0" fill="#a80f14"/>
<circle cx="818.7" cy="1793.5" r="5.0" fill="#a80f14"/>
<circle cx="825.7" cy="1797.7" r="5.0" fill="#a80f14"/>
<circle cx="811.7" cy="1799.3" r="5.0" fill="#a80f14"/>
<circle cx="852.7" cy="1794.5" r="5.0" fill="#a80f14"/>
<circle cx="846.7" cy="1804.6" r="5.0" fill="#a80f14"/>
<circle cx="858.7" cy="1804.6" r="5.0" fill="#a80f14"/>
<circle cx="852.7" cy="1808.9" r="5.0" fill="#a80f14"/>
<circle cx="846.7" cy="1814.7" r="5.0" fill="#a80f14"/>
<circle cx="858.7" cy="1814.7" r="5.0" fill="#a80f14"/>
<circle cx="878.8" cy="1842.9" r="5.0" fill="#a80f14"/>
<circle cx="890.8" cy="1842.9" r="5.0" fill="#a80f14"/>
<circle cx="884.8" cy="1849.8" r="5.0" fill="#a80f14"/>
<circle cx="878.8" cy="1863.6" r="5.0" fill="#a80f14"/>
<circle cx="890.8" cy="1859.3" r="5.0" fill="#a80f14"/>
<circle cx="884.8" cy="1856.7" r="5.0" fill="#a80f14"/>
<circle cx="910.8" cy="1863.6" r="5.0" fill="#a80f14"/>
<circle cx="923.8" cy="1863.6" r="5.0" fill="#a80f14"/>
<circle cx="917.8" cy="1867.8" r="5.0" fill="#a80f14"/>
<circle cx="917.8" cy="1872.0" r="5.0" fill="#a80f14"/>
<circle cx="916.8" cy="1880.5" r="5.0" fill="#a80f14"/>
<circle cx="924.8" cy="1864.6" r="5.0" fill="#a80f14"/>
<circle cx="945.8" cy="1863.6" r="5.0" fill="#a80f14"/>
<circle cx="952.8" cy="1860.9" r="5.0" fill="#a80f14"/>
<circle cx="958.8" cy="1864.6" r="5.0" fill="#a80f14"/>
<circle cx="951.8" cy="1871.0" r="5.0" fill="#a80f14"/>
<circle cx="952.8" cy="1883.2" r="5.0" fill="#a80f14"/>
<circle cx="947.8" cy="1864.6" r="5.0" fill="#a80f14"/>
<circle cx="1131.8" cy="1917.5" r="5.6" fill="#e95b8d"/>
<circle cx="1143.8" cy="1917.5" r="5.6" fill="#e95b8d"/>
<circle cx="1131.8" cy="1962.6" r="5.6" fill="#e95b8d"/>
<circle cx="1154.8" cy="1962.6" r="5.6" fill="#e95b8d"/>
<circle cx="1181.0" cy="1857.8" r="5.6" fill="#e95b8d"/>
<circle cx="1204.0" cy="1857.8" r="5.6" fill="#e95b8d"/>
<circle cx="1181.0" cy="1883.5" r="5.6" fill="#e95b8d"/>
<circle cx="1204.0" cy="1883.5" r="5.6" fill="#e95b8d"/>
<circle cx="1241.2" cy="1813.2" r="5.6" fill="#e95b8d"/>
<circle cx="1241.2" cy="1824.2" r="5.6" fill="#e95b8d"/>
<circle cx="1230.2" cy="1857.8" r="5.6" fill="#e95b8d"/>
<circle cx="1253.2" cy="1857.8" r="5.6" fill="#e95b8d"/>
<circle cx="1278.4" cy="1788.3" r="5.6" fill="#e95b8d"/>
<circle cx="1286.4" cy="1783.4" r="5.6" fill="#e95b8d"/>
<circle cx="1294.4" cy="1786.1" r="5.6" fill="#e95b8d"/>
<circle cx="1301.4" cy="1786.1" r="5.6" fill="#e95b8d"/>
<circle cx="1461.4" cy="1921.7" r="5.6" fill="#f47f12"/>
<circle cx="1449.4" cy="1934.6" r="5.6" fill="#f47f12"/>
<circle cx="1472.4" cy="1935.4" r="5.6" fill="#f47f12"/>
<circle cx="1461.4" cy="1956.2" r="5.6" fill="#f47f12"/>
<circle cx="1520.6" cy="1824.3" r="5.6" fill="#f47f12"/>
<circle cx="1509.6" cy="1837.5" r="5.6" fill="#f47f12"/>
<circle cx="1520.6" cy="1835.3" r="5.6" fill="#f47f12"/>
<circle cx="1509.6" cy="1872.0" r="5.6" fill="#f47f12"/>
<circle cx="1559.8" cy="1795.6" r="5.6" fill="#f47f12"/>
<circle cx="1570.8" cy="1790.5" r="5.6" fill="#f47f12"/>
<circle cx="1547.8" cy="1805.8" r="5.6" fill="#f47f12"/>
<circle cx="1570.8" cy="1805.8" r="5.6" fill="#f47f12"/>
<circle cx="1596.0" cy="1777.4" r="5.6" fill="#f47f12"/>
<circle cx="1604.0" cy="1777.4" r="5.6" fill="#f47f12"/>
<circle cx="1612.0" cy="1777.4" r="5.6" fill="#f47f12"/>
<circle cx="1620.0" cy="1777.4" r="5.6" fill="#f47f12"/>
<circle cx="1785.6" cy="1916.3" r="5.6" fill="#c8a013"/>
<circle cx="1773.6" cy="1923.6" r="5.6" fill="#c8a013"/>
<circle cx="1773.6" cy="1944.3" r="5.6" fill="#c8a013"/>
<circle cx="1773.6" cy="1967.3" r="5.6" fill="#c8a013"/>
<circle cx="1811.8" cy="1931.5" r="5.6" fill="#c8a013"/>
<circle cx="1834.8" cy="1931.5" r="5.6" fill="#c8a013"/>
<circle cx="1822.8" cy="1944.3" r="5.6" fill="#c8a013"/>
<circle cx="1822.8" cy="1955.5" r="5.6" fill="#c8a013"/>
<circle cx="1884.0" cy="1861.7" r="5.6" fill="#c8a013"/>
<circle cx="1872.0" cy="1871.4" r="5.6" fill="#c8a013"/>
<circle cx="1884.0" cy="1882.4" r="5.6" fill="#c8a013"/>
<circle cx="1861.0" cy="1887.4" r="5.6" fill="#c8a013"/>
<circle cx="1909.2" cy="1801.1" r="5.6" fill="#c8a013"/>
<circle cx="1916.2" cy="1791.4" r="5.6" fill="#c8a013"/>
<circle cx="1924.2" cy="1795.5" r="5.6" fill="#c8a013"/>
<circle cx="1932.2" cy="1793.6" r="5.6" fill="#c8a013"/>
<path d="M34.6 147.6 L45.9 144.7" fill="none" stroke="#404040" stroke-width="3.9" stroke-linejoin="round" stroke-linecap="round"/>
<path d="M47.6 135.5 L58.9 132.0 L66.7 140.7 L64.1 151.9 L52.8 151.1 L45.9 144.2 L47.6 135.5" fill="none" stroke="#404040" stroke-width="3.9" stroke-linejoin="round" stroke-linecap="round"/>
<path d="M52.8 151.1 L51.1 161.5 L60.6 167.2 L67.5 158.9 L64.1 151.9" fill="none" stroke="#404040" stroke-width="3.9" stroke-linejoin="round" stroke-linecap="round"/>
<path d="M67.5 158.9 L80.5 161.0" fill="none" stroke="#404040" stroke-width="3.9" stroke-linejoin="round" stroke-linecap="round"/>
<path d="M80.5 161.0 L87.4 152.8 L97.8 157.1 L96.1 167.5 L86.6 169.6 L80.5 161.0" fill="none" stroke="#404040" stroke-width="3.9" stroke-linejoin="round" stroke-linecap="round"/>
<path d="M96.1 167.5 L104.8 175.3" fill="none" stroke="#404040" stroke-width="3.9" stroke-linejoin="round" stroke-linecap="round"/>
<path d="M109.1 148.5 L115.2 140.7 L127.3 142.4 L129.9 151.9 L123.8 159.7 L113.4 158.0 L109.1 148.5" fill="none" stroke="#404040" stroke-width="3.9" stroke-linejoin="round" stroke-linecap="round"/>
<path d="M127.3 142.4 L134.2 135.5 L143.7 140.7 L142.0 151.1 L129.9 151.9" fill="none" stroke="#404040" stroke-width="3.9" stroke-linejoin="round" stroke-linecap="round"/>
<path d="M134.2 135.5 L134.2 123.4 L143.7 118.2 L153.2 125.1" fill="none" stroke="#404040" stroke-width="3.9" stroke-linejoin="round" stroke-linecap="round"/>
<path d="M96.1 204.8 L106.5 202.2 L115.2 209.1 L113.4 220.3 L103.0 222.9 L94.4 216.0 L96.1 204.8" fill="none" stroke="#404040" stroke-width="3.9" stroke-linejoin="round" stroke-linecap="round"/>
<path d="M96.1 204.8 L90.0 197.8 L79.7 200.4" fill="none" stroke="#404040" stroke-width="3.9" stroke-linejoin="round" stroke-linecap="round"/>
<path d="M90.0 197.8 L92.6 186.6" fill="none" stroke="#404040" stroke-width="3.9" stroke-linejoin="round" stroke-linecap="round"/>
<path d="M106.5 202.2 L109.1 192.6 L121.2 189.2 L122.9 178.3" fill="none" stroke="#404040" stroke-width="3.9" stroke-linejoin="round" stroke-linecap="round"/>
<path d="M121.2 189.2 L128.1 197.0" fill="none" stroke="#404040" stroke-width="3.9" stroke-linejoin="round" stroke-linecap="round"/>
<path d="M133.3 242.0 L142.9 236.8 L148.9 243.7 L145.5 253.2 L135.1 253.2 L133.3 242.0" fill="none" stroke="#404040" stroke-width="3.9" stroke-linejoin="round" stroke-linecap="round"/>
<path d="M135.1 253.2 L129.0 261.0 L133.3 271.4 L143.7 273.2 L150.6 263.6 L145.5 253.2" fill="none" stroke="#404040" stroke-width="3.9" stroke-linejoin="round" stroke-linecap="round"/>
<path d="M148.9 243.7 L161.0 240.3 L162.8 230.7 L155.8 223.8" fill="none" stroke="#404040" stroke-width="3.9" stroke-linejoin="round" stroke-linecap="round"/>
<path d="M72.7 286.1 L83.1 281.8 L90.9 287.0 L90.9 297.4 L82.3 302.6 L72.7 297.4 L72.7 286.1" fill="none" stroke="#404040" stroke-width="3.9" stroke-linejoin="round" stroke-linecap="round"/>
<path d="M90.9 287.0 L101.3 281.0 L101.3 271.4 L91.8 265.4" fill="none" stroke="#404040" stroke-width="3.9" stroke-linejoin="round" stroke-linecap="round"/>
<path d="M101.3 271.4 L111.7 267.1" fill="none" stroke="#404040" stroke-width="3.9" stroke-linejoin="round" stroke-linecap="round"/>
<path d="M90.9 297.4 L100.4 302.6 L110.0 297.4" fill="none" stroke="#404040" stroke-width="3.9" stroke-linejoin="round" stroke-linecap="round"/>
<path d="M100.4 302.6 L99.6 314.7" fill="none" stroke="#404040" stroke-width="3.9" stroke-linejoin="round" stroke-linecap="round"/>
<path d="M118.6 283.5 L127.3 288.7" fill="none" stroke="#404040" stroke-width="3.9" stroke-linejoin="round" stroke-linecap="round"/>
<path d="M127.3 288.7 L136.8 286.1 L144.6 294.8 L138.5 302.6 L129.0 300.9 L127.3 288.7" fill="none" stroke="#404040" stroke-width="3.9" stroke-linejoin="round" stroke-linecap="round"/>
<path d="M138.5 302.6 L142.9 315.6" fill="none" stroke="#404040" stroke-width="3.9" stroke-linejoin="round" stroke-linecap="round"/>
<path d="M142.9 315.6 L152.4 319.0 L153.2 328.6 L143.7 332.9 L136.8 325.1 L142.9 315.6" fill="none" stroke="#404040" stroke-width="3.9" stroke-linejoin="round" stroke-linecap="round"/>
<path d="M152.4 319.0 L161.9 313.0 L170.6 318.2 L170.6 328.6 L161.9 333.8 L153.2 328.6" fill="none" stroke="#404040" stroke-width="3.9" stroke-linejoin="round" stroke-linecap="round"/>
<path d="M161.9 333.8 L161.9 345.9" fill="none" stroke="#404040" stroke-width="3.9" stroke-linejoin="round" stroke-linecap="round"/>
<line x1="229.0" y1="215.5" x2="312.5" y2="181.5" stroke="#858585" stroke-width="4.5" stroke-linecap="butt"/>
<line x1="303.0" y1="157.0" x2="322.7" y2="203.0" stroke="#858585" stroke-width="4.5" stroke-linecap="butt"/>
<line x1="229.0" y1="290.0" x2="314.4" y2="322.0" stroke="#858585" stroke-width="4.5" stroke-linecap="butt"/>
<line x1="323.9" y1="301.0" x2="305.0" y2="345.5" stroke="#858585" stroke-width="4.5" stroke-linecap="butt"/>
<defs><radialGradient id="mA" cx="0.38" cy="0.34" r="0.7" fx="0.32" fy="0.28"><stop offset="0" stop-color="#fcfcfc"/><stop offset="0.45" stop-color="#e4e4e4"/><stop offset="1" stop-color="#a9a9a9"/></radialGradient><radialGradient id="mB" cx="0.38" cy="0.34" r="0.7" fx="0.32" fy="0.28"><stop offset="0" stop-color="#ececec"/><stop offset="0.45" stop-color="#c4c4c4"/><stop offset="1" stop-color="#868686"/></radialGradient><radialGradient id="mC" cx="0.38" cy="0.34" r="0.7" fx="0.32" fy="0.28"><stop offset="0" stop-color="#d8d8d8"/><stop offset="0.45" stop-color="#a8a8a8"/><stop offset="1" stop-color="#6c6c6c"/></radialGradient><radialGradient id="tA" cx="0.38" cy="0.34" r="0.7" fx="0.32" fy="0.28"><stop offset="0" stop-color="#fdebb8"/><stop offset="0.45" stop-color="#edc680"/><stop offset="1" stop-color="#c59a52"/></radialGradient><radialGradient id="tB" cx="0.38" cy="0.34" r="0.7" fx="0.32" fy="0.28"><stop offset="0" stop-color="#f6d894"/><stop offset="0.45" stop-color="#dcb36c"/><stop offset="1" stop-color="#a88040"/></radialGradient><radialGradient id="tC" cx="0.38" cy="0.34" r="0.7" fx="0.32" fy="0.28"><stop offset="0" stop-color="#d4b06c"/><stop offset="0.45" stop-color="#a88448"/><stop offset="1" stop-color="#745830"/></radialGradient><filter id="sblur" x="-20%" y="-20%" width="140%" height="140%"><feGaussianBlur stdDeviation="1.6"/></filter></defs>
<g><path d="M405.4 68.3 C405.8 65.5 406.4 60.4 409.0 57.0 C411.6 53.6 415.9 51.7 420.8 47.8 C425.7 43.9 434.7 36.3 438.3 33.4 C441.9 30.5 438.4 29.4 442.4 30.3 C446.3 31.2 456.5 36.5 462.0 38.5 C467.5 40.5 471.9 41.2 475.3 42.6 C478.7 44.0 480.4 46.5 482.5 46.7 C484.6 46.9 484.3 45.0 487.7 43.6 C491.1 42.2 497.1 40.8 503.1 38.5 C509.1 36.2 519.2 30.7 523.7 29.8 C528.2 28.9 526.4 31.8 529.8 33.4 C533.2 35.0 539.7 36.1 544.2 39.5 C548.7 42.9 553.3 49.4 556.6 53.9 C559.9 58.4 563.5 61.3 563.8 66.3 C564.1 71.3 559.6 79.1 558.6 83.7 C557.6 88.3 559.8 91.2 557.6 94.0 C555.4 96.8 547.5 97.5 545.3 100.2 C543.1 103.0 547.1 107.9 544.2 110.5 C541.3 113.1 530.9 112.5 527.8 115.6 C524.7 118.7 528.1 126.1 525.7 129.0 C523.3 131.9 516.0 129.0 513.4 133.1 C510.8 137.2 513.7 149.4 510.3 153.7 C506.9 158.0 498.3 158.3 492.8 158.8 C487.3 159.3 481.3 155.3 477.4 156.7 C473.5 158.1 471.8 166.7 469.2 167.0 C466.6 167.3 463.2 162.4 462.0 158.8 C460.8 155.2 463.4 149.7 462.0 145.4 C460.6 141.1 456.3 137.7 453.7 133.1 C451.1 128.5 451.3 121.1 446.5 117.7 C441.7 114.3 429.3 116.8 425.0 112.5 C420.7 108.2 422.7 96.5 420.8 92.0 C418.9 87.5 416.0 88.9 413.6 85.8 C411.2 82.7 407.9 76.4 406.5 73.5 C405.1 70.6 405.0 71.0 405.4 68.3 Z" fill="#b8b8b8" stroke="#fff" stroke-width="5"/><path d="M412 84 C430 80 455 86 472 85 C488 84 498 83 506 84 M457 90 C454 100 455 118 461 138" fill="none" stroke="#707070" stroke-width="6" stroke-linecap="round" filter="url(#sblur)"/>
<circle cx="433.5" cy="44.3" r="4.7" fill="url(#mB)"/>
<circle cx="451.2" cy="39.4" r="6.7" fill="url(#mB)"/>
<circle cx="443.4" cy="42.6" r="5.3" fill="url(#mB)"/>
<circle cx="440.7" cy="43.4" r="5.4" fill="url(#mB)"/>
<circle cx="434.0" cy="47.4" r="6.4" fill="url(#mB)"/>
<circle cx="450.4" cy="43.1" r="6.4" fill="url(#mB)"/>
<circle cx="446.7" cy="45.1" r="7.1" fill="url(#mB)"/>
<circle cx="435.9" cy="48.4" r="6.4" fill="url(#mB)"/>
<circle cx="417.8" cy="54.8" r="5.7" fill="url(#mB)"/>
<circle cx="433.2" cy="50.4" r="5.0" fill="url(#mB)"/>
<circle cx="430.3" cy="51.3" r="5.2" fill="url(#mB)"/>
<circle cx="433.9" cy="50.6" r="4.3" fill="url(#mB)"/>
<circle cx="422.6" cy="55.1" r="4.9" fill="url(#mB)"/>
<circle cx="443.0" cy="49.1" r="4.4" fill="url(#mB)"/>
<circle cx="428.7" cy="53.8" r="4.5" fill="url(#mB)"/>
<circle cx="431.2" cy="53.5" r="6.6" fill="url(#mB)"/>
<circle cx="441.3" cy="51.4" r="4.6" fill="url(#mB)"/>
<circle cx="417.5" cy="59.1" r="6.3" fill="url(#mB)"/>
<circle cx="417.9" cy="60.4" r="5.2" fill="url(#mB)"/>
<circle cx="418.3" cy="60.4" r="4.4" fill="url(#mB)"/>
<circle cx="411.6" cy="62.8" r="7.0" fill="url(#mB)"/>
<circle cx="449.7" cy="51.6" r="5.5" fill="url(#mB)"/>
<circle cx="440.9" cy="55.2" r="5.1" fill="url(#mB)"/>
<circle cx="434.6" cy="57.8" r="6.9" fill="url(#mB)"/>
<circle cx="466.7" cy="48.4" r="6.7" fill="url(#mB)"/>
<circle cx="413.9" cy="64.6" r="5.8" fill="url(#mB)"/>
<circle cx="470.6" cy="47.9" r="7.1" fill="url(#mB)"/>
<circle cx="440.0" cy="57.1" r="5.9" fill="url(#mB)"/>
<circle cx="474.7" cy="47.3" r="5.6" fill="url(#mB)"/>
<circle cx="448.6" cy="55.5" r="6.3" fill="url(#mB)"/>
<circle cx="436.5" cy="59.3" r="6.9" fill="url(#mB)"/>
<circle cx="445.1" cy="56.9" r="5.9" fill="url(#mB)"/>
<circle cx="470.1" cy="49.9" r="6.2" fill="url(#mB)"/>
<circle cx="454.0" cy="54.9" r="4.6" fill="url(#mB)"/>
<circle cx="456.9" cy="54.2" r="5.8" fill="url(#mB)"/>
<circle cx="472.0" cy="49.9" r="6.6" fill="url(#mB)"/>
<circle cx="416.7" cy="66.8" r="6.4" fill="url(#mB)"/>
<circle cx="434.6" cy="61.7" r="5.2" fill="url(#mB)"/>
<circle cx="472.3" cy="50.5" r="6.1" fill="url(#mB)"/>
<circle cx="479.5" cy="49.4" r="5.4" fill="url(#mB)"/>
<circle cx="514.9" cy="38.8" r="5.9" fill="url(#mA)"/>
<circle cx="444.3" cy="60.0" r="6.6" fill="url(#mB)"/>
<circle cx="489.1" cy="46.9" r="5.6" fill="url(#mA)"/>
<circle cx="435.5" cy="63.0" r="4.3" fill="url(#mB)"/>
<circle cx="520.5" cy="37.8" r="7.0" fill="url(#mA)"/>
<circle cx="506.8" cy="42.1" r="7.3" fill="url(#mA)"/>
<circle cx="432.6" cy="64.8" r="4.7" fill="url(#mB)"/>
<circle cx="519.5" cy="39.2" r="4.9" fill="url(#mA)"/>
<circle cx="519.9" cy="39.5" r="5.3" fill="url(#mA)"/>
<circle cx="513.1" cy="41.5" r="7.3" fill="url(#mA)"/>
<circle cx="526.7" cy="37.6" r="4.7" fill="url(#mA)"/>
<circle cx="448.8" cy="61.0" r="5.7" fill="url(#mB)"/>
<circle cx="507.1" cy="43.6" r="7.4" fill="url(#mA)"/>
<circle cx="501.0" cy="45.6" r="6.2" fill="url(#mA)"/>
<circle cx="466.8" cy="56.5" r="6.0" fill="url(#mB)"/>
<circle cx="494.3" cy="48.3" r="5.2" fill="url(#mA)"/>
<circle cx="496.0" cy="47.9" r="5.4" fill="url(#mA)"/>
<circle cx="500.7" cy="46.6" r="6.8" fill="url(#mA)"/>
<circle cx="480.7" cy="52.7" r="6.3" fill="url(#mB)"/>
<circle cx="508.5" cy="44.4" r="5.4" fill="url(#mA)"/>
<circle cx="502.0" cy="46.4" r="6.6" fill="url(#mA)"/>
<circle cx="418.3" cy="71.5" r="6.5" fill="url(#mB)"/>
<circle cx="439.2" cy="65.2" r="6.7" fill="url(#mB)"/>
<circle cx="480.1" cy="53.0" r="5.8" fill="url(#mB)"/>
<circle cx="441.8" cy="64.5" r="6.0" fill="url(#mB)"/>
<circle cx="485.2" cy="51.8" r="5.3" fill="url(#mA)"/>
<circle cx="469.6" cy="56.6" r="4.7" fill="url(#mB)"/>
<circle cx="490.1" cy="50.5" r="6.7" fill="url(#mA)"/>
<circle cx="507.4" cy="45.8" r="5.5" fill="url(#mA)"/>
<circle cx="488.7" cy="51.4" r="6.9" fill="url(#mA)"/>
<circle cx="495.0" cy="49.5" r="6.2" fill="url(#mA)"/>
<circle cx="489.2" cy="51.7" r="4.9" fill="url(#mA)"/>
<circle cx="439.1" cy="66.8" r="7.3" fill="url(#mB)"/>
<circle cx="479.1" cy="54.8" r="4.2" fill="url(#mB)"/>
<circle cx="518.9" cy="43.1" r="5.7" fill="url(#mA)"/>
<circle cx="424.2" cy="72.3" r="7.3" fill="url(#mB)"/>
<circle cx="437.8" cy="68.3" r="6.5" fill="url(#mB)"/>
<circle cx="492.4" cy="52.3" r="4.9" fill="url(#mA)"/>
<circle cx="451.8" cy="64.5" r="4.6" fill="url(#mB)"/>
<circle cx="497.8" cy="51.4" r="7.2" fill="url(#mA)"/>
<circle cx="424.1" cy="73.7" r="6.6" fill="url(#mB)"/>
<circle cx="477.6" cy="57.7" r="4.4" fill="url(#mB)"/>
<circle cx="419.2" cy="75.4" r="7.3" fill="url(#mB)"/>
<circle cx="524.7" cy="43.8" r="5.2" fill="url(#mA)"/>
<circle cx="424.5" cy="74.2" r="4.3" fill="url(#mB)"/>
<circle cx="518.4" cy="46.0" r="4.3" fill="url(#mA)"/>
<circle cx="457.0" cy="64.6" r="4.3" fill="url(#mB)"/>
<circle cx="535.6" cy="41.1" r="5.1" fill="url(#mA)"/>
<circle cx="531.0" cy="42.7" r="5.2" fill="url(#mA)"/>
<circle cx="502.3" cy="51.5" r="6.7" fill="url(#mA)"/>
<circle cx="480.3" cy="58.1" r="5.1" fill="url(#mB)"/>
<circle cx="484.4" cy="56.9" r="6.5" fill="url(#mA)"/>
<circle cx="441.2" cy="69.9" r="5.3" fill="url(#mB)"/>
<circle cx="495.6" cy="53.6" r="5.9" fill="url(#mA)"/>
<circle cx="494.5" cy="54.0" r="6.6" fill="url(#mA)"/>
<circle cx="424.4" cy="75.1" r="4.3" fill="url(#mB)"/>
<circle cx="467.8" cy="62.5" r="4.3" fill="url(#mB)"/>
<circle cx="521.2" cy="46.6" r="5.8" fill="url(#mA)"/>
<circle cx="533.0" cy="43.2" r="6.7" fill="url(#mA)"/>
<circle cx="525.5" cy="46.0" r="5.0" fill="url(#mA)"/>
<circle cx="463.3" cy="65.4" r="4.4" fill="url(#mB)"/>
<circle cx="481.8" cy="60.1" r="4.4" fill="url(#mB)"/>
<circle cx="482.9" cy="60.2" r="6.1" fill="url(#mA)"/>
<circle cx="477.5" cy="62.0" r="7.0" fill="url(#mB)"/>
<circle cx="419.4" cy="79.7" r="5.4" fill="url(#mB)"/>
<circle cx="462.3" cy="67.1" r="6.4" fill="url(#mB)"/>
<circle cx="481.6" cy="61.4" r="6.4" fill="url(#mB)"/>
<circle cx="530.9" cy="46.8" r="5.9" fill="url(#mA)"/>
<circle cx="540.2" cy="44.1" r="6.9" fill="url(#mA)"/>
<circle cx="496.2" cy="57.4" r="5.9" fill="url(#mA)"/>
<circle cx="532.3" cy="47.0" r="5.4" fill="url(#mA)"/>
<circle cx="518.3" cy="51.3" r="5.9" fill="url(#mA)"/>
<circle cx="483.2" cy="61.9" r="6.9" fill="url(#mA)"/>
<circle cx="498.2" cy="57.5" r="5.3" fill="url(#mA)"/>
<circle cx="472.6" cy="65.2" r="6.8" fill="url(#mB)"/>
<circle cx="431.4" cy="77.8" r="6.1" fill="url(#mB)"/>
<circle cx="457.5" cy="70.5" r="4.4" fill="url(#mB)"/>
<circle cx="434.7" cy="77.5" r="4.4" fill="url(#mB)"/>
<circle cx="463.3" cy="69.0" r="6.3" fill="url(#mB)"/>
<circle cx="530.2" cy="49.1" r="4.7" fill="url(#mA)"/>
<circle cx="463.9" cy="69.0" r="6.6" fill="url(#mB)"/>
<circle cx="504.7" cy="57.0" r="4.5" fill="url(#mA)"/>
<circle cx="465.5" cy="69.2" r="6.1" fill="url(#mB)"/>
<circle cx="454.7" cy="72.4" r="4.4" fill="url(#mB)"/>
<circle cx="434.5" cy="78.8" r="7.4" fill="url(#mB)"/>
<circle cx="490.0" cy="62.3" r="5.0" fill="url(#mA)"/>
<circle cx="439.5" cy="77.5" r="4.8" fill="url(#mB)"/>
<circle cx="517.2" cy="54.2" r="5.1" fill="url(#mA)"/>
<circle cx="517.6" cy="54.5" r="5.5" fill="url(#mA)"/>
<circle cx="518.5" cy="54.4" r="5.1" fill="url(#mA)"/>
<circle cx="514.0" cy="55.7" r="4.4" fill="url(#mA)"/>
<circle cx="542.8" cy="47.2" r="7.4" fill="url(#mA)"/>
<circle cx="531.6" cy="50.6" r="5.4" fill="url(#mA)"/>
<circle cx="452.8" cy="74.4" r="4.4" fill="url(#mB)"/>
<circle cx="508.6" cy="57.9" r="6.5" fill="url(#mA)"/>
<circle cx="459.2" cy="73.1" r="6.2" fill="url(#mB)"/>
<circle cx="498.8" cy="61.2" r="5.2" fill="url(#mA)"/>
<circle cx="528.9" cy="52.5" r="6.1" fill="url(#mA)"/>
<circle cx="507.4" cy="58.9" r="6.2" fill="url(#mA)"/>
<circle cx="488.2" cy="64.8" r="7.0" fill="url(#mA)"/>
<circle cx="513.8" cy="57.1" r="5.7" fill="url(#mA)"/>
<circle cx="512.8" cy="57.6" r="4.7" fill="url(#mA)"/>
<circle cx="482.2" cy="67.2" r="5.1" fill="url(#mA)"/>
<circle cx="546.0" cy="48.2" r="5.0" fill="url(#mA)"/>
<circle cx="497.4" cy="62.9" r="5.2" fill="url(#mA)"/>
<circle cx="517.9" cy="56.8" r="4.8" fill="url(#mA)"/>
<circle cx="509.3" cy="59.7" r="7.4" fill="url(#mA)"/>
<circle cx="470.5" cy="71.5" r="6.7" fill="url(#mB)"/>
<circle cx="532.1" cy="53.5" r="5.3" fill="url(#mA)"/>
<circle cx="524.7" cy="55.8" r="5.0" fill="url(#mA)"/>
<circle cx="466.1" cy="74.8" r="5.8" fill="url(#mB)"/>
<circle cx="511.4" cy="61.5" r="4.8" fill="url(#mA)"/>
<circle cx="458.5" cy="77.4" r="4.2" fill="url(#mB)"/>
<circle cx="463.1" cy="76.0" r="7.3" fill="url(#mB)"/>
<circle cx="492.7" cy="67.2" r="6.5" fill="url(#mA)"/>
<circle cx="477.2" cy="73.1" r="6.2" fill="url(#mB)"/>
<circle cx="488.8" cy="69.6" r="6.5" fill="url(#mA)"/>
<circle cx="515.9" cy="61.8" r="5.0" fill="url(#mA)"/>
<circle cx="479.0" cy="73.2" r="6.3" fill="url(#mB)"/>
<circle cx="494.2" cy="68.7" r="6.5" fill="url(#mA)"/>
<circle cx="480.9" cy="73.3" r="4.8" fill="url(#mB)"/>
<circle cx="542.7" cy="54.9" r="4.7" fill="url(#mA)"/>
<circle cx="485.7" cy="72.1" r="5.4" fill="url(#mA)"/>
<circle cx="490.9" cy="70.7" r="5.3" fill="url(#mA)"/>
<circle cx="497.2" cy="68.9" r="7.0" fill="url(#mA)"/>
<circle cx="483.6" cy="73.1" r="6.9" fill="url(#mA)"/>
<circle cx="537.7" cy="56.9" r="7.2" fill="url(#mA)"/>
<circle cx="463.3" cy="79.6" r="5.5" fill="url(#mB)"/>
<circle cx="495.4" cy="70.2" r="6.7" fill="url(#mA)"/>
<circle cx="521.7" cy="62.5" r="4.6" fill="url(#mA)"/>
<circle cx="536.3" cy="58.4" r="5.9" fill="url(#mA)"/>
<circle cx="437.8" cy="88.1" r="5.1" fill="url(#mB)"/>
<circle cx="436.8" cy="88.9" r="6.8" fill="url(#mB)"/>
<circle cx="499.9" cy="70.1" r="4.8" fill="url(#mA)"/>
<circle cx="533.0" cy="60.2" r="6.6" fill="url(#mA)"/>
<circle cx="517.0" cy="65.1" r="6.8" fill="url(#mA)"/>
<circle cx="542.1" cy="57.9" r="5.4" fill="url(#mA)"/>
<circle cx="503.0" cy="69.6" r="5.4" fill="url(#mA)"/>
<circle cx="428.3" cy="92.3" r="6.6" fill="url(#mB)"/>
<circle cx="494.1" cy="72.6" r="5.4" fill="url(#mA)"/>
<circle cx="523.3" cy="64.1" r="4.8" fill="url(#mA)"/>
<circle cx="526.3" cy="63.3" r="4.9" fill="url(#mA)"/>
<circle cx="432.2" cy="91.6" r="5.1" fill="url(#mB)"/>
<circle cx="522.9" cy="64.6" r="6.8" fill="url(#mA)"/>
<circle cx="520.5" cy="65.4" r="4.5" fill="url(#mA)"/>
<circle cx="530.8" cy="62.5" r="4.7" fill="url(#mA)"/>
<circle cx="518.7" cy="66.7" r="5.4" fill="url(#mA)"/>
<circle cx="520.5" cy="66.1" r="5.0" fill="url(#mA)"/>
<circle cx="434.1" cy="92.1" r="6.6" fill="url(#mB)"/>
<circle cx="488.7" cy="75.8" r="6.4" fill="url(#mA)"/>
<circle cx="497.8" cy="73.2" r="4.6" fill="url(#mA)"/>
<circle cx="476.4" cy="80.0" r="5.6" fill="url(#mB)"/>
<circle cx="442.7" cy="90.2" r="6.7" fill="url(#mB)"/>
<circle cx="515.3" cy="68.6" r="4.7" fill="url(#mA)"/>
<circle cx="474.6" cy="81.4" r="5.5" fill="url(#mB)"/>
<circle cx="528.2" cy="65.5" r="4.4" fill="url(#mA)"/>
<circle cx="527.4" cy="65.8" r="6.1" fill="url(#mA)"/>
<circle cx="477.3" cy="80.9" r="4.6" fill="url(#mB)"/>
<circle cx="504.2" cy="73.3" r="5.3" fill="url(#mA)"/>
<circle cx="442.4" cy="91.9" r="5.4" fill="url(#mB)"/>
<circle cx="551.0" cy="59.5" r="6.4" fill="url(#mA)"/>
<circle cx="509.7" cy="72.0" r="6.3" fill="url(#mA)"/>
<circle cx="514.0" cy="70.8" r="6.7" fill="url(#mA)"/>
<circle cx="551.6" cy="59.7" r="7.4" fill="url(#mA)"/>
<circle cx="519.2" cy="69.7" r="6.9" fill="url(#mA)"/>
<circle cx="439.4" cy="94.0" r="5.2" fill="url(#mB)"/>
<circle cx="495.1" cy="77.6" r="4.9" fill="url(#mA)"/>
<circle cx="443.7" cy="93.1" r="7.2" fill="url(#mB)"/>
<circle cx="550.1" cy="61.8" r="7.2" fill="url(#mA)"/>
<circle cx="547.1" cy="63.9" r="5.4" fill="url(#mA)"/>
<circle cx="517.5" cy="73.1" r="4.9" fill="url(#mA)"/>
<circle cx="548.4" cy="64.3" r="5.9" fill="url(#mA)"/>
<circle cx="520.4" cy="72.7" r="7.1" fill="url(#mA)"/>
<circle cx="524.5" cy="71.6" r="6.1" fill="url(#mA)"/>
<circle cx="448.0" cy="94.7" r="4.6" fill="url(#mB)"/>
<circle cx="524.8" cy="72.3" r="5.8" fill="url(#mA)"/>
<circle cx="520.5" cy="73.6" r="6.7" fill="url(#mA)"/>
<circle cx="553.3" cy="64.3" r="5.8" fill="url(#mA)"/>
<circle cx="506.5" cy="78.4" r="5.1" fill="url(#mA)"/>
<circle cx="434.7" cy="100.0" r="6.2" fill="url(#mB)"/>
<circle cx="443.3" cy="97.5" r="6.3" fill="url(#mB)"/>
<circle cx="465.2" cy="91.2" r="5.6" fill="url(#mA)"/>
<circle cx="532.7" cy="71.5" r="7.0" fill="url(#mA)"/>
<circle cx="534.5" cy="71.4" r="5.0" fill="url(#mA)"/>
<circle cx="544.9" cy="68.4" r="4.3" fill="url(#mA)"/>
<circle cx="434.6" cy="102.1" r="5.3" fill="url(#mB)"/>
<circle cx="526.5" cy="74.6" r="5.7" fill="url(#mA)"/>
<circle cx="467.8" cy="93.2" r="7.3" fill="url(#mA)"/>
<circle cx="541.2" cy="71.5" r="6.7" fill="url(#mA)"/>
<circle cx="478.9" cy="90.2" r="6.9" fill="url(#mA)"/>
<circle cx="528.0" cy="75.5" r="5.1" fill="url(#mA)"/>
<circle cx="514.6" cy="79.7" r="7.2" fill="url(#mA)"/>
<circle cx="449.4" cy="99.7" r="7.0" fill="url(#mB)"/>
<circle cx="484.0" cy="89.4" r="5.6" fill="url(#mA)"/>
<circle cx="464.5" cy="95.5" r="4.9" fill="url(#mA)"/>
<circle cx="529.3" cy="76.2" r="6.7" fill="url(#mA)"/>
<circle cx="488.6" cy="89.1" r="7.1" fill="url(#mA)"/>
<circle cx="522.0" cy="79.2" r="5.2" fill="url(#mA)"/>
<circle cx="537.1" cy="74.8" r="5.2" fill="url(#mA)"/>
<circle cx="433.5" cy="106.5" r="5.6" fill="url(#mB)"/>
<circle cx="544.9" cy="73.8" r="6.6" fill="url(#mA)"/>
<circle cx="514.6" cy="83.0" r="6.7" fill="url(#mA)"/>
<circle cx="548.4" cy="73.1" r="5.2" fill="url(#mA)"/>
<circle cx="471.5" cy="96.5" r="4.5" fill="url(#mA)"/>
<circle cx="548.8" cy="73.9" r="4.5" fill="url(#mA)"/>
<circle cx="546.6" cy="74.7" r="6.3" fill="url(#mA)"/>
<circle cx="522.2" cy="82.2" r="6.1" fill="url(#mA)"/>
<circle cx="538.1" cy="78.4" r="5.7" fill="url(#mA)"/>
<circle cx="477.6" cy="96.6" r="4.9" fill="url(#mA)"/>
<circle cx="449.6" cy="105.0" r="4.8" fill="url(#mB)"/>
<circle cx="491.0" cy="93.0" r="5.3" fill="url(#mA)"/>
<circle cx="510.8" cy="87.3" r="5.4" fill="url(#mA)"/>
<circle cx="538.8" cy="79.0" r="6.1" fill="url(#mA)"/>
<circle cx="483.0" cy="96.0" r="5.1" fill="url(#mA)"/>
<circle cx="494.8" cy="92.6" r="4.2" fill="url(#mA)"/>
<circle cx="461.0" cy="103.3" r="5.9" fill="url(#mA)"/>
<circle cx="447.2" cy="107.7" r="5.3" fill="url(#mB)"/>
<circle cx="473.0" cy="100.0" r="6.3" fill="url(#mA)"/>
<circle cx="444.1" cy="108.9" r="6.4" fill="url(#mB)"/>
<circle cx="511.3" cy="88.9" r="4.2" fill="url(#mA)"/>
<circle cx="505.1" cy="91.1" r="6.2" fill="url(#mA)"/>
<circle cx="552.9" cy="76.7" r="7.2" fill="url(#mA)"/>
<circle cx="526.2" cy="84.8" r="4.4" fill="url(#mA)"/>
<circle cx="477.8" cy="99.3" r="7.2" fill="url(#mA)"/>
<circle cx="459.6" cy="104.9" r="7.3" fill="url(#mA)"/>
<circle cx="531.6" cy="83.6" r="6.5" fill="url(#mA)"/>
<circle cx="550.3" cy="78.1" r="6.4" fill="url(#mA)"/>
<circle cx="488.2" cy="96.7" r="4.3" fill="url(#mA)"/>
<circle cx="479.2" cy="99.5" r="6.1" fill="url(#mA)"/>
<circle cx="491.3" cy="96.1" r="5.4" fill="url(#mA)"/>
<circle cx="472.0" cy="102.1" r="6.1" fill="url(#mA)"/>
<circle cx="538.9" cy="82.1" r="6.7" fill="url(#mA)"/>
<circle cx="522.1" cy="87.2" r="6.4" fill="url(#mA)"/>
<circle cx="460.4" cy="106.5" r="5.8" fill="url(#mA)"/>
<circle cx="471.1" cy="103.4" r="6.9" fill="url(#mA)"/>
<circle cx="441.8" cy="112.2" r="6.0" fill="url(#mB)"/>
<circle cx="475.2" cy="102.3" r="5.9" fill="url(#mA)"/>
<circle cx="518.9" cy="89.2" r="6.2" fill="url(#mA)"/>
<circle cx="510.3" cy="92.5" r="5.1" fill="url(#mA)"/>
<circle cx="511.2" cy="92.3" r="5.0" fill="url(#mA)"/>
<circle cx="553.8" cy="79.6" r="6.7" fill="url(#mA)"/>
<circle cx="505.7" cy="94.2" r="5.4" fill="url(#mA)"/>
<circle cx="484.2" cy="100.6" r="6.6" fill="url(#mA)"/>
<circle cx="489.0" cy="100.6" r="5.1" fill="url(#mA)"/>
<circle cx="465.1" cy="107.8" r="7.0" fill="url(#mA)"/>
<circle cx="449.5" cy="112.5" r="6.4" fill="url(#mB)"/>
<circle cx="541.6" cy="85.0" r="5.1" fill="url(#mA)"/>
<circle cx="462.8" cy="108.9" r="7.2" fill="url(#mA)"/>
<circle cx="506.2" cy="96.0" r="6.5" fill="url(#mA)"/>
<circle cx="472.9" cy="106.0" r="7.2" fill="url(#mA)"/>
<circle cx="540.8" cy="85.9" r="5.6" fill="url(#mA)"/>
<circle cx="503.9" cy="97.1" r="6.0" fill="url(#mA)"/>
<circle cx="483.6" cy="103.5" r="6.5" fill="url(#mA)"/>
<circle cx="461.9" cy="110.1" r="4.3" fill="url(#mA)"/>
<circle cx="537.2" cy="87.6" r="6.7" fill="url(#mA)"/>
<circle cx="529.2" cy="90.2" r="6.6" fill="url(#mA)"/>
<circle cx="476.9" cy="106.4" r="5.7" fill="url(#mA)"/>
<circle cx="477.1" cy="106.6" r="7.2" fill="url(#mA)"/>
<circle cx="487.1" cy="104.5" r="6.0" fill="url(#mA)"/>
<circle cx="488.9" cy="103.9" r="6.0" fill="url(#mA)"/>
<circle cx="482.5" cy="106.3" r="7.3" fill="url(#mA)"/>
<circle cx="489.0" cy="104.9" r="5.5" fill="url(#mA)"/>
<circle cx="522.9" cy="95.1" r="6.8" fill="url(#mA)"/>
<circle cx="449.7" cy="118.1" r="4.4" fill="url(#mA)"/>
<circle cx="503.8" cy="101.9" r="5.0" fill="url(#mA)"/>
<circle cx="485.4" cy="107.7" r="4.6" fill="url(#mA)"/>
<circle cx="461.7" cy="114.8" r="4.5" fill="url(#mA)"/>
<circle cx="506.6" cy="101.5" r="6.9" fill="url(#mA)"/>
<circle cx="551.3" cy="88.5" r="5.4" fill="url(#mA)"/>
<circle cx="524.1" cy="96.7" r="4.2" fill="url(#mA)"/>
<circle cx="486.9" cy="107.8" r="4.7" fill="url(#mA)"/>
<circle cx="476.2" cy="111.2" r="6.1" fill="url(#mA)"/>
<circle cx="495.4" cy="105.5" r="5.3" fill="url(#mA)"/>
<circle cx="469.8" cy="113.8" r="7.0" fill="url(#mA)"/>
<circle cx="494.2" cy="106.7" r="5.0" fill="url(#mA)"/>
<circle cx="501.9" cy="104.4" r="6.5" fill="url(#mA)"/>
<circle cx="482.5" cy="110.4" r="5.2" fill="url(#mA)"/>
<circle cx="515.4" cy="100.6" r="5.2" fill="url(#mA)"/>
<circle cx="483.9" cy="110.2" r="5.7" fill="url(#mA)"/>
<circle cx="539.4" cy="93.6" r="4.8" fill="url(#mA)"/>
<circle cx="483.0" cy="110.8" r="6.4" fill="url(#mA)"/>
<circle cx="515.5" cy="102.0" r="5.0" fill="url(#mA)"/>
<circle cx="504.4" cy="105.5" r="7.2" fill="url(#mA)"/>
<circle cx="545.8" cy="93.3" r="5.5" fill="url(#mA)"/>
<circle cx="472.8" cy="115.3" r="4.5" fill="url(#mA)"/>
<circle cx="532.0" cy="98.3" r="6.3" fill="url(#mA)"/>
<circle cx="471.8" cy="116.4" r="5.5" fill="url(#mA)"/>
<circle cx="479.7" cy="114.2" r="7.3" fill="url(#mA)"/>
<circle cx="510.9" cy="105.0" r="4.6" fill="url(#mA)"/>
<circle cx="485.1" cy="112.8" r="4.3" fill="url(#mA)"/>
<circle cx="463.8" cy="119.5" r="7.4" fill="url(#mA)"/>
<circle cx="477.2" cy="115.6" r="7.1" fill="url(#mA)"/>
<circle cx="505.3" cy="107.4" r="6.8" fill="url(#mA)"/>
<circle cx="512.5" cy="105.3" r="6.2" fill="url(#mA)"/>
<circle cx="527.5" cy="101.0" r="4.4" fill="url(#mA)"/>
<circle cx="515.3" cy="104.7" r="6.8" fill="url(#mA)"/>
<circle cx="484.2" cy="114.1" r="7.1" fill="url(#mA)"/>
<circle cx="494.9" cy="111.0" r="6.2" fill="url(#mA)"/>
<circle cx="531.8" cy="100.0" r="7.4" fill="url(#mA)"/>
<circle cx="526.1" cy="102.1" r="7.2" fill="url(#mA)"/>
<circle cx="464.4" cy="120.6" r="7.0" fill="url(#mA)"/>
<circle cx="538.6" cy="98.8" r="5.3" fill="url(#mA)"/>
<circle cx="516.5" cy="105.7" r="6.4" fill="url(#mA)"/>
<circle cx="509.9" cy="107.9" r="5.9" fill="url(#mA)"/>
<circle cx="501.9" cy="110.7" r="5.2" fill="url(#mA)"/>
<circle cx="467.5" cy="121.3" r="5.0" fill="url(#mA)"/>
<circle cx="523.1" cy="104.7" r="6.4" fill="url(#mA)"/>
<circle cx="462.4" cy="124.1" r="4.5" fill="url(#mA)"/>
<circle cx="530.6" cy="103.9" r="4.5" fill="url(#mA)"/>
<circle cx="492.2" cy="115.5" r="6.0" fill="url(#mA)"/>
<circle cx="517.6" cy="108.1" r="5.2" fill="url(#mA)"/>
<circle cx="527.5" cy="105.2" r="7.1" fill="url(#mA)"/>
<circle cx="531.7" cy="104.0" r="6.9" fill="url(#mA)"/>
<circle cx="487.6" cy="117.6" r="5.8" fill="url(#mA)"/>
<circle cx="518.6" cy="108.4" r="7.0" fill="url(#mA)"/>
<circle cx="514.9" cy="110.0" r="4.6" fill="url(#mA)"/>
<circle cx="502.5" cy="113.9" r="7.2" fill="url(#mA)"/>
<circle cx="521.1" cy="108.7" r="5.0" fill="url(#mA)"/>
<circle cx="496.4" cy="116.5" r="5.7" fill="url(#mA)"/>
<circle cx="493.3" cy="117.8" r="7.2" fill="url(#mA)"/>
<circle cx="474.0" cy="123.9" r="6.6" fill="url(#mA)"/>
<circle cx="493.5" cy="118.3" r="5.4" fill="url(#mA)"/>
<circle cx="468.9" cy="125.8" r="7.3" fill="url(#mA)"/>
<circle cx="532.3" cy="107.0" r="5.8" fill="url(#mA)"/>
<circle cx="524.6" cy="109.4" r="4.2" fill="url(#mA)"/>
<circle cx="465.1" cy="127.2" r="5.0" fill="url(#mA)"/>
<circle cx="509.0" cy="114.3" r="4.7" fill="url(#mA)"/>
<circle cx="469.1" cy="126.6" r="5.0" fill="url(#mA)"/>
<circle cx="490.1" cy="120.3" r="7.1" fill="url(#mA)"/>
<circle cx="506.6" cy="115.4" r="4.9" fill="url(#mA)"/>
<circle cx="509.5" cy="115.3" r="5.1" fill="url(#mA)"/>
<circle cx="536.6" cy="107.7" r="5.5" fill="url(#mA)"/>
<circle cx="505.4" cy="117.4" r="5.9" fill="url(#mA)"/>
<circle cx="523.1" cy="112.3" r="5.6" fill="url(#mA)"/>
<circle cx="517.4" cy="115.3" r="6.9" fill="url(#mA)"/>
<circle cx="466.9" cy="130.6" r="6.1" fill="url(#mA)"/>
<circle cx="467.9" cy="131.6" r="4.5" fill="url(#mA)"/>
<circle cx="487.2" cy="129.1" r="6.9" fill="url(#mA)"/>
<circle cx="508.3" cy="123.3" r="6.2" fill="url(#mA)"/>
<circle cx="478.5" cy="132.8" r="5.4" fill="url(#mA)"/>
<circle cx="515.5" cy="122.0" r="5.0" fill="url(#mA)"/>
<circle cx="520.3" cy="121.2" r="4.7" fill="url(#mA)"/>
<circle cx="519.9" cy="121.6" r="5.3" fill="url(#mA)"/>
<circle cx="491.9" cy="130.9" r="7.1" fill="url(#mA)"/>
<circle cx="508.4" cy="126.0" r="7.4" fill="url(#mA)"/>
<circle cx="476.9" cy="135.7" r="5.7" fill="url(#mA)"/>
<circle cx="508.0" cy="126.7" r="5.7" fill="url(#mA)"/>
<circle cx="482.9" cy="134.2" r="7.4" fill="url(#mA)"/>
<circle cx="485.5" cy="133.8" r="5.8" fill="url(#mA)"/>
<circle cx="496.2" cy="131.9" r="5.5" fill="url(#mA)"/>
<circle cx="518.8" cy="125.2" r="6.4" fill="url(#mA)"/>
<circle cx="488.0" cy="134.7" r="5.5" fill="url(#mA)"/>
<circle cx="481.3" cy="137.3" r="5.3" fill="url(#mA)"/>
<circle cx="474.8" cy="140.0" r="5.2" fill="url(#mA)"/>
<circle cx="497.3" cy="133.7" r="6.8" fill="url(#mA)"/>
<circle cx="492.6" cy="135.2" r="5.8" fill="url(#mA)"/>
<circle cx="486.1" cy="138.0" r="6.8" fill="url(#mA)"/>
<circle cx="474.1" cy="141.7" r="7.1" fill="url(#mA)"/>
<circle cx="472.7" cy="142.3" r="5.5" fill="url(#mA)"/>
<circle cx="502.7" cy="133.6" r="5.5" fill="url(#mA)"/>
<circle cx="493.3" cy="137.8" r="5.8" fill="url(#mA)"/>
<circle cx="504.2" cy="135.3" r="4.9" fill="url(#mA)"/>
<circle cx="468.8" cy="146.0" r="5.4" fill="url(#mA)"/>
<circle cx="475.6" cy="144.2" r="6.5" fill="url(#mA)"/>
<circle cx="475.2" cy="144.8" r="4.5" fill="url(#mA)"/>
<circle cx="505.1" cy="136.6" r="5.1" fill="url(#mA)"/>
<circle cx="492.2" cy="141.9" r="5.7" fill="url(#mA)"/>
<circle cx="484.0" cy="144.6" r="6.9" fill="url(#mA)"/>
<circle cx="485.5" cy="145.8" r="6.4" fill="url(#mA)"/>
<circle cx="496.3" cy="143.8" r="4.8" fill="url(#mA)"/>
<circle cx="467.2" cy="152.9" r="6.6" fill="url(#mA)"/>
<circle cx="494.0" cy="146.7" r="6.2" fill="url(#mA)"/>
<circle cx="490.4" cy="148.6" r="4.8" fill="url(#mA)"/>
<circle cx="471.4" cy="155.6" r="4.5" fill="url(#mA)"/>
<circle cx="484.7" cy="153.8" r="5.5" fill="url(#mA)"/>
<circle cx="495.2" cy="153.7" r="4.5" fill="url(#mA)"/>
<circle cx="497.7" cy="153.2" r="7.2" fill="url(#mA)"/>
<circle cx="495.0" cy="154.0" r="5.9" fill="url(#mA)"/>
<circle cx="469.8" cy="162.4" r="4.2" fill="url(#mA)"/>
<circle cx="497.9" cy="154.6" r="4.3" fill="url(#mA)"/>
</g>
<g><path d="M461.2 296.1 C463.4 293.7 467.2 295.1 472.0 294.3 C476.8 293.6 484.3 293.0 490.0 291.6 C495.7 290.2 501.7 285.6 506.2 286.2 C510.7 286.8 514.9 292.6 517.0 295.2 C519.1 297.8 519.8 300.0 518.9 301.5 C518.0 303.0 512.5 301.9 511.7 304.2 C510.9 306.4 512.9 310.2 514.4 315.0 C515.9 319.8 519.1 326.2 520.7 333.0 C522.4 339.8 522.9 348.8 524.3 355.5 C525.6 362.2 526.8 367.5 528.8 373.5 C530.8 379.5 535.0 385.6 536.0 391.6 C537.0 397.6 535.6 404.4 535.1 409.6 C534.6 414.9 535.5 420.6 533.3 423.1 C531.0 425.7 527.3 423.7 521.6 424.9 C515.9 426.1 505.0 429.1 499.0 430.3 C493.0 431.5 490.0 431.5 485.5 432.1 C481.0 432.7 475.8 432.7 472.0 433.9 C468.2 435.1 465.7 439.9 463.0 439.3 C460.3 438.7 459.1 433.8 455.8 430.3 C452.5 426.9 448.0 421.9 443.2 418.6 C438.4 415.3 431.4 413.9 427.0 410.5 C422.6 407.1 418.2 402.5 417.1 397.9 C416.1 393.2 420.2 387.1 420.7 382.6 C421.1 378.1 417.6 373.4 419.8 370.8 C422.1 368.2 430.3 368.6 434.2 367.2 C438.1 365.8 440.8 366.0 443.2 362.7 C445.6 359.4 446.5 351.4 448.6 347.4 C450.7 343.3 454.2 342.9 455.8 338.4 C457.4 333.9 458.1 325.3 458.5 320.4 C458.9 315.4 458.1 312.8 458.5 308.7 C458.9 304.6 458.9 298.5 461.2 296.1 Z" fill="#d9b26c" stroke="#fff" stroke-width="5"/><ellipse cx="478" cy="415" rx="34" ry="12" fill="#7a5e30" filter="url(#sblur)"/>
<circle cx="471.5" cy="297.5" r="5.5" fill="url(#tA)"/>
<circle cx="464.1" cy="301.1" r="4.3" fill="url(#tA)"/>
<circle cx="502.8" cy="290.4" r="4.7" fill="url(#tA)"/>
<circle cx="478.8" cy="298.8" r="6.4" fill="url(#tA)"/>
<circle cx="496.1" cy="293.9" r="5.6" fill="url(#tA)"/>
<circle cx="490.9" cy="295.5" r="6.8" fill="url(#tA)"/>
<circle cx="472.0" cy="301.3" r="7.1" fill="url(#tA)"/>
<circle cx="500.4" cy="293.6" r="4.9" fill="url(#tA)"/>
<circle cx="472.5" cy="301.9" r="6.8" fill="url(#tA)"/>
<circle cx="473.8" cy="301.6" r="4.9" fill="url(#tA)"/>
<circle cx="463.1" cy="306.4" r="6.8" fill="url(#tA)"/>
<circle cx="498.4" cy="297.0" r="7.1" fill="url(#tA)"/>
<circle cx="467.8" cy="306.4" r="5.7" fill="url(#tA)"/>
<circle cx="503.8" cy="295.6" r="5.8" fill="url(#tA)"/>
<circle cx="502.8" cy="296.8" r="6.4" fill="url(#tA)"/>
<circle cx="502.2" cy="297.2" r="6.8" fill="url(#tA)"/>
<circle cx="499.2" cy="298.3" r="4.8" fill="url(#tA)"/>
<circle cx="465.1" cy="308.6" r="5.5" fill="url(#tA)"/>
<circle cx="490.3" cy="302.3" r="6.8" fill="url(#tA)"/>
<circle cx="485.6" cy="303.8" r="4.6" fill="url(#tA)"/>
<circle cx="498.4" cy="300.4" r="4.4" fill="url(#tA)"/>
<circle cx="500.6" cy="300.0" r="4.6" fill="url(#tA)"/>
<circle cx="466.7" cy="310.2" r="4.3" fill="url(#tA)"/>
<circle cx="487.1" cy="304.2" r="6.7" fill="url(#tA)"/>
<circle cx="505.4" cy="299.0" r="5.6" fill="url(#tA)"/>
<circle cx="491.4" cy="303.2" r="7.2" fill="url(#tA)"/>
<circle cx="513.6" cy="296.7" r="5.0" fill="url(#tA)"/>
<circle cx="474.8" cy="309.1" r="6.5" fill="url(#tA)"/>
<circle cx="480.0" cy="307.6" r="4.4" fill="url(#tA)"/>
<circle cx="472.5" cy="310.0" r="4.9" fill="url(#tA)"/>
<circle cx="471.4" cy="311.0" r="5.3" fill="url(#tA)"/>
<circle cx="463.5" cy="313.5" r="6.4" fill="url(#tA)"/>
<circle cx="490.5" cy="305.6" r="4.2" fill="url(#tA)"/>
<circle cx="503.8" cy="301.9" r="7.6" fill="url(#tA)"/>
<circle cx="488.3" cy="307.1" r="5.0" fill="url(#tA)"/>
<circle cx="496.3" cy="305.1" r="4.8" fill="url(#tA)"/>
<circle cx="468.0" cy="316.0" r="4.9" fill="url(#tA)"/>
<circle cx="480.2" cy="312.4" r="6.6" fill="url(#tA)"/>
<circle cx="489.8" cy="311.1" r="7.4" fill="url(#tA)"/>
<circle cx="468.0" cy="318.2" r="5.9" fill="url(#tA)"/>
<circle cx="466.6" cy="320.8" r="4.3" fill="url(#tA)"/>
<circle cx="488.8" cy="314.4" r="4.8" fill="url(#tA)"/>
<circle cx="465.4" cy="322.5" r="6.2" fill="url(#tA)"/>
<circle cx="503.8" cy="311.2" r="4.9" fill="url(#tA)"/>
<circle cx="473.2" cy="320.8" r="4.4" fill="url(#tA)"/>
<circle cx="484.4" cy="317.9" r="5.7" fill="url(#tA)"/>
<circle cx="503.9" cy="312.5" r="6.9" fill="url(#tA)"/>
<circle cx="464.9" cy="325.3" r="6.3" fill="url(#tA)"/>
<circle cx="489.7" cy="318.2" r="6.0" fill="url(#tA)"/>
<circle cx="472.9" cy="324.0" r="6.0" fill="url(#tA)"/>
<circle cx="469.7" cy="325.6" r="5.8" fill="url(#tA)"/>
<circle cx="465.3" cy="328.8" r="5.6" fill="url(#tA)"/>
<circle cx="499.0" cy="319.4" r="5.6" fill="url(#tA)"/>
<circle cx="462.5" cy="330.7" r="5.9" fill="url(#tA)"/>
<circle cx="485.7" cy="323.8" r="4.4" fill="url(#tA)"/>
<circle cx="498.1" cy="320.4" r="4.6" fill="url(#tA)"/>
<circle cx="486.1" cy="324.8" r="5.4" fill="url(#tA)"/>
<circle cx="500.8" cy="321.5" r="6.3" fill="url(#tA)"/>
<circle cx="495.5" cy="323.5" r="5.9" fill="url(#tA)"/>
<circle cx="475.6" cy="330.0" r="5.8" fill="url(#tA)"/>
<circle cx="468.8" cy="333.1" r="6.7" fill="url(#tA)"/>
<circle cx="463.8" cy="334.8" r="6.4" fill="url(#tA)"/>
<circle cx="476.4" cy="331.3" r="4.3" fill="url(#tA)"/>
<circle cx="467.1" cy="334.3" r="6.8" fill="url(#tA)"/>
<circle cx="466.5" cy="335.1" r="7.5" fill="url(#tA)"/>
<circle cx="485.3" cy="329.4" r="4.3" fill="url(#tA)"/>
<circle cx="471.0" cy="333.7" r="7.4" fill="url(#tA)"/>
<circle cx="486.6" cy="329.3" r="6.7" fill="url(#tA)"/>
<circle cx="473.6" cy="333.3" r="6.8" fill="url(#tA)"/>
<circle cx="484.3" cy="330.6" r="4.6" fill="url(#tA)"/>
<circle cx="498.0" cy="326.9" r="6.7" fill="url(#tA)"/>
<circle cx="465.7" cy="336.6" r="4.5" fill="url(#tA)"/>
<circle cx="485.8" cy="330.8" r="6.6" fill="url(#tA)"/>
<circle cx="458.4" cy="339.0" r="4.8" fill="url(#tA)"/>
<circle cx="486.1" cy="332.5" r="5.0" fill="url(#tA)"/>
<circle cx="493.7" cy="330.2" r="7.2" fill="url(#tA)"/>
<circle cx="481.9" cy="334.0" r="5.3" fill="url(#tA)"/>
<circle cx="473.8" cy="336.5" r="5.1" fill="url(#tA)"/>
<circle cx="497.5" cy="329.9" r="4.4" fill="url(#tA)"/>
<circle cx="496.6" cy="330.8" r="6.5" fill="url(#tA)"/>
<circle cx="476.5" cy="338.0" r="4.5" fill="url(#tA)"/>
<circle cx="480.5" cy="337.7" r="5.2" fill="url(#tA)"/>
<circle cx="476.8" cy="339.3" r="5.9" fill="url(#tA)"/>
<circle cx="481.9" cy="338.2" r="6.2" fill="url(#tA)"/>
<circle cx="458.6" cy="345.3" r="4.7" fill="url(#tA)"/>
<circle cx="457.4" cy="345.9" r="4.6" fill="url(#tA)"/>
<circle cx="509.7" cy="333.1" r="5.4" fill="url(#tA)"/>
<circle cx="484.0" cy="340.9" r="6.8" fill="url(#tA)"/>
<circle cx="479.1" cy="342.3" r="4.7" fill="url(#tA)"/>
<circle cx="498.8" cy="336.5" r="5.1" fill="url(#tA)"/>
<circle cx="471.6" cy="344.8" r="6.0" fill="url(#tA)"/>
<circle cx="504.7" cy="335.5" r="5.1" fill="url(#tA)"/>
<circle cx="481.7" cy="343.6" r="4.6" fill="url(#tA)"/>
<circle cx="493.1" cy="341.1" r="5.2" fill="url(#tA)"/>
<circle cx="507.0" cy="337.3" r="6.8" fill="url(#tA)"/>
<circle cx="480.0" cy="345.7" r="7.3" fill="url(#tA)"/>
<circle cx="488.1" cy="343.5" r="6.5" fill="url(#tA)"/>
<circle cx="470.7" cy="348.8" r="4.3" fill="url(#tA)"/>
<circle cx="508.0" cy="337.7" r="6.2" fill="url(#tA)"/>
<circle cx="508.6" cy="337.7" r="4.6" fill="url(#tA)"/>
<circle cx="461.8" cy="352.3" r="5.0" fill="url(#tA)"/>
<circle cx="505.3" cy="339.3" r="5.8" fill="url(#tA)"/>
<circle cx="459.7" cy="353.0" r="6.5" fill="url(#tA)"/>
<circle cx="504.0" cy="339.7" r="4.6" fill="url(#tA)"/>
<circle cx="481.8" cy="346.4" r="4.2" fill="url(#tA)"/>
<circle cx="516.3" cy="336.1" r="7.3" fill="url(#tA)"/>
<circle cx="453.7" cy="354.9" r="7.0" fill="url(#tA)"/>
<circle cx="466.7" cy="351.3" r="6.0" fill="url(#tA)"/>
<circle cx="493.6" cy="343.6" r="5.5" fill="url(#tA)"/>
<circle cx="449.3" cy="358.1" r="5.2" fill="url(#tA)"/>
<circle cx="476.1" cy="350.8" r="5.8" fill="url(#tA)"/>
<circle cx="454.2" cy="357.9" r="5.2" fill="url(#tA)"/>
<circle cx="471.9" cy="352.7" r="5.7" fill="url(#tA)"/>
<circle cx="515.6" cy="339.8" r="7.1" fill="url(#tA)"/>
<circle cx="490.6" cy="347.6" r="4.7" fill="url(#tA)"/>
<circle cx="498.2" cy="345.4" r="4.3" fill="url(#tA)"/>
<circle cx="461.6" cy="356.4" r="6.5" fill="url(#tA)"/>
<circle cx="506.7" cy="343.3" r="6.8" fill="url(#tA)"/>
<circle cx="512.1" cy="341.7" r="6.2" fill="url(#tA)"/>
<circle cx="510.8" cy="342.3" r="6.2" fill="url(#tA)"/>
<circle cx="447.7" cy="361.8" r="4.4" fill="url(#tA)"/>
<circle cx="491.8" cy="348.7" r="5.1" fill="url(#tA)"/>
<circle cx="454.6" cy="359.9" r="6.6" fill="url(#tA)"/>
<circle cx="489.7" cy="349.6" r="4.7" fill="url(#tA)"/>
<circle cx="468.1" cy="357.5" r="4.5" fill="url(#tA)"/>
<circle cx="513.7" cy="344.7" r="4.6" fill="url(#tA)"/>
<circle cx="455.0" cy="362.7" r="4.3" fill="url(#tA)"/>
<circle cx="469.7" cy="358.4" r="4.5" fill="url(#tA)"/>
<circle cx="493.9" cy="352.1" r="7.5" fill="url(#tA)"/>
<circle cx="497.9" cy="351.4" r="7.2" fill="url(#tA)"/>
<circle cx="480.1" cy="357.3" r="5.4" fill="url(#tA)"/>
<circle cx="478.1" cy="358.1" r="5.7" fill="url(#tA)"/>
<circle cx="429.9" cy="372.8" r="6.3" fill="url(#tA)"/>
<circle cx="499.7" cy="352.5" r="5.2" fill="url(#tA)"/>
<circle cx="508.8" cy="350.3" r="5.9" fill="url(#tA)"/>
<circle cx="480.7" cy="359.5" r="4.6" fill="url(#tA)"/>
<circle cx="510.0" cy="350.8" r="7.5" fill="url(#tA)"/>
<circle cx="498.8" cy="354.7" r="6.1" fill="url(#tA)"/>
<circle cx="459.3" cy="366.5" r="6.8" fill="url(#tA)"/>
<circle cx="475.8" cy="361.8" r="6.4" fill="url(#tA)"/>
<circle cx="509.6" cy="351.7" r="6.2" fill="url(#tA)"/>
<circle cx="513.9" cy="350.4" r="4.4" fill="url(#tA)"/>
<circle cx="448.4" cy="370.7" r="5.1" fill="url(#tA)"/>
<circle cx="449.5" cy="370.5" r="7.5" fill="url(#tA)"/>
<circle cx="509.7" cy="352.8" r="6.2" fill="url(#tA)"/>
<circle cx="461.1" cy="367.4" r="6.6" fill="url(#tA)"/>
<circle cx="490.2" cy="359.1" r="6.7" fill="url(#tA)"/>
<circle cx="452.7" cy="370.7" r="7.0" fill="url(#tA)"/>
<circle cx="431.9" cy="377.1" r="5.0" fill="url(#tA)"/>
<circle cx="445.7" cy="373.3" r="5.1" fill="url(#tA)"/>
<circle cx="464.9" cy="367.5" r="4.5" fill="url(#tA)"/>
<circle cx="503.6" cy="356.3" r="5.1" fill="url(#tA)"/>
<circle cx="428.4" cy="378.9" r="5.4" fill="url(#tA)"/>
<circle cx="434.0" cy="377.4" r="6.1" fill="url(#tA)"/>
<circle cx="488.5" cy="361.2" r="7.4" fill="url(#tA)"/>
<circle cx="493.1" cy="361.0" r="7.2" fill="url(#tA)"/>
<circle cx="486.2" cy="363.3" r="7.3" fill="url(#tA)"/>
<circle cx="488.9" cy="362.7" r="6.4" fill="url(#tA)"/>
<circle cx="495.1" cy="361.3" r="7.0" fill="url(#tA)"/>
<circle cx="502.8" cy="359.3" r="6.0" fill="url(#tA)"/>
<circle cx="515.3" cy="356.0" r="5.6" fill="url(#tA)"/>
<circle cx="503.8" cy="359.5" r="5.2" fill="url(#tA)"/>
<circle cx="431.6" cy="381.4" r="5.7" fill="url(#tA)"/>
<circle cx="475.8" cy="368.3" r="7.3" fill="url(#tA)"/>
<circle cx="472.5" cy="369.7" r="4.5" fill="url(#tA)"/>
<circle cx="433.7" cy="381.9" r="5.4" fill="url(#tA)"/>
<circle cx="474.0" cy="370.3" r="5.9" fill="url(#tA)"/>
<circle cx="433.8" cy="382.6" r="7.2" fill="url(#tA)"/>
<circle cx="512.6" cy="359.2" r="6.0" fill="url(#tA)"/>
<circle cx="470.1" cy="372.0" r="4.9" fill="url(#tA)"/>
<circle cx="435.1" cy="382.9" r="5.9" fill="url(#tA)"/>
<circle cx="499.6" cy="364.3" r="7.1" fill="url(#tA)"/>
<circle cx="473.1" cy="372.2" r="6.4" fill="url(#tA)"/>
<circle cx="437.0" cy="383.1" r="6.8" fill="url(#tA)"/>
<circle cx="504.1" cy="363.5" r="6.6" fill="url(#tA)"/>
<circle cx="452.0" cy="379.3" r="5.8" fill="url(#tA)"/>
<circle cx="453.1" cy="379.2" r="5.9" fill="url(#tA)"/>
<circle cx="497.9" cy="366.2" r="5.2" fill="url(#tA)"/>
<circle cx="461.4" cy="377.6" r="6.8" fill="url(#tA)"/>
<circle cx="516.0" cy="361.2" r="4.3" fill="url(#tA)"/>
<circle cx="448.9" cy="381.5" r="7.3" fill="url(#tA)"/>
<circle cx="474.9" cy="373.7" r="5.5" fill="url(#tA)"/>
<circle cx="521.4" cy="359.8" r="5.3" fill="url(#tA)"/>
<circle cx="427.2" cy="388.5" r="4.5" fill="url(#tA)"/>
<circle cx="425.6" cy="389.4" r="5.0" fill="url(#tA)"/>
<circle cx="494.6" cy="368.8" r="6.9" fill="url(#tA)"/>
<circle cx="506.3" cy="365.4" r="4.7" fill="url(#tA)"/>
<circle cx="507.3" cy="365.2" r="7.3" fill="url(#tA)"/>
<circle cx="473.9" cy="375.3" r="7.5" fill="url(#tA)"/>
<circle cx="452.0" cy="382.5" r="5.8" fill="url(#tA)"/>
<circle cx="462.3" cy="379.9" r="6.2" fill="url(#tA)"/>
<circle cx="487.6" cy="374.0" r="6.7" fill="url(#tA)"/>
<circle cx="523.7" cy="363.7" r="4.6" fill="url(#tA)"/>
<circle cx="469.1" cy="380.1" r="5.7" fill="url(#tA)"/>
<circle cx="443.2" cy="388.0" r="6.2" fill="url(#tA)"/>
<circle cx="442.7" cy="388.5" r="6.6" fill="url(#tA)"/>
<circle cx="463.3" cy="382.5" r="5.0" fill="url(#tA)"/>
<circle cx="467.7" cy="381.4" r="6.4" fill="url(#tA)"/>
<circle cx="445.4" cy="388.2" r="4.4" fill="url(#tA)"/>
<circle cx="506.1" cy="370.0" r="6.2" fill="url(#tA)"/>
<circle cx="450.9" cy="386.7" r="4.3" fill="url(#tA)"/>
<circle cx="470.2" cy="381.1" r="7.1" fill="url(#tA)"/>
<circle cx="496.5" cy="373.2" r="7.2" fill="url(#tA)"/>
<circle cx="458.5" cy="384.8" r="6.7" fill="url(#tA)"/>
<circle cx="445.7" cy="389.1" r="7.4" fill="url(#tA)"/>
<circle cx="446.9" cy="389.0" r="5.8" fill="url(#tA)"/>
<circle cx="488.8" cy="376.6" r="4.8" fill="url(#tA)"/>
<circle cx="424.8" cy="396.0" r="5.6" fill="url(#tA)"/>
<circle cx="423.3" cy="396.5" r="4.6" fill="url(#tA)"/>
<circle cx="486.3" cy="377.9" r="7.5" fill="url(#tA)"/>
<circle cx="462.9" cy="384.9" r="5.0" fill="url(#tA)"/>
<circle cx="507.9" cy="371.5" r="4.3" fill="url(#tA)"/>
<circle cx="482.3" cy="379.2" r="7.3" fill="url(#tA)"/>
<circle cx="483.7" cy="378.9" r="6.4" fill="url(#tA)"/>
<circle cx="436.5" cy="393.2" r="4.6" fill="url(#tA)"/>
<circle cx="453.9" cy="390.0" r="4.6" fill="url(#tA)"/>
<circle cx="444.3" cy="392.9" r="7.1" fill="url(#tA)"/>
<circle cx="507.4" cy="374.2" r="5.7" fill="url(#tA)"/>
<circle cx="423.3" cy="399.5" r="6.1" fill="url(#tB)"/>
<circle cx="428.3" cy="398.0" r="5.6" fill="url(#tB)"/>
<circle cx="522.7" cy="369.7" r="4.2" fill="url(#tA)"/>
<circle cx="469.5" cy="385.7" r="4.9" fill="url(#tA)"/>
<circle cx="493.8" cy="378.7" r="6.7" fill="url(#tA)"/>
<circle cx="489.8" cy="379.9" r="5.0" fill="url(#tA)"/>
<circle cx="438.4" cy="395.4" r="6.4" fill="url(#tA)"/>
<circle cx="471.8" cy="385.5" r="7.2" fill="url(#tA)"/>
<circle cx="466.6" cy="387.2" r="6.4" fill="url(#tA)"/>
<circle cx="490.4" cy="380.2" r="6.5" fill="url(#tA)"/>
<circle cx="455.6" cy="390.8" r="7.1" fill="url(#tA)"/>
<circle cx="470.6" cy="386.5" r="7.3" fill="url(#tA)"/>
<circle cx="438.0" cy="396.4" r="5.9" fill="url(#tA)"/>
<circle cx="456.4" cy="391.0" r="5.5" fill="url(#tA)"/>
<circle cx="456.1" cy="391.2" r="5.7" fill="url(#tA)"/>
<circle cx="505.7" cy="376.7" r="4.3" fill="url(#tA)"/>
<circle cx="505.6" cy="376.9" r="5.3" fill="url(#tA)"/>
<circle cx="517.7" cy="373.4" r="5.7" fill="url(#tA)"/>
<circle cx="495.2" cy="380.4" r="5.6" fill="url(#tA)"/>
<circle cx="511.1" cy="376.3" r="7.5" fill="url(#tA)"/>
<circle cx="429.9" cy="400.8" r="6.9" fill="url(#tB)"/>
<circle cx="425.7" cy="402.5" r="6.7" fill="url(#tB)"/>
<circle cx="430.0" cy="401.9" r="7.3" fill="url(#tB)"/>
<circle cx="444.3" cy="398.1" r="5.7" fill="url(#tA)"/>
<circle cx="488.6" cy="384.9" r="4.7" fill="url(#tA)"/>
<circle cx="487.8" cy="385.2" r="6.5" fill="url(#tA)"/>
<circle cx="440.4" cy="399.4" r="6.8" fill="url(#tA)"/>
<circle cx="499.7" cy="381.9" r="4.3" fill="url(#tA)"/>
<circle cx="431.2" cy="402.6" r="5.2" fill="url(#tB)"/>
<circle cx="516.6" cy="377.1" r="4.9" fill="url(#tA)"/>
<circle cx="460.3" cy="394.1" r="5.2" fill="url(#tA)"/>
<circle cx="470.0" cy="391.2" r="4.4" fill="url(#tA)"/>
<circle cx="498.7" cy="382.8" r="4.3" fill="url(#tA)"/>
<circle cx="480.3" cy="388.4" r="6.4" fill="url(#tA)"/>
<circle cx="483.1" cy="387.6" r="5.6" fill="url(#tA)"/>
<circle cx="427.5" cy="404.5" r="7.0" fill="url(#tB)"/>
<circle cx="475.1" cy="390.4" r="5.8" fill="url(#tA)"/>
<circle cx="479.4" cy="389.3" r="6.5" fill="url(#tA)"/>
<circle cx="496.1" cy="384.5" r="7.6" fill="url(#tA)"/>
<circle cx="501.3" cy="383.0" r="5.8" fill="url(#tA)"/>
<circle cx="452.8" cy="397.8" r="5.5" fill="url(#tA)"/>
<circle cx="486.2" cy="388.1" r="5.6" fill="url(#tA)"/>
<circle cx="473.8" cy="392.1" r="6.6" fill="url(#tA)"/>
<circle cx="524.7" cy="377.0" r="4.9" fill="url(#tA)"/>
<circle cx="483.6" cy="389.6" r="5.3" fill="url(#tA)"/>
<circle cx="450.9" cy="400.1" r="5.1" fill="url(#tA)"/>
<circle cx="473.7" cy="393.9" r="5.6" fill="url(#tA)"/>
<circle cx="517.2" cy="381.0" r="7.1" fill="url(#tA)"/>
<circle cx="474.3" cy="394.3" r="4.2" fill="url(#tA)"/>
<circle cx="434.2" cy="406.4" r="4.6" fill="url(#tB)"/>
<circle cx="459.2" cy="399.1" r="7.3" fill="url(#tA)"/>
<circle cx="526.3" cy="379.3" r="6.0" fill="url(#tA)"/>
<circle cx="499.7" cy="387.9" r="6.8" fill="url(#tA)"/>
<circle cx="499.5" cy="388.8" r="6.0" fill="url(#tA)"/>
<circle cx="513.8" cy="384.5" r="5.5" fill="url(#tA)"/>
<circle cx="436.1" cy="408.2" r="4.7" fill="url(#tB)"/>
<circle cx="514.2" cy="385.3" r="6.9" fill="url(#tA)"/>
<circle cx="470.1" cy="398.6" r="4.3" fill="url(#tA)"/>
<circle cx="527.7" cy="381.4" r="6.2" fill="url(#tA)"/>
<circle cx="515.9" cy="385.4" r="6.9" fill="url(#tA)"/>
<circle cx="490.3" cy="393.2" r="7.5" fill="url(#tA)"/>
<circle cx="487.5" cy="394.1" r="6.7" fill="url(#tA)"/>
<circle cx="518.2" cy="385.0" r="7.4" fill="url(#tA)"/>
<circle cx="482.9" cy="395.7" r="5.5" fill="url(#tA)"/>
<circle cx="449.5" cy="405.9" r="7.1" fill="url(#tC)"/>
<circle cx="514.2" cy="386.6" r="7.4" fill="url(#tA)"/>
<circle cx="450.3" cy="405.8" r="5.9" fill="url(#tC)"/>
<circle cx="461.3" cy="402.6" r="6.2" fill="url(#tA)"/>
<circle cx="449.9" cy="406.2" r="6.7" fill="url(#tB)"/>
<circle cx="526.0" cy="383.6" r="4.3" fill="url(#tA)"/>
<circle cx="451.9" cy="405.9" r="7.0" fill="url(#tC)"/>
<circle cx="489.6" cy="394.9" r="4.7" fill="url(#tA)"/>
<circle cx="524.4" cy="385.0" r="6.4" fill="url(#tA)"/>
<circle cx="481.9" cy="398.2" r="4.7" fill="url(#tA)"/>
<circle cx="518.5" cy="387.5" r="5.6" fill="url(#tA)"/>
<circle cx="473.0" cy="402.3" r="6.3" fill="url(#tA)"/>
<circle cx="469.3" cy="403.5" r="6.0" fill="url(#tA)"/>
<circle cx="503.7" cy="393.6" r="5.1" fill="url(#tA)"/>
<circle cx="476.4" cy="401.8" r="5.4" fill="url(#tA)"/>
<circle cx="516.7" cy="389.7" r="5.4" fill="url(#tA)"/>
<circle cx="491.4" cy="397.3" r="7.3" fill="url(#tA)"/>
<circle cx="492.8" cy="397.0" r="5.1" fill="url(#tA)"/>
<circle cx="474.3" cy="402.6" r="4.2" fill="url(#tA)"/>
<circle cx="471.3" cy="403.7" r="6.6" fill="url(#tA)"/>
<circle cx="485.5" cy="399.9" r="7.2" fill="url(#tA)"/>
<circle cx="486.2" cy="400.0" r="5.9" fill="url(#tA)"/>
<circle cx="452.6" cy="410.5" r="5.0" fill="url(#tB)"/>
<circle cx="474.8" cy="404.0" r="6.5" fill="url(#tC)"/>
<circle cx="519.4" cy="390.8" r="6.8" fill="url(#tA)"/>
<circle cx="445.4" cy="413.1" r="6.4" fill="url(#tB)"/>
<circle cx="491.2" cy="399.8" r="6.9" fill="url(#tA)"/>
<circle cx="504.2" cy="396.1" r="4.8" fill="url(#tA)"/>
<circle cx="448.3" cy="413.1" r="6.3" fill="url(#tC)"/>
<circle cx="454.0" cy="411.5" r="5.8" fill="url(#tC)"/>
<circle cx="488.1" cy="401.3" r="7.4" fill="url(#tA)"/>
<circle cx="520.5" cy="391.6" r="7.5" fill="url(#tA)"/>
<circle cx="525.1" cy="390.4" r="4.3" fill="url(#tA)"/>
<circle cx="486.1" cy="402.5" r="6.6" fill="url(#tA)"/>
<circle cx="511.0" cy="395.2" r="4.9" fill="url(#tA)"/>
<circle cx="448.1" cy="414.9" r="4.7" fill="url(#tC)"/>
<circle cx="502.3" cy="399.1" r="7.0" fill="url(#tA)"/>
<circle cx="528.6" cy="391.5" r="6.5" fill="url(#tA)"/>
<circle cx="495.0" cy="402.1" r="6.7" fill="url(#tA)"/>
<circle cx="525.0" cy="393.5" r="4.9" fill="url(#tA)"/>
<circle cx="473.9" cy="409.2" r="5.7" fill="url(#tB)"/>
<circle cx="520.0" cy="395.5" r="7.5" fill="url(#tA)"/>
<circle cx="522.1" cy="395.5" r="5.7" fill="url(#tA)"/>
<circle cx="515.4" cy="397.5" r="4.5" fill="url(#tA)"/>
<circle cx="491.3" cy="404.8" r="6.4" fill="url(#tC)"/>
<circle cx="527.1" cy="394.6" r="6.6" fill="url(#tA)"/>
<circle cx="518.3" cy="397.9" r="6.7" fill="url(#tA)"/>
<circle cx="498.2" cy="404.0" r="4.9" fill="url(#tA)"/>
<circle cx="455.2" cy="417.3" r="6.8" fill="url(#tC)"/>
<circle cx="503.0" cy="403.4" r="5.8" fill="url(#tA)"/>
<circle cx="530.3" cy="395.3" r="4.7" fill="url(#tA)"/>
<circle cx="514.1" cy="400.7" r="6.8" fill="url(#tA)"/>
<circle cx="491.2" cy="408.7" r="5.5" fill="url(#tB)"/>
<circle cx="475.8" cy="414.6" r="4.6" fill="url(#tB)"/>
<circle cx="529.2" cy="399.5" r="7.3" fill="url(#tA)"/>
<circle cx="479.2" cy="414.6" r="5.2" fill="url(#tC)"/>
<circle cx="480.5" cy="414.8" r="5.4" fill="url(#tB)"/>
<circle cx="463.0" cy="421.0" r="4.7" fill="url(#tA)"/>
<circle cx="466.2" cy="420.0" r="7.0" fill="url(#tA)"/>
<circle cx="516.5" cy="406.0" r="5.1" fill="url(#tA)"/>
<circle cx="514.5" cy="407.4" r="6.5" fill="url(#tC)"/>
<circle cx="475.0" cy="419.6" r="6.3" fill="url(#tC)"/>
<circle cx="475.9" cy="419.6" r="4.3" fill="url(#tB)"/>
<circle cx="518.8" cy="407.2" r="5.2" fill="url(#tA)"/>
<circle cx="474.4" cy="421.2" r="5.5" fill="url(#tC)"/>
<circle cx="473.0" cy="422.4" r="6.3" fill="url(#tC)"/>
<circle cx="528.3" cy="405.9" r="5.0" fill="url(#tA)"/>
<circle cx="467.8" cy="426.0" r="7.4" fill="url(#tA)"/>
<circle cx="512.6" cy="413.0" r="4.4" fill="url(#tC)"/>
<circle cx="508.8" cy="414.4" r="4.3" fill="url(#tC)"/>
<circle cx="510.4" cy="414.2" r="5.2" fill="url(#tC)"/>
<circle cx="506.3" cy="415.6" r="4.3" fill="url(#tC)"/>
<circle cx="483.2" cy="423.4" r="6.4" fill="url(#tC)"/>
<circle cx="531.0" cy="411.5" r="5.6" fill="url(#tA)"/>
<circle cx="494.3" cy="424.1" r="4.6" fill="url(#tC)"/>
<circle cx="507.0" cy="422.7" r="4.7" fill="url(#tC)"/>
<circle cx="515.8" cy="420.7" r="6.7" fill="url(#tA)"/>
<circle cx="523.8" cy="421.7" r="4.9" fill="url(#tA)"/>
</g>
<text x="-0.6" y="27.0" font-size="50" font-weight="bold" fill="#000">a</text>
<text x="347.9" y="210.9" font-size="35.4">SARS-CoV-2 M<tspan font-size="21" dy="-13">pro</tspan></text>
<text x="402.0" y="487.5" font-size="35.3">TMPRSS2</text>
<text x="7.0" y="443.8" font-size="35.3"><tspan font-style="italic">De novo</tspan> sythesized</text>
<text x="165.6" y="488.0" font-size="35.3" text-anchor="middle">chemical library</text>
<line x1="646.0" y1="269.1" x2="844.0" y2="269.1" stroke="#858585" stroke-width="2.8" stroke-linecap="butt"/>
<path d="M842.0 259.3 L866.8 269.1 L842.0 278.9 L846.0 269.1 Z" fill="#858585"/>
<line x1="1395.0" y1="269.4" x2="1592.8" y2="269.4" stroke="#858585" stroke-width="2.8" stroke-linecap="butt"/>
<path d="M1590.8 259.2 L1616.2 269.4 L1590.8 279.6 L1594.8 269.4 Z" fill="#858585"/>
<text x="746.5" y="309.4" font-size="35.5" text-anchor="middle">Dual-target</text>
<text x="752.0" y="350.0" font-size="35.5" text-anchor="middle">enzymatic screening</text>
<text x="1495.0" y="309.3" font-size="35.5" text-anchor="middle">Stepwise</text>
<text x="1500.0" y="350.3" font-size="35.5" text-anchor="middle">structure optimization</text>
<text x="1840.3" y="443.5" font-size="34.5" text-anchor="middle">TMP1</text>
<text x="1145.8" y="442.8" font-size="35.5" text-anchor="middle">Lead compound <tspan font-weight="bold">E87</tspan></text>
<text x="966.0" y="110.9" font-size="35.4">Region I (R<tspan font-size="21" dy="-13">1</tspan><tspan dy="13">)</tspan></text>
<text x="711.5" y="161.5" font-size="35.4">Region II (R<tspan font-size="21" dy="-13">2</tspan><tspan dy="13">)</tspan></text>
<text x="1186.0" y="186.1" font-size="35.5">Region III (M)</text>
<text x="1165.5" y="391.7" font-size="35.4">Region IV (R<tspan font-size="21" dy="-13">3</tspan><tspan dy="13">)</tspan></text>
<circle cx="944.6" cy="206.4" r="44.3" fill="#EEB21E"/>
<circle cx="1062.4" cy="158.6" r="32.6" fill="#0FEEF6"/>
<ellipse cx="1128.5" cy="199.0" rx="45.5" ry="29.5" transform="rotate(-21 1128.5 199)" fill="#17F20C"/>
<circle cx="1259.2" cy="308.0" r="45.5" fill="#EE1AEE"/>
<path d="M940.5 182.9 L964.7 176.8 L982.9 194.2 L977.6 220.0 L951.8 226.8 L933.6 208.6 Z" fill="none" stroke="#000" stroke-width="2.3" stroke-linejoin="round" stroke-linecap="round"/>
<line x1="933.6" y1="208.6" x2="919.2" y2="194.2" stroke="#000" stroke-width="2.3" stroke-linecap="round"/>
<line x1="933.6" y1="208.6" x2="917.0" y2="212.4" stroke="#000" stroke-width="2.3" stroke-linecap="round"/>
<text x="914.7" y="193.6" font-size="17.5" text-anchor="middle" fill="#000">F</text>
<text x="909.4" y="218.6" font-size="17.5" text-anchor="middle" fill="#000">F</text>
<line x1="982.9" y1="194.2" x2="1007.1" y2="188.9" stroke="#000" stroke-width="2.3" stroke-linecap="round"/>
<line x1="1005.5" y1="188.3" x2="1011.6" y2="171.9" stroke="#000" stroke-width="2.3" stroke-linecap="round"/>
<line x1="1008.7" y1="189.5" x2="1014.8" y2="173.1" stroke="#000" stroke-width="2.3" stroke-linecap="round"/>
<text x="1014.7" y="167.9" font-size="17.5" text-anchor="middle" fill="#000">O</text>
<line x1="1007.1" y1="188.9" x2="1019.2" y2="198.8" stroke="#000" stroke-width="2.3" stroke-linecap="round"/>
<text x="1026.0" y="211.8" font-size="17.5" text-anchor="middle" fill="#000">N</text>
<text x="1026.0" y="226.2" font-size="17.5" text-anchor="middle" fill="#000">H</text>
<line x1="1034.4" y1="204.1" x2="1050.3" y2="200.3" stroke="#000" stroke-width="2.3" stroke-linecap="round"/>
<path d="M1050.3 200.3 L1060.1 175.1 L1055.7 173.9 Z" fill="#000"/>
<line x1="1057.9" y1="174.5" x2="1038.9" y2="157.1" stroke="#000" stroke-width="2.3" stroke-linecap="round"/>
<line x1="1057.9" y1="174.5" x2="1082.9" y2="168.5" stroke="#000" stroke-width="2.3" stroke-linecap="round"/>
<line x1="1057.9" y1="174.5" x2="1061.7" y2="160.8" stroke="#000" stroke-width="2.3" stroke-linecap="round"/>
<text x="1070.0" y="155.7" font-size="17.5" text-anchor="middle" fill="#000">OH</text>
<line x1="1050.3" y1="200.3" x2="1069.2" y2="218.5" stroke="#000" stroke-width="2.3" stroke-linecap="round"/>
<line x1="1070.8" y1="219.0" x2="1066.1" y2="235.5" stroke="#000" stroke-width="2.3" stroke-linecap="round"/>
<line x1="1067.6" y1="218.0" x2="1062.9" y2="234.5" stroke="#000" stroke-width="2.3" stroke-linecap="round"/>
<text x="1061.7" y="247.4" font-size="17.5" text-anchor="middle" fill="#000">O</text>
<line x1="1069.2" y1="218.5" x2="1084.4" y2="213.2" stroke="#000" stroke-width="2.3" stroke-linecap="round"/>
<text x="1092.0" y="214.8" font-size="17.5" text-anchor="middle" fill="#000">N</text>
<path d="M1095.5 201.5 L1100.3 185.9 L1125.3 185.9 L1135.9 210.9 L1113.9 224.5 L1101.8 217.0" fill="none" stroke="#000" stroke-width="2.3" stroke-linejoin="round" stroke-linecap="round"/>
<path d="M1125.3 185.9 L1147.3 170.8 L1167.7 185.9 L1160.2 210.2 L1135.9 210.9" fill="none" stroke="#000" stroke-width="2.3" stroke-linejoin="round" stroke-linecap="round"/>
<path d="M1125.3 185.9 L1124.0 171.0 L1120.0 172.0 Z" fill="#000"/>
<text x="1118.5" y="166.4" font-size="17.5" text-anchor="middle" fill="#000">H</text>
<path d="M1135.9 210.9 L1137.3 225.5 L1141.3 224.5 Z" fill="#000"/>
<text x="1142.7" y="239.8" font-size="17.5" text-anchor="middle" fill="#000">H</text>
<path d="M1113.9 224.5 L1111.7 250.3 L1116.2 250.3 Z" fill="#000"/>
<line x1="1114.8" y1="251.8" x2="1099.4" y2="261.0" stroke="#000" stroke-width="2.3" stroke-linecap="round"/>
<line x1="1113.0" y1="248.8" x2="1097.6" y2="258.0" stroke="#000" stroke-width="2.3" stroke-linecap="round"/>
<text x="1092.0" y="267.9" font-size="17.5" text-anchor="middle" fill="#000">O</text>
<line x1="1113.9" y1="250.3" x2="1126.8" y2="258.6" stroke="#000" stroke-width="2.3" stroke-linecap="round"/>
<text x="1142.0" y="267.9" font-size="17.5" text-anchor="middle" fill="#000">NH</text>
<line x1="1135.8" y1="273.4" x2="1135.8" y2="289.0" stroke="#000" stroke-width="2.3" stroke-linecap="round"/>
<path d="M1135.8 289.0 L1112.8 298.5 L1114.8 302.5 Z" fill="#000"/>
<line x1="1113.8" y1="300.5" x2="1113.8" y2="328.0" stroke="#000" stroke-width="2.3" stroke-linecap="round"/>
<path d="M1113.8 328.0 L1136.5 340.3 L1136.5 365.6 L1113.8 378.6 L1091.0 365.6 L1091.0 340.3 Z" fill="none" stroke="#000" stroke-width="2.3" stroke-linejoin="round" stroke-linecap="round"/>
<line x1="1097.0" y1="341.2" x2="1111.6" y2="333.3" stroke="#000" stroke-width="2.3" stroke-linecap="round"/>
<line x1="1132.9" y1="344.9" x2="1132.9" y2="361.1" stroke="#000" stroke-width="2.3" stroke-linecap="round"/>
<line x1="1111.5" y1="373.2" x2="1096.9" y2="364.8" stroke="#000" stroke-width="2.3" stroke-linecap="round"/>
<line x1="1135.8" y1="289.0" x2="1157.9" y2="300.6" stroke="#000" stroke-width="2.3" stroke-linecap="round"/>
<line x1="1159.6" y1="300.6" x2="1159.6" y2="318.5" stroke="#000" stroke-width="2.3" stroke-linecap="round"/>
<line x1="1156.2" y1="300.6" x2="1156.2" y2="318.5" stroke="#000" stroke-width="2.3" stroke-linecap="round"/>
<text x="1157.9" y="332.2" font-size="17.5" text-anchor="middle" fill="#000">O</text>
<line x1="1157.9" y1="300.6" x2="1180.0" y2="289.0" stroke="#000" stroke-width="2.3" stroke-linecap="round"/>
<line x1="1178.3" y1="289.0" x2="1178.3" y2="273.0" stroke="#000" stroke-width="2.3" stroke-linecap="round"/>
<line x1="1181.7" y1="289.0" x2="1181.7" y2="273.0" stroke="#000" stroke-width="2.3" stroke-linecap="round"/>
<text x="1180.0" y="267.9" font-size="17.5" text-anchor="middle" fill="#000">O</text>
<line x1="1180.0" y1="289.0" x2="1194.3" y2="296.8" stroke="#000" stroke-width="2.3" stroke-linecap="round"/>
<text x="1202.0" y="306.2" font-size="17.5" text-anchor="middle" fill="#000">N</text>
<text x="1202.0" y="321.2" font-size="17.5" text-anchor="middle" fill="#000">H</text>
<line x1="1209.5" y1="297.5" x2="1224.2" y2="289.0" stroke="#000" stroke-width="2.3" stroke-linecap="round"/>
<line x1="1224.2" y1="289.0" x2="1246.9" y2="301.3" stroke="#000" stroke-width="2.3" stroke-linecap="round"/>
<path d="M1246.9 321.0 L1246.9 301.3 L1268.3 289.0 L1291.0 301.3 L1291.0 326.6 L1268.3 339.6 L1253.5 331.0" fill="none" stroke="#000" stroke-width="2.3" stroke-linejoin="round" stroke-linecap="round"/>
<line x1="1250.5" y1="307.8" x2="1250.5" y2="320.8" stroke="#000" stroke-width="2.3" stroke-linecap="round"/>
<line x1="1270.6" y1="294.3" x2="1285.1" y2="302.2" stroke="#000" stroke-width="2.3" stroke-linecap="round"/>
<line x1="1285.1" y1="325.8" x2="1270.6" y2="334.1" stroke="#000" stroke-width="2.3" stroke-linecap="round"/>
<text x="1246.5" y="334.7" font-size="17.5" text-anchor="middle" fill="#000">N</text>
<path d="M1607.3 178.2 L1631.9 171.9 L1649.5 190.2 L1643.2 214.8 L1618.5 221.8 L1600.2 203.6 Z" fill="none" stroke="#000" stroke-width="2.3" stroke-linejoin="round" stroke-linecap="round"/>
<line x1="1600.2" y1="203.6" x2="1586.9" y2="189.5" stroke="#000" stroke-width="2.3" stroke-linecap="round"/>
<text x="1582.7" y="188.7" font-size="17.5" text-anchor="middle" fill="#000">F</text>
<line x1="1600.2" y1="203.6" x2="1583.4" y2="207.8" stroke="#000" stroke-width="2.3" stroke-linecap="round"/>
<text x="1575.6" y="213.3" font-size="17.5" text-anchor="middle" fill="#000">F</text>
<line x1="1649.5" y1="190.2" x2="1674.8" y2="183.9" stroke="#000" stroke-width="2.3" stroke-linecap="round"/>
<line x1="1673.2" y1="183.4" x2="1678.1" y2="167.9" stroke="#000" stroke-width="2.3" stroke-linecap="round"/>
<line x1="1676.4" y1="184.4" x2="1681.3" y2="168.9" stroke="#000" stroke-width="2.3" stroke-linecap="round"/>
<text x="1680.4" y="162.6" font-size="17.5" text-anchor="middle" fill="#000">O</text>
<line x1="1674.8" y1="183.9" x2="1686.0" y2="194.4" stroke="#000" stroke-width="2.3" stroke-linecap="round"/>
<text x="1692.4" y="206.2" font-size="17.5" text-anchor="middle" fill="#000">N</text>
<text x="1692.4" y="220.3" font-size="17.5" text-anchor="middle" fill="#000">H</text>
<line x1="1700.8" y1="200.0" x2="1717.7" y2="195.1" stroke="#000" stroke-width="2.3" stroke-linecap="round"/>
<path d="M1717.7 195.1 L1726.2 170.5 L1721.8 169.5 Z" fill="#000"/>
<path d="M1724.0 169.1 L1705.8 152.2 L1712.1 126.9 L1737.4 120.6 L1755.7 138.8 L1749.4 163.5 Z" fill="none" stroke="#000" stroke-width="2.3" stroke-linejoin="round" stroke-linecap="round"/>
<line x1="1717.7" y1="195.1" x2="1736.0" y2="212.7" stroke="#000" stroke-width="2.3" stroke-linecap="round"/>
<line x1="1737.6" y1="213.2" x2="1732.6" y2="230.5" stroke="#000" stroke-width="2.3" stroke-linecap="round"/>
<line x1="1734.4" y1="212.2" x2="1729.4" y2="229.5" stroke="#000" stroke-width="2.3" stroke-linecap="round"/>
<text x="1729.0" y="241.4" font-size="17.5" text-anchor="middle" fill="#000">O</text>
<line x1="1736.0" y1="212.7" x2="1751.5" y2="207.8" stroke="#000" stroke-width="2.3" stroke-linecap="round"/>
<text x="1760.0" y="209.1" font-size="17.5" text-anchor="middle" fill="#000">N</text>
<path d="M1764.8 194.4 L1767.7 181.0 L1793.7 181.0 L1801.4 205.7 L1781.0 219.7 L1768.4 210.6" fill="none" stroke="#000" stroke-width="2.3" stroke-linejoin="round" stroke-linecap="round"/>
<line x1="1794.1" y1="179.3" x2="1795.2" y2="180.3" stroke="#000" stroke-width="1.3" stroke-linecap="butt"/>
<line x1="1795.7" y1="176.7" x2="1797.5" y2="178.2" stroke="#000" stroke-width="1.3" stroke-linecap="butt"/>
<line x1="1797.3" y1="174.0" x2="1799.9" y2="176.1" stroke="#000" stroke-width="1.3" stroke-linecap="butt"/>
<line x1="1799.0" y1="171.4" x2="1802.2" y2="174.0" stroke="#000" stroke-width="1.3" stroke-linecap="butt"/>
<line x1="1800.6" y1="168.7" x2="1804.5" y2="171.9" stroke="#000" stroke-width="1.3" stroke-linecap="butt"/>
<text x="1807.8" y="162.6" font-size="17.5" text-anchor="middle" fill="#000">F</text>
<path d="M1781.0 219.7 L1778.4 244.5 L1782.8 244.5 Z" fill="#000"/>
<line x1="1781.5" y1="245.3" x2="1768.6" y2="255.6" stroke="#000" stroke-width="2.3" stroke-linecap="round"/>
<line x1="1779.3" y1="242.7" x2="1766.4" y2="253.0" stroke="#000" stroke-width="2.3" stroke-linecap="round"/>
<text x="1758.9" y="263.0" font-size="17.5" text-anchor="middle" fill="#000">O</text>
<line x1="1780.4" y1="244.0" x2="1793.9" y2="252.8" stroke="#000" stroke-width="2.3" stroke-linecap="round"/>
<text x="1808.7" y="263.0" font-size="17.5" text-anchor="middle" fill="#000">NH</text>
<line x1="1802.7" y1="267.6" x2="1802.7" y2="284.5" stroke="#000" stroke-width="2.3" stroke-linecap="round"/>
<path d="M1802.7 284.5 L1779.4 294.2 L1781.4 298.2 Z" fill="#000"/>
<line x1="1780.4" y1="296.2" x2="1780.4" y2="323.5" stroke="#000" stroke-width="2.3" stroke-linecap="round"/>
<path d="M1780.4 323.5 L1802.7 335.0 L1802.7 361.3 L1780.4 374.1 L1758.2 361.3 L1758.2 335.0 Z" fill="none" stroke="#000" stroke-width="2.3" stroke-linejoin="round" stroke-linecap="round"/>
<line x1="1764.0" y1="336.0" x2="1778.2" y2="328.7" stroke="#000" stroke-width="2.3" stroke-linecap="round"/>
<line x1="1799.1" y1="339.8" x2="1799.1" y2="356.6" stroke="#000" stroke-width="2.3" stroke-linecap="round"/>
<line x1="1778.2" y1="368.7" x2="1764.0" y2="360.5" stroke="#000" stroke-width="2.3" stroke-linecap="round"/>
<line x1="1802.7" y1="284.5" x2="1824.9" y2="296.6" stroke="#000" stroke-width="2.3" stroke-linecap="round"/>
<line x1="1826.6" y1="296.6" x2="1826.6" y2="313.4" stroke="#000" stroke-width="2.3" stroke-linecap="round"/>
<line x1="1823.2" y1="296.6" x2="1823.2" y2="313.4" stroke="#000" stroke-width="2.3" stroke-linecap="round"/>
<text x="1824.9" y="327.0" font-size="17.5" text-anchor="middle" fill="#000">O</text>
<line x1="1824.9" y1="296.6" x2="1847.1" y2="284.5" stroke="#000" stroke-width="2.3" stroke-linecap="round"/>
<line x1="1845.4" y1="284.5" x2="1845.4" y2="267.6" stroke="#000" stroke-width="2.3" stroke-linecap="round"/>
<line x1="1848.8" y1="284.5" x2="1848.8" y2="267.6" stroke="#000" stroke-width="2.3" stroke-linecap="round"/>
<text x="1847.1" y="263.0" font-size="17.5" text-anchor="middle" fill="#000">O</text>
<line x1="1847.1" y1="284.5" x2="1860.6" y2="291.9" stroke="#000" stroke-width="2.3" stroke-linecap="round"/>
<text x="1869.3" y="300.1" font-size="17.5" text-anchor="middle" fill="#000">N</text>
<text x="1869.3" y="316.2" font-size="17.5" text-anchor="middle" fill="#000">H</text>
<line x1="1877.4" y1="291.9" x2="1891.6" y2="283.8" stroke="#000" stroke-width="2.3" stroke-linecap="round"/>
<line x1="1891.6" y1="283.8" x2="1914.5" y2="295.9" stroke="#000" stroke-width="2.3" stroke-linecap="round"/>
<path d="M1914.5 313.5 L1914.5 295.9 L1935.4 283.8 L1957.6 296.6 L1957.6 322.2 L1935.4 335.0 L1921.0 326.5" fill="none" stroke="#000" stroke-width="2.3" stroke-linejoin="round" stroke-linecap="round"/>
<line x1="1918.1" y1="302.5" x2="1918.1" y2="315.7" stroke="#000" stroke-width="2.3" stroke-linecap="round"/>
<line x1="1937.6" y1="289.2" x2="1951.8" y2="297.4" stroke="#000" stroke-width="2.3" stroke-linecap="round"/>
<line x1="1951.9" y1="321.4" x2="1937.7" y2="329.5" stroke="#000" stroke-width="2.3" stroke-linecap="round"/>
<text x="1913.8" y="327.0" font-size="17.5" text-anchor="middle" fill="#000">N</text>
<line x1="1957.6" y1="322.2" x2="1972.4" y2="331.6" stroke="#000" stroke-width="2.3" stroke-linecap="round"/>
<text x="1974.0" y="341.3" font-size="17.5" fill="#000">Cl</text>
</svg></body></html>
